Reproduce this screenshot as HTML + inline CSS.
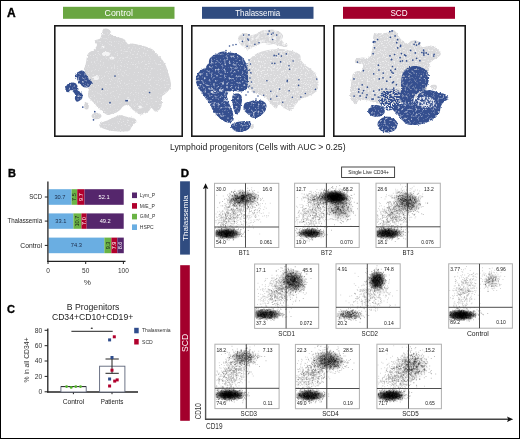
<!DOCTYPE html>
<html><head><meta charset="utf-8"><style>
html,body{margin:0;padding:0;background:#fff;}
svg{display:block;will-change:transform;}
text{font-family:"Liberation Sans", sans-serif;}
</style></head><body>
<svg width="520" height="439" viewBox="0 0 520 439">
<defs>
<filter id="rough" x="-5%" y="-5%" width="110%" height="110%"><feTurbulence type="fractalNoise" baseFrequency="0.6" numOctaves="2" seed="3" result="n"/><feDisplacementMap in="SourceGraphic" in2="n" scale="2.5" xChannelSelector="R" yChannelSelector="G"/></filter>
<filter id="texb" x="-5%" y="-5%" width="110%" height="110%"><feTurbulence type="fractalNoise" baseFrequency="0.6" numOctaves="2" seed="3" result="n"/><feDisplacementMap in="SourceGraphic" in2="n" scale="2.6" xChannelSelector="R" yChannelSelector="G" result="d"/><feTurbulence type="fractalNoise" baseFrequency="0.45" numOctaves="2" seed="11" result="n2"/><feComponentTransfer in="n2" result="m"><feFuncA type="discrete" tableValues="1 1 1 1 1 1 1 1 1 .85 .7 .55 .4 .35 .35 .35"/></feComponentTransfer><feComposite in="d" in2="m" operator="in"/></filter>
<filter id="texb2" x="-5%" y="-5%" width="110%" height="110%"><feTurbulence type="fractalNoise" baseFrequency="0.6" numOctaves="2" seed="3" result="n"/><feDisplacementMap in="SourceGraphic" in2="n" scale="2.6" xChannelSelector="R" yChannelSelector="G" result="d"/><feTurbulence type="fractalNoise" baseFrequency="0.6" numOctaves="2" seed="11" result="n2"/><feComponentTransfer in="n2" result="m"><feFuncA type="discrete" tableValues="1 1 1 1 1 1 1 1 .5 .2 0 0 0 0 0 0"/></feComponentTransfer><feComposite in="d" in2="m" operator="in"/></filter>
<filter id="texg" x="-5%" y="-5%" width="110%" height="110%"><feTurbulence type="fractalNoise" baseFrequency="0.6" numOctaves="2" seed="3" result="n"/><feDisplacementMap in="SourceGraphic" in2="n" scale="2.6" xChannelSelector="R" yChannelSelector="G" result="d"/><feTurbulence type="fractalNoise" baseFrequency="0.7" numOctaves="2" seed="11" result="n2"/><feComponentTransfer in="n2" result="m"><feFuncA type="discrete" tableValues="1 1 1 1 1 1 1 1 1 1 .85 .7 .6 .6 .6 .6"/></feComponentTransfer><feComposite in="d" in2="m" operator="in"/></filter>
<filter id="texg2" x="-5%" y="-5%" width="110%" height="110%"><feTurbulence type="fractalNoise" baseFrequency="0.6" numOctaves="2" seed="3" result="n"/><feDisplacementMap in="SourceGraphic" in2="n" scale="2.6" xChannelSelector="R" yChannelSelector="G" result="d"/><feTurbulence type="fractalNoise" baseFrequency="0.7" numOctaves="2" seed="11" result="n2"/><feComponentTransfer in="n2" result="m"><feFuncA type="discrete" tableValues="1 1 1 1 1 1 1 1 1 .85 .6 .5 .4 .4 .4 .4"/></feComponentTransfer><feComposite in="d" in2="m" operator="in"/></filter>
<filter id="texg3" x="-5%" y="-5%" width="110%" height="110%"><feTurbulence type="fractalNoise" baseFrequency="0.6" numOctaves="2" seed="3" result="n"/><feDisplacementMap in="SourceGraphic" in2="n" scale="2.6" xChannelSelector="R" yChannelSelector="G" result="d"/><feTurbulence type="fractalNoise" baseFrequency="0.35" numOctaves="2" seed="5" result="n2"/><feComponentTransfer in="n2" result="m"><feFuncA type="discrete" tableValues="1 1 1 1 1 1 1 1 .8 .6 .45 .35 .3 .3 .3 .3"/></feComponentTransfer><feComposite in="d" in2="m" operator="in"/></filter>
</defs>
<rect width="520" height="439" fill="#fff"/>
<text x="7" y="16.9" font-size="12" fill="#000" text-anchor="start" font-weight="bold" stroke="#000" stroke-width=".35">A</text>
<rect x="63" y="6.8" width="111.5" height="12" fill="#6aa642"/>
<text x="118.75" y="15.7" font-size="8.7" fill="#fff" text-anchor="middle" textLength="28.4" lengthAdjust="spacingAndGlyphs">Control</text>
<rect x="202" y="6.8" width="111.5" height="12" fill="#304c80"/>
<text x="257.75" y="15.7" font-size="8.7" fill="#fff" text-anchor="middle" textLength="45" lengthAdjust="spacingAndGlyphs">Thalassemia</text>
<rect x="343" y="6.8" width="112" height="12" fill="#a3002c"/>
<text x="399.0" y="15.7" font-size="8.7" fill="#fff" text-anchor="middle" textLength="17.2" lengthAdjust="spacingAndGlyphs">SCD</text>
<path d="M102.0 33.0C102.5 31.5 102.3 30.2 103.0 29.5C103.7 28.8 105.0 28.5 106.0 28.5C107.0 28.5 108.2 28.9 109.0 29.5C109.8 30.1 110.6 31.1 111.0 32.0C111.4 32.9 110.6 34.2 111.5 35.0C112.4 35.8 115.0 36.5 116.6 37.0C118.2 37.5 119.7 37.6 121.0 38.0C122.3 38.4 123.3 38.5 124.5 39.5C125.7 40.5 126.9 43.4 128.0 44.0C129.1 44.6 129.8 43.4 131.2 43.4C132.6 43.4 134.6 43.8 136.7 44.3C138.8 44.8 141.9 45.5 144.0 46.1C146.1 46.7 148.0 47.3 149.5 47.9C151.0 48.5 151.9 48.9 153.1 49.8C154.3 50.7 155.6 52.2 156.8 53.4C158.0 54.6 159.2 55.6 160.4 57.1C161.6 58.6 163.0 60.8 164.1 62.6C165.2 64.4 165.9 65.6 166.8 68.0C167.7 70.4 168.9 74.4 169.6 77.2C170.3 80.0 171.1 82.9 171.0 85.0C170.9 87.1 170.0 88.5 169.0 90.0C168.0 91.5 166.2 92.9 165.0 94.0C163.8 95.1 162.5 95.3 162.0 96.5C161.5 97.7 162.1 99.4 162.0 101.0C161.9 102.6 162.0 104.5 161.5 106.0C161.0 107.5 160.1 109.1 159.0 110.0C157.9 110.9 156.2 111.8 155.0 111.5C153.8 111.2 152.5 108.1 151.5 108.0C150.5 107.9 150.2 110.0 149.0 111.0C147.8 112.0 145.5 113.4 144.0 114.0C142.5 114.6 141.3 114.8 140.0 114.5C138.7 114.2 137.2 112.8 136.0 112.0C134.8 111.2 134.0 110.9 133.0 110.0C132.0 109.1 131.0 107.3 130.0 106.5C129.0 105.7 128.2 105.0 127.0 105.0C125.8 105.0 124.2 105.7 123.0 106.5C121.8 107.3 121.1 109.0 120.0 110.0C118.9 111.0 117.8 111.8 116.5 112.5C115.2 113.2 113.5 113.6 112.0 114.0C110.5 114.4 109.0 115.3 107.5 115.0C106.0 114.7 104.5 113.1 103.0 112.0C101.5 110.9 99.8 109.8 98.5 108.5C97.2 107.2 96.2 105.4 95.0 104.0C93.8 102.6 92.2 101.3 91.0 100.0C89.8 98.7 88.3 97.8 88.0 96.0C87.7 94.2 88.6 91.3 89.0 89.0C89.4 86.7 90.8 84.2 90.5 82.0C90.2 79.8 88.1 78.0 87.0 76.0C85.9 74.0 84.2 71.8 84.0 70.0C83.8 68.2 85.1 66.7 85.5 65.0C85.9 63.3 86.1 61.6 86.4 60.0C86.7 58.4 86.8 56.5 87.3 55.2C87.8 54.0 88.0 53.4 89.1 52.5C90.2 51.6 92.4 51.0 93.7 49.8C95.0 48.5 96.8 46.5 97.0 45.0C97.2 43.5 94.7 41.9 94.6 41.0C94.5 40.1 95.6 40.1 96.5 39.7C97.4 39.3 99.1 39.6 100.0 38.5C100.9 37.4 101.5 34.5 102.0 33.0Z" fill="#d6d6d8" filter="url(#texg)"/>
<path d="M100.0 123.4C100.8 122.7 102.8 122.0 104.0 121.5C105.2 121.0 106.2 121.1 107.4 120.6C108.6 120.1 109.8 119.1 111.0 118.5C112.2 117.9 113.2 117.6 114.7 117.0C116.2 116.4 118.7 115.3 120.2 115.1C121.8 114.9 122.8 115.7 124.0 116.0C125.2 116.3 126.3 116.8 127.5 117.0C128.7 117.2 129.8 117.2 131.0 117.5C132.2 117.8 133.9 118.1 134.8 118.8C135.7 119.5 136.6 120.7 136.6 121.5C136.6 122.3 135.6 122.9 135.0 123.5C134.4 124.1 133.7 124.5 133.0 125.2C132.3 126.0 131.6 127.1 131.0 128.0C130.4 128.9 130.5 130.1 129.3 130.7C128.1 131.3 125.5 131.7 124.0 131.8C122.5 132.0 121.7 131.7 120.2 131.6C118.7 131.5 116.5 131.3 115.0 131.2C113.5 131.0 112.5 131.0 111.0 130.7C109.5 130.4 107.5 129.9 106.0 129.5C104.5 129.1 103.1 128.6 102.0 128.0C100.9 127.4 99.8 126.8 99.5 126.0C99.2 125.2 99.2 124.2 100.0 123.4Z" fill="#d6d6d8" filter="url(#texg)"/>
<ellipse cx="96.5" cy="116" rx="5" ry="3.3" fill="#d6d6d8" filter="url(#texg)"/>
<ellipse cx="86.5" cy="106" rx="2.3" ry="3.5" fill="#d6d6d8" filter="url(#texg)"/>
<ellipse cx="106" cy="54" rx="4" ry="2.2" fill="#f4f4f5" filter="url(#rough)"/>
<ellipse cx="112" cy="58" rx="2.5" ry="1.5" fill="#f4f4f5" filter="url(#rough)"/>
<ellipse cx="96" cy="78" rx="3" ry="2" fill="#f4f4f5" filter="url(#rough)"/>
<ellipse cx="128" cy="100" rx="2" ry="1.5" fill="#f4f4f5" filter="url(#rough)"/>
<ellipse cx="140" cy="107" rx="2" ry="1.5" fill="#f4f4f5" filter="url(#rough)"/>
<ellipse cx="103" cy="47" rx="1.5" ry="1.2" fill="#f4f4f5" filter="url(#rough)"/>
<path d="M76.4 73.2C77.0 72.5 78.1 71.9 79.1 71.5C80.1 71.1 81.4 70.5 82.3 70.6C83.2 70.7 83.9 71.3 84.6 72.0C85.3 72.7 85.8 73.9 86.4 74.8C87.0 75.7 87.6 76.7 88.2 77.6C88.8 78.5 89.4 79.5 90.1 80.3C90.8 81.1 92.1 81.6 92.3 82.3C92.5 83.0 91.5 83.5 91.0 84.3C90.5 85.1 90.0 86.4 89.2 86.9C88.4 87.4 87.4 87.5 86.4 87.5C85.4 87.5 84.2 87.5 83.2 87.0C82.2 86.5 81.3 85.5 80.5 84.6C79.7 83.7 78.9 82.4 78.2 81.4C77.5 80.4 77.1 79.6 76.6 78.7C76.1 77.8 75.4 76.8 75.4 75.9C75.4 75.0 75.8 73.9 76.4 73.2Z" fill="#34508f" filter="url(#texb)"/>
<path d="M65.9 86.7C66.4 85.8 67.2 84.3 68.2 83.6C69.2 82.9 70.5 82.6 71.8 82.6C73.1 82.6 74.9 82.9 75.9 83.6C76.9 84.2 77.4 85.7 77.6 86.5C77.8 87.3 77.1 87.8 77.2 88.5C77.3 89.2 77.7 90.1 78.4 90.8C79.1 91.5 80.7 91.9 81.4 92.6C82.1 93.3 82.4 94.1 82.5 95.1C82.6 96.1 82.6 97.7 82.0 98.7C81.4 99.7 80.0 100.5 79.1 101.0C78.2 101.5 77.1 101.9 76.4 101.5C75.7 101.1 75.1 99.8 74.9 98.7C74.7 97.6 75.5 96.1 75.3 95.1C75.1 94.1 74.4 93.3 73.7 92.5C73.0 91.7 71.9 90.0 71.0 90.0C70.1 90.0 69.2 92.0 68.4 92.2C67.6 92.4 66.8 91.9 66.3 91.4C65.8 90.9 65.4 89.9 65.3 89.1C65.2 88.3 65.4 87.6 65.9 86.7Z" fill="#34508f" filter="url(#texb)"/>
<path d="M102.4 89.2h0M110.0 102.7h0M126.0 100.7h0M127.3 100.7h0M149.6 92.5h0M94.8 111.7h0M93.5 119.8h0M82.8 107.1h0M115.0 76.0h0" stroke="#34508f" stroke-width="1.7" stroke-linecap="round" fill="none"/>
<path d="M238.0 38.0C238.2 36.3 239.7 34.8 241.0 34.0C242.3 33.2 244.5 32.8 246.0 33.0C247.5 33.2 248.3 34.8 250.0 35.0C251.7 35.2 254.2 34.7 256.0 34.0C257.8 33.3 259.3 31.7 261.0 31.0C262.7 30.3 264.2 30.2 266.0 30.0C267.8 29.8 270.2 29.4 272.0 29.5C273.8 29.6 275.5 29.9 277.0 30.5C278.5 31.1 280.0 32.1 281.0 33.0C282.0 33.9 282.8 34.8 283.0 36.0C283.2 37.2 281.8 38.8 282.0 40.0C282.2 41.2 283.1 42.2 284.0 43.0C284.9 43.8 287.2 43.8 287.5 44.5C287.8 45.2 287.2 46.8 286.0 47.0C284.8 47.2 281.7 46.3 280.0 46.0C278.3 45.7 277.2 45.3 276.0 45.0C274.8 44.7 274.3 44.0 273.0 44.0C271.7 44.0 269.8 45.2 268.0 45.0C266.2 44.8 263.8 42.8 262.0 43.0C260.2 43.2 258.7 45.2 257.0 46.0C255.3 46.8 253.5 46.9 252.0 47.5C250.5 48.1 249.3 49.4 248.0 49.5C246.7 49.6 245.3 48.9 244.0 48.0C242.7 47.1 241.0 45.7 240.0 44.0C239.0 42.3 237.8 39.7 238.0 38.0Z" fill="#d9d9db" filter="url(#texg3)"/>
<path d="M264.0 51.0C266.7 50.2 269.3 49.8 272.0 49.5C274.7 49.2 277.3 48.9 280.0 49.0C282.7 49.1 285.5 49.5 288.0 50.0C290.5 50.5 293.0 51.2 295.0 52.0C297.0 52.8 299.0 53.7 300.0 55.0C301.0 56.3 300.2 58.3 301.0 60.0C301.8 61.7 303.5 63.6 305.0 65.0C306.5 66.4 308.3 67.2 310.0 68.5C311.7 69.8 313.8 71.4 315.0 73.0C316.2 74.6 316.9 76.2 317.5 78.0C318.1 79.8 318.6 82.0 318.5 84.0C318.4 86.0 317.9 88.3 317.0 90.0C316.1 91.7 314.7 92.8 313.0 94.0C311.3 95.2 308.8 96.2 307.0 97.0C305.2 97.8 303.7 97.5 302.0 98.5C300.3 99.5 298.3 101.6 297.0 103.0C295.7 104.4 295.2 105.8 294.0 107.0C292.8 108.2 291.7 110.3 290.0 110.5C288.3 110.7 285.7 109.0 284.0 108.0C282.3 107.0 281.3 104.4 280.0 104.5C278.7 104.6 277.3 108.4 276.0 108.5C274.7 108.6 273.7 106.8 272.0 105.0C270.3 103.2 268.0 99.7 266.0 98.0C264.0 96.3 262.3 96.0 260.0 95.0C257.7 94.0 254.3 93.7 252.0 92.0C249.7 90.3 247.2 87.8 246.0 85.0C244.8 82.2 244.8 78.2 245.0 75.0C245.2 71.8 246.2 68.7 247.0 66.0C247.8 63.3 248.5 61.0 250.0 59.0C251.5 57.0 253.7 55.3 256.0 54.0C258.3 52.7 261.3 51.8 264.0 51.0Z" fill="#d9d9db" filter="url(#texg2)"/>
<ellipse cx="252" cy="126.5" rx="1.8" ry="2.5" fill="#d9d9db" filter="url(#texg2)"/>
<path d="M223.0 51.5C225.0 51.4 227.7 52.1 230.0 52.5C232.3 52.9 235.0 53.2 237.0 54.0C239.0 54.8 240.6 55.7 242.0 57.0C243.4 58.3 244.6 60.2 245.5 62.0C246.4 63.8 247.1 65.8 247.5 68.0C247.9 70.2 247.9 72.8 248.0 75.0C248.1 77.2 248.1 79.0 248.0 81.0C247.9 83.0 248.0 85.4 247.5 87.0C247.0 88.6 246.2 89.8 245.0 90.5C243.8 91.2 241.7 91.4 240.0 91.5C238.3 91.6 236.7 91.0 235.0 91.0C233.3 91.0 231.3 90.7 230.0 91.5C228.7 92.3 227.2 94.1 227.0 96.0C226.8 97.9 228.2 100.7 229.0 103.0C229.8 105.3 231.2 107.8 232.0 110.0C232.8 112.2 233.3 114.2 233.5 116.0C233.7 117.8 233.9 119.9 233.0 121.0C232.1 122.1 229.8 122.9 228.0 122.7C226.2 122.5 223.7 121.0 222.0 120.0C220.3 119.0 219.5 118.0 218.0 116.5C216.5 115.0 214.3 113.1 213.0 111.0C211.7 108.9 211.2 106.0 210.0 104.0C208.8 102.0 207.3 100.8 206.0 99.0C204.7 97.2 203.3 95.0 202.0 93.0C200.7 91.0 199.0 88.8 198.0 87.0C197.0 85.2 196.2 83.8 196.0 82.0C195.8 80.2 195.8 77.8 196.5 76.0C197.2 74.2 198.6 72.4 200.0 71.0C201.4 69.6 203.6 68.8 205.0 67.5C206.4 66.2 207.8 64.4 208.5 63.0C209.2 61.6 208.8 60.2 209.5 59.0C210.2 57.8 211.6 56.5 213.0 55.5C214.4 54.5 216.3 53.7 218.0 53.0C219.7 52.3 221.0 51.6 223.0 51.5Z" fill="#34508f" filter="url(#texb)"/>
<ellipse cx="214" cy="92" rx="3.5" ry="1.6" fill="#fff" opacity="0.75" filter="url(#texb2)"/>
<ellipse cx="221" cy="90.5" rx="3" ry="1.4" fill="#fff" opacity="0.7" filter="url(#texb2)"/>
<ellipse cx="228" cy="93" rx="2.5" ry="2" fill="#fff" opacity="0.8" filter="url(#texb2)"/>
<ellipse cx="210" cy="88" rx="2" ry="1.2" fill="#fff" opacity="0.6" filter="url(#texb2)"/>
<ellipse cx="225" cy="100" rx="1.5" ry="1.2" fill="#fff" opacity="0.6" filter="url(#texb2)"/>
<ellipse cx="218" cy="104" rx="1.8" ry="1.2" fill="#fff" opacity="0.5" filter="url(#texb2)"/>
<ellipse cx="236" cy="68" rx="2" ry="1.2" fill="#fff" opacity="0.4" filter="url(#texb2)"/>
<ellipse cx="226" cy="60" rx="1.6" ry="1" fill="#fff" opacity="0.4" filter="url(#texb2)"/>
<path d="M233.0 95.0C233.8 93.9 235.7 93.5 237.0 93.5C238.3 93.5 240.2 93.9 241.0 95.0C241.8 96.1 242.0 98.2 242.0 100.0C242.0 101.8 241.3 104.2 241.0 106.0C240.7 107.8 240.6 109.6 240.0 111.0C239.4 112.4 238.4 114.3 237.5 114.5C236.6 114.7 235.2 113.4 234.5 112.0C233.8 110.6 233.4 108.0 233.0 106.0C232.6 104.0 232.0 101.8 232.0 100.0C232.0 98.2 232.2 96.1 233.0 95.0Z" fill="#34508f" filter="url(#texb)"/>
<path d="M245.0 103.0C246.2 102.0 248.6 101.7 250.4 101.2C252.2 100.7 254.2 100.1 256.0 100.0C257.8 99.9 259.7 100.0 261.2 100.4C262.7 100.8 264.1 101.6 265.0 102.5C265.9 103.4 266.4 104.7 266.5 106.0C266.6 107.3 266.2 109.1 265.5 110.5C264.8 111.9 263.5 113.2 262.0 114.5C260.5 115.8 258.3 117.6 256.5 118.0C254.7 118.4 252.5 117.8 251.0 117.0C249.5 116.2 248.5 114.6 247.3 113.5C246.1 112.4 244.6 111.6 244.0 110.5C243.4 109.4 243.3 108.2 243.5 107.0C243.7 105.8 243.8 104.0 245.0 103.0Z" fill="#34508f" filter="url(#texb)"/>
<path d="M232.0 124.0C233.0 123.2 235.2 122.5 237.0 122.0C238.8 121.5 241.0 121.3 243.0 121.2C245.0 121.1 247.7 121.0 249.0 121.5C250.3 122.0 251.0 122.8 251.0 124.0C251.0 125.2 250.2 127.2 249.0 128.5C247.8 129.8 245.8 130.9 244.0 131.5C242.2 132.1 239.8 132.2 238.0 132.0C236.2 131.8 234.7 130.8 233.5 130.0C232.3 129.2 231.2 128.0 231.0 127.0C230.8 126.0 231.0 124.8 232.0 124.0Z" fill="#34508f" filter="url(#texb)"/>
<path d="M276.7 35.1h0M268.0 34.1h0M273.1 33.1h0M242.4 41.4h0M269.2 31.1h0M259.0 42.8h0M243.6 35.1h0M271.5 34.2h0M247.8 39.0h0M248.4 40.1h0M272.6 39.5h0M249.0 34.9h0M247.1 46.3h0M254.9 44.4h0M287.2 81.6h0M292.3 97.2h0M274.8 63.4h0M274.2 55.4h0M289.0 65.7h0M272.1 63.3h0M270.8 99.1h0M276.2 55.8h0M315.4 89.4h0M280.6 61.9h0M298.6 85.4h0M270.8 91.2h0M286.3 53.9h0M305.3 93.5h0M287.3 80.4h0M289.1 90.7h0M274.1 55.8h0M293.1 61.0h0M300.9 97.1h0M250.8 72.7h0M316.8 79.1h0M276.8 96.3h0M278.7 54.1h0M281.4 56.1h0M298.9 79.8h0M279.6 89.1h0M289.6 69.3h0M266.9 80.7h0M263.7 95.3h0M282.7 102.2h0M229.5 46.0h0M233.0 45.0h0M236.0 44.5h0M254.0 92.0h0M258.0 96.0h0M256.0 99.0h0M249.0 60.0h0M250.5 64.0h0M249.5 70.0h0M251.0 73.0h0M250.0 78.0h0M251.5 82.0h0M249.5 86.0h0M252.0 88.0h0M248.0 92.0h0M246.0 95.0h0M226.0 50.5h0" stroke="#34508f" stroke-width="1.6" stroke-linecap="round" fill="none"/>
<path d="M373.5 35.0C374.2 33.2 375.6 33.8 377.0 33.5C378.4 33.2 380.2 33.5 382.0 33.3C383.8 33.1 386.3 33.0 388.0 32.5C389.7 32.0 390.8 30.4 392.0 30.2C393.2 29.9 394.0 30.2 395.0 31.0C396.0 31.8 397.2 33.8 398.0 35.0C398.8 36.2 399.0 36.8 400.0 38.0C401.0 39.2 402.8 41.0 404.0 42.0C405.2 43.0 405.8 44.2 407.0 44.0C408.2 43.8 409.7 41.6 411.0 41.0C412.3 40.4 413.6 40.4 415.0 40.5C416.4 40.6 418.6 40.9 419.6 41.8C420.6 42.7 420.3 45.1 421.0 46.0C421.7 46.9 422.5 47.1 424.0 47.0C425.5 46.9 428.0 45.4 430.0 45.6C432.0 45.8 434.3 46.9 436.0 48.0C437.7 49.1 439.2 50.8 440.0 52.0C440.8 53.2 441.1 53.9 440.5 55.0C439.9 56.1 437.8 57.5 436.4 58.5C435.0 59.5 433.1 60.1 432.0 61.0C430.9 61.9 430.5 62.5 430.0 64.0C429.5 65.5 429.3 67.3 429.0 70.0C428.7 72.7 428.7 76.3 428.0 80.0C427.3 83.7 428.0 88.7 425.0 92.0C422.0 95.3 415.0 98.0 410.0 100.0C405.0 102.0 400.0 103.3 395.0 104.0C390.0 104.7 384.2 104.5 380.0 104.0C375.8 103.5 373.0 101.7 370.0 101.0C367.0 100.3 363.9 100.1 362.0 100.0C360.1 99.9 359.9 99.8 358.8 100.5C357.7 101.2 356.6 104.1 355.5 104.2C354.4 104.3 352.9 102.2 352.0 101.0C351.1 99.8 350.2 98.8 350.0 97.0C349.8 95.2 350.3 92.2 350.5 90.0C350.7 87.8 350.8 86.0 351.0 84.0C351.2 82.0 351.7 79.7 352.0 78.0C352.3 76.3 352.3 75.1 353.0 74.0C353.7 72.9 354.5 72.1 356.0 71.4C357.5 70.7 360.9 71.2 362.0 70.0C363.1 68.8 363.3 65.1 362.6 64.0C361.9 62.9 359.3 63.8 358.0 63.5C356.7 63.2 355.3 62.8 355.0 62.0C354.7 61.2 354.8 59.8 356.0 59.0C357.2 58.2 360.2 57.7 362.0 57.5C363.8 57.3 365.6 58.2 367.0 58.0C368.4 57.8 369.6 57.3 370.4 56.0C371.2 54.7 371.6 52.0 372.0 50.0C372.4 48.0 372.8 46.5 373.0 44.0C373.2 41.5 372.8 36.8 373.5 35.0Z" fill="#d9d9db" filter="url(#texg2)"/>
<ellipse cx="434" cy="87" rx="3" ry="2.5" fill="#d9d9db" filter="url(#texg2)"/>
<path d="M382.0 92.0C383.8 90.2 387.3 89.8 390.0 89.5C392.7 89.2 396.2 88.9 398.0 90.0C399.8 91.1 400.7 93.8 401.0 96.0C401.3 98.2 400.8 101.2 400.0 103.0C399.2 104.8 397.3 105.8 396.0 107.0C394.7 108.2 393.7 109.5 392.0 110.0C390.3 110.5 387.7 110.7 386.0 110.0C384.3 109.3 383.2 107.7 382.0 106.0C380.8 104.3 379.0 102.3 379.0 100.0C379.0 97.7 380.2 93.8 382.0 92.0Z" fill="#34508f" filter="url(#texb2)"/>
<path d="M405.0 70.0C406.2 68.9 408.2 67.2 410.0 66.5C411.8 65.8 414.0 65.8 416.0 66.0C418.0 66.2 420.2 66.7 422.0 67.5C423.8 68.3 425.8 69.6 427.0 71.0C428.2 72.4 428.7 74.3 429.0 76.0C429.3 77.7 428.9 79.3 428.6 81.0C428.3 82.7 427.8 84.5 427.0 86.0C426.2 87.5 425.5 88.8 424.0 90.0C422.5 91.2 419.7 91.8 418.0 93.0C416.3 94.2 414.8 95.3 414.0 97.0C413.2 98.7 414.0 101.7 413.0 103.0C412.0 104.3 409.8 105.0 408.0 105.0C406.2 105.0 403.3 104.3 402.0 103.0C400.7 101.7 400.2 99.2 400.0 97.0C399.8 94.8 400.8 92.2 401.0 90.0C401.2 87.8 400.9 86.0 401.0 84.0C401.1 82.0 401.2 79.8 401.5 78.0C401.8 76.2 402.4 74.3 403.0 73.0C403.6 71.7 403.8 71.1 405.0 70.0Z" fill="#34508f" filter="url(#texb)"/>
<path d="M421.0 92.5C422.3 91.8 424.5 90.9 426.0 90.5C427.5 90.1 428.7 89.8 430.0 89.9C431.3 90.0 432.6 90.6 434.0 91.0C435.4 91.4 437.1 92.1 438.4 92.5C439.7 92.9 440.9 93.2 442.0 93.5C443.1 93.8 444.2 93.6 445.2 94.2C446.2 94.8 447.6 96.2 448.0 97.0C448.4 97.8 448.5 98.5 447.8 99.3C447.1 100.1 445.0 101.2 444.0 102.0C443.0 102.8 442.4 103.4 441.8 104.4C441.2 105.4 440.8 106.8 440.5 108.0C440.2 109.2 440.4 110.1 440.0 111.3C439.6 112.5 438.8 113.9 438.0 115.0C437.2 116.1 436.3 117.1 435.0 118.1C433.7 119.1 431.7 120.2 430.0 121.0C428.3 121.8 426.5 122.6 424.7 123.2C422.9 123.8 420.7 124.2 419.0 124.5C417.3 124.8 416.2 125.0 414.4 125.0C412.6 125.0 409.7 125.0 408.0 124.5C406.3 124.0 405.2 122.9 404.0 122.0C402.8 121.1 402.0 120.2 401.0 119.0C400.0 117.8 399.2 116.3 398.0 115.0C396.8 113.7 395.0 112.2 394.0 111.0C393.0 109.8 391.7 109.0 392.0 108.0C392.3 107.0 394.3 105.7 396.0 105.0C397.7 104.3 400.0 104.0 402.0 104.0C404.0 104.0 406.2 105.2 408.0 105.0C409.8 104.8 411.7 104.0 413.0 103.0C414.3 102.0 415.2 100.3 416.0 99.0C416.8 97.7 417.2 96.1 418.0 95.0C418.8 93.9 419.7 93.2 421.0 92.5Z" fill="#34508f" filter="url(#texb)"/>
<path d="M418 99 C421 96 428 95.5 432 98 C436 100 436 104 433 106 C429 108.5 424 108 420 106 C417 104 416 101 418 99 Z" fill="#fff" opacity=".8" filter="url(#texb2)"/>
<path d="M422.0 101.0h0M424.0 103.0h0M428.0 100.5h0M429.0 102.5h0M420.0 104.0h0M431.0 104.0h0M426.0 98.5h0" stroke="#34508f" stroke-width="1.8" stroke-linecap="round" fill="none"/>
<ellipse cx="376.5" cy="111" rx="8.5" ry="6" fill="#34508f" filter="url(#texb)"/>
<ellipse cx="387.5" cy="124.6" rx="10" ry="8" fill="#34508f" filter="url(#texb)"/>
<path d="M354.1 96.1h0M391.8 72.0h0M421.9 52.5h0M392.5 82.7h0M393.6 81.8h0M428.2 54.3h0M391.7 59.4h0M373.7 73.8h0M378.9 70.0h0M400.5 46.4h0M396.7 42.7h0M422.9 90.9h0M433.7 56.0h0M423.9 55.1h0M390.0 55.8h0M416.6 58.3h0M419.9 60.7h0M415.5 42.0h0M358.9 89.2h0M397.7 47.9h0M379.3 89.9h0M386.8 81.2h0M362.2 84.8h0M400.6 45.3h0M395.3 69.2h0M374.9 94.9h0M386.1 88.9h0M362.4 93.0h0M354.0 78.9h0M390.4 77.2h0M379.3 78.9h0M405.8 55.7h0M373.1 53.7h0M393.1 73.2h0M367.4 87.2h0M391.4 59.7h0M423.8 53.6h0M423.6 50.2h0M434.1 54.3h0M410.6 50.4h0M397.6 39.7h0M367.0 94.8h0M383.2 73.1h0M404.6 54.9h0M394.6 54.5h0M406.6 60.9h0M402.4 60.8h0M366.2 97.4h0M389.8 31.6h0M419.5 43.0h0M363.4 70.7h0M378.2 97.1h0M378.4 65.2h0M373.7 91.1h0M412.8 60.1h0M375.0 41.8h0M414.1 44.3h0M390.8 70.3h0M392.1 30.9h0M392.5 66.5h0M418.8 44.0h0M374.5 47.8h0M400.1 57.7h0M426.2 52.9h0M357.5 62.1h0M395.1 35.9h0M401.4 53.6h0M372.0 99.1h0M373.5 41.6h0M416.5 45.1h0M373.3 42.2h0M360.1 95.9h0M358.7 91.9h0M400.4 61.3h0M390.4 37.3h0M423.9 52.1h0M363.6 90.6h0M373.3 99.0h0M415.3 52.9h0M377.6 39.6h0M383.0 77.8h0M393.8 88.1h0M396.4 84.7h0M424.9 90.4h0M381.9 89.1h0" stroke="#34508f" stroke-width="1.7" stroke-linecap="round" fill="none"/>
<rect x="54.8" y="25.8" width="127.4" height="110.4" fill="none" stroke="#1a1a1a" stroke-width="1.6"/>
<rect x="191.8" y="25.8" width="132.4" height="110.4" fill="none" stroke="#1a1a1a" stroke-width="1.6"/>
<rect x="333.8" y="25.8" width="131.4" height="110.4" fill="none" stroke="#1a1a1a" stroke-width="1.6"/>
<text x="170" y="149.9" font-size="8.6" fill="#222" text-anchor="start" textLength="175.6" lengthAdjust="spacingAndGlyphs">Lymphoid progenitors (Cells with AUC &gt; 0.25)</text>
<text x="8" y="176.5" font-size="11" fill="#000" text-anchor="start" font-weight="bold" stroke="#000" stroke-width=".35">B</text>
<rect x="48.50" y="189.2" width="23.09" height="15.6" fill="#6aaee2"/>
<text x="60.0" y="199.0" font-size="5.7" fill="#1c2b48" text-anchor="middle">30.7</text>
<rect x="71.59" y="189.2" width="5.64" height="15.6" fill="#6ab345"/>
<text x="76.4" y="197.0" font-size="5.6" fill="#1a1a1a" text-anchor="middle" transform="rotate(-90 76.4 197.0)">7.5</text>
<rect x="77.23" y="189.2" width="7.29" height="15.6" fill="#b1002d"/>
<text x="82.9" y="197.0" font-size="5.6" fill="#fff" text-anchor="middle" transform="rotate(-90 82.9 197.0)">9.7</text>
<rect x="84.52" y="189.2" width="39.18" height="15.6" fill="#55266c"/>
<text x="104.1" y="199.0" font-size="5.7" fill="#fff" text-anchor="middle">52.1</text>
<line x1="44.8" y1="197.0" x2="48" y2="197.0" stroke="#222" stroke-width="1"/>
<text x="42.1" y="199.3" font-size="6.5" fill="#222" text-anchor="end" textLength="12.8" lengthAdjust="spacingAndGlyphs">SCD</text>
<rect x="48.50" y="213.4" width="24.89" height="15.4" fill="#6aaee2"/>
<text x="60.9" y="223.1" font-size="5.7" fill="#1c2b48" text-anchor="middle">33.1</text>
<rect x="73.39" y="213.4" width="8.05" height="15.4" fill="#6ab345"/>
<text x="79.4" y="221.1" font-size="5.6" fill="#1a1a1a" text-anchor="middle" transform="rotate(-90 79.4 221.1)">10.7</text>
<rect x="81.44" y="213.4" width="5.26" height="15.4" fill="#b1002d"/>
<text x="86.1" y="221.1" font-size="5.6" fill="#fff" text-anchor="middle" transform="rotate(-90 86.1 221.1)">7.0</text>
<rect x="86.70" y="213.4" width="37.00" height="15.4" fill="#55266c"/>
<text x="105.2" y="223.1" font-size="5.7" fill="#fff" text-anchor="middle">49.2</text>
<line x1="44.8" y1="221.10000000000002" x2="48" y2="221.10000000000002" stroke="#222" stroke-width="1"/>
<text x="42.1" y="223.4" font-size="6.5" fill="#222" text-anchor="end" textLength="34.6" lengthAdjust="spacingAndGlyphs">Thalassemia</text>
<rect x="48.50" y="237.6" width="55.87" height="15.6" fill="#6aaee2"/>
<text x="76.4" y="247.4" font-size="5.7" fill="#1c2b48" text-anchor="middle">74.3</text>
<rect x="104.37" y="237.6" width="6.99" height="15.6" fill="#6ab345"/>
<text x="109.9" y="245.4" font-size="5.6" fill="#1a1a1a" text-anchor="middle" transform="rotate(-90 109.9 245.4)">9.3</text>
<rect x="111.37" y="237.6" width="5.94" height="15.6" fill="#b1002d"/>
<text x="116.3" y="245.4" font-size="5.6" fill="#fff" text-anchor="middle" transform="rotate(-90 116.3 245.4)">7.9</text>
<rect x="117.31" y="237.6" width="6.47" height="15.6" fill="#55266c"/>
<text x="122.5" y="245.4" font-size="5.6" fill="#fff" text-anchor="middle" transform="rotate(-90 122.5 245.4)">8.6</text>
<line x1="44.8" y1="245.39999999999998" x2="48" y2="245.39999999999998" stroke="#222" stroke-width="1"/>
<text x="42.1" y="247.7" font-size="6.5" fill="#222" text-anchor="end" textLength="21.8" lengthAdjust="spacingAndGlyphs">Control</text>
<line x1="47.9" y1="181.6" x2="47.9" y2="262" stroke="#222" stroke-width="1.3"/>
<line x1="47.3" y1="261.4" x2="125.5" y2="261.4" stroke="#222" stroke-width="1.3"/>
<line x1="48" y1="261" x2="48" y2="264" stroke="#222" stroke-width="1"/>
<text x="48" y="272.7" font-size="6.5" fill="#333" text-anchor="middle">0</text>
<line x1="85.7" y1="261" x2="85.7" y2="264" stroke="#222" stroke-width="1"/>
<text x="85.7" y="272.7" font-size="6.5" fill="#333" text-anchor="middle">50</text>
<line x1="123.4" y1="261" x2="123.4" y2="264" stroke="#222" stroke-width="1"/>
<text x="123.4" y="272.7" font-size="6.5" fill="#333" text-anchor="middle">100</text>
<text x="87.3" y="285.4" font-size="8" fill="#333" text-anchor="middle">%</text>
<rect x="132" y="192.5" width="5" height="5.6" fill="#55266c"/>
<text x="139.8" y="196.9" font-size="5" fill="#333" text-anchor="start">Lym_P</text>
<rect x="132" y="203.1" width="5" height="5.6" fill="#b1002d"/>
<text x="139.8" y="207.5" font-size="5" fill="#333" text-anchor="start">M/E_P</text>
<rect x="132" y="213.8" width="5" height="5.6" fill="#6ab345"/>
<text x="139.8" y="218.20000000000002" font-size="5" fill="#333" text-anchor="start">G/M_P</text>
<rect x="132" y="224.4" width="5" height="5.6" fill="#6aaee2"/>
<text x="139.8" y="228.8" font-size="5" fill="#333" text-anchor="start">HSPC</text>
<text x="7" y="312.5" font-size="11" fill="#000" text-anchor="start" font-weight="bold" stroke="#000" stroke-width=".35">C</text>
<text x="93.1" y="309.7" font-size="8.6" fill="#222" text-anchor="middle" textLength="52.6" lengthAdjust="spacingAndGlyphs">B Progenitors</text>
<text x="92.6" y="319.7" font-size="8.6" fill="#222" text-anchor="middle" textLength="81.4" lengthAdjust="spacingAndGlyphs">CD34+CD10+CD19+</text>
<line x1="47.8" y1="328.4" x2="47.8" y2="392.6" stroke="#222" stroke-width="1.3"/>
<line x1="47.2" y1="392" x2="138" y2="392" stroke="#222" stroke-width="1.3"/>
<line x1="44.6" y1="391.8" x2="47.8" y2="391.8" stroke="#222" stroke-width="1"/>
<text x="42.4" y="394.1" font-size="6.8" fill="#333" text-anchor="end">0</text>
<line x1="44.6" y1="376.4" x2="47.8" y2="376.4" stroke="#222" stroke-width="1"/>
<text x="42.4" y="378.7" font-size="6.8" fill="#333" text-anchor="end">20</text>
<line x1="44.6" y1="361.0" x2="47.8" y2="361.0" stroke="#222" stroke-width="1"/>
<text x="42.4" y="363.3" font-size="6.8" fill="#333" text-anchor="end">40</text>
<line x1="44.6" y1="345.7" x2="47.8" y2="345.7" stroke="#222" stroke-width="1"/>
<text x="42.4" y="348.0" font-size="6.8" fill="#333" text-anchor="end">60</text>
<line x1="44.6" y1="330.3" x2="47.8" y2="330.3" stroke="#222" stroke-width="1"/>
<text x="42.4" y="332.6" font-size="6.8" fill="#333" text-anchor="end">80</text>
<line x1="73.4" y1="392" x2="73.4" y2="394.2" stroke="#222" stroke-width="1"/>
<line x1="112" y1="392" x2="112" y2="394.2" stroke="#222" stroke-width="1"/>
<text x="28.9" y="360" font-size="6.8" fill="#333" text-anchor="middle" textLength="45" lengthAdjust="spacingAndGlyphs" transform="rotate(-90 28.9 360)">% in all CD34+</text>
<rect x="60.9" y="386.6" width="25.3" height="5.4" fill="#fff" stroke="#5d6479" stroke-width="0.9"/>
<line x1="61" y1="386.6" x2="86" y2="386.6" stroke="#222" stroke-width="0.9"/>
<rect x="99.6" y="366.2" width="25.3" height="25.8" fill="#fff" stroke="#5d6479" stroke-width="0.9"/>
<circle cx="66.6" cy="386.6" r="1.45" fill="#52b22b"/>
<circle cx="71.2" cy="387.4" r="1.45" fill="#52b22b"/>
<circle cx="75.8" cy="386.6" r="1.45" fill="#52b22b"/>
<circle cx="80.5" cy="386.6" r="1.45" fill="#52b22b"/>
<line x1="112" y1="359" x2="112" y2="373.3" stroke="#222" stroke-width="1"/>
<line x1="105.5" y1="359" x2="118.8" y2="359" stroke="#222" stroke-width="1"/>
<line x1="105.5" y1="373.3" x2="118.8" y2="373.3" stroke="#222" stroke-width="1"/>
<line x1="71.4" y1="331.3" x2="112.7" y2="331.3" stroke="#222" stroke-width="1"/>
<ellipse cx="91.8" cy="328.3" rx="1.1" ry="0.8" fill="#333"/>
<rect x="108.1" y="338.4" width="3" height="3" fill="#2f4c8c"/>
<rect x="112.8" y="335.3" width="3" height="3" fill="#b1002d"/>
<rect x="110.5" y="356.0" width="3" height="3" fill="#2f4c8c"/>
<rect x="110.5" y="368.7" width="3" height="3" fill="#b1002d"/>
<rect x="108.1" y="377.5" width="3" height="3" fill="#2f4c8c"/>
<rect x="113.2" y="379.6" width="3" height="3" fill="#b1002d"/>
<rect x="115.7" y="378.4" width="3" height="3" fill="#b1002d"/>
<rect x="108.1" y="384.5" width="3" height="3" fill="#b1002d"/>
<rect x="134.2" y="327.8" width="4.5" height="5.5" fill="#2f4c8c"/>
<rect x="134.2" y="339" width="4.5" height="5.5" fill="#b1002d"/>
<text x="142" y="332.3" font-size="5.1" fill="#333" text-anchor="start" textLength="28.7" lengthAdjust="spacingAndGlyphs">Thalassemia</text>
<text x="142" y="343.6" font-size="5.1" fill="#333" text-anchor="start">SCD</text>
<text x="73.4" y="404" font-size="6.7" fill="#222" text-anchor="middle" textLength="21.5" lengthAdjust="spacingAndGlyphs">Control</text>
<text x="112" y="404" font-size="6.7" fill="#222" text-anchor="middle" textLength="22.5" lengthAdjust="spacingAndGlyphs">Patients</text>
<text x="180.7" y="176.5" font-size="11.5" fill="#000" text-anchor="start" font-weight="bold" stroke="#000" stroke-width=".35">D</text>
<rect x="180.1" y="181.3" width="9.8" height="73.3" fill="#304c80"/>
<text x="188.3" y="218.1" font-size="8" fill="#fff" text-anchor="middle" textLength="45.6" lengthAdjust="spacingAndGlyphs" transform="rotate(-90 188.3 218.1)">Thalassemia</text>
<rect x="180.2" y="265.2" width="9.6" height="155.6" fill="#a3002c"/>
<text x="188.4" y="342.8" font-size="8.6" fill="#fff" text-anchor="middle" textLength="18.2" lengthAdjust="spacingAndGlyphs" transform="rotate(-90 188.4 342.8)">SCD</text>
<rect x="341.6" y="167" width="53" height="10.5" fill="#fff" stroke="#333" stroke-width="0.9"/>
<text x="368.5" y="174.1" font-size="4.9" fill="#222" text-anchor="middle" textLength="40.6" lengthAdjust="spacingAndGlyphs">Single Live CD34+</text>
<line x1="205.6" y1="187" x2="205.6" y2="419.9" stroke="#555" stroke-width="1.4"/>
<path d="M205.6 183.2 L202.9 189 L205.6 188 L208.3 189 Z" fill="#111"/>
<line x1="205" y1="419.3" x2="509" y2="419.3" stroke="#444" stroke-width="1.4"/>
<path d="M513.2 419.3 L507 416.6 L508.2 419.3 L507 422 Z" fill="#111"/>
<text x="201.2" y="411.2" font-size="8.2" fill="#333" text-anchor="middle" textLength="16.2" lengthAdjust="spacingAndGlyphs" transform="rotate(-90 201.2 411.2)">CD10</text>
<text x="206" y="429.3" font-size="8.2" fill="#333" text-anchor="start" textLength="16.5" lengthAdjust="spacingAndGlyphs">CD19</text>
<defs><radialGradient id="g0_0"><stop offset="0" stop-color="#000" stop-opacity="0.35"/><stop offset=".5" stop-color="#000" stop-opacity="0.28"/><stop offset="1" stop-color="#000" stop-opacity="0"/></radialGradient><radialGradient id="g0_1"><stop offset="0" stop-color="#000" stop-opacity="0.85"/><stop offset=".5" stop-color="#000" stop-opacity="0.68"/><stop offset="1" stop-color="#000" stop-opacity="0"/></radialGradient><radialGradient id="g1_2"><stop offset="0" stop-color="#000" stop-opacity="1.0"/><stop offset=".5" stop-color="#000" stop-opacity="0.80"/><stop offset="1" stop-color="#000" stop-opacity="0"/></radialGradient><radialGradient id="g1_3"><stop offset="0" stop-color="#000" stop-opacity="0.25"/><stop offset=".5" stop-color="#000" stop-opacity="0.20"/><stop offset="1" stop-color="#000" stop-opacity="0"/></radialGradient><radialGradient id="g1_4"><stop offset="0" stop-color="#000" stop-opacity="0.75"/><stop offset=".5" stop-color="#000" stop-opacity="0.60"/><stop offset="1" stop-color="#000" stop-opacity="0"/></radialGradient><radialGradient id="g2_5"><stop offset="0" stop-color="#000" stop-opacity="0.3"/><stop offset=".5" stop-color="#000" stop-opacity="0.24"/><stop offset="1" stop-color="#000" stop-opacity="0"/></radialGradient><radialGradient id="g2_6"><stop offset="0" stop-color="#000" stop-opacity="0.85"/><stop offset=".5" stop-color="#000" stop-opacity="0.68"/><stop offset="1" stop-color="#000" stop-opacity="0"/></radialGradient><radialGradient id="g3_7"><stop offset="0" stop-color="#000" stop-opacity="0.45"/><stop offset=".5" stop-color="#000" stop-opacity="0.36"/><stop offset="1" stop-color="#000" stop-opacity="0"/></radialGradient><radialGradient id="g3_8"><stop offset="0" stop-color="#000" stop-opacity="0.7"/><stop offset=".5" stop-color="#000" stop-opacity="0.56"/><stop offset="1" stop-color="#000" stop-opacity="0"/></radialGradient><radialGradient id="g4_9"><stop offset="0" stop-color="#000" stop-opacity="0.75"/><stop offset=".5" stop-color="#000" stop-opacity="0.60"/><stop offset="1" stop-color="#000" stop-opacity="0"/></radialGradient><radialGradient id="g4_10"><stop offset="0" stop-color="#000" stop-opacity="0.2"/><stop offset=".5" stop-color="#000" stop-opacity="0.16"/><stop offset="1" stop-color="#000" stop-opacity="0"/></radialGradient><radialGradient id="g5_11"><stop offset="0" stop-color="#000" stop-opacity="0.95"/><stop offset=".5" stop-color="#000" stop-opacity="0.76"/><stop offset="1" stop-color="#000" stop-opacity="0"/></radialGradient><radialGradient id="g6_12"><stop offset="0" stop-color="#000" stop-opacity="0.15"/><stop offset=".5" stop-color="#000" stop-opacity="0.12"/><stop offset="1" stop-color="#000" stop-opacity="0"/></radialGradient><radialGradient id="g6_13"><stop offset="0" stop-color="#000" stop-opacity="0.95"/><stop offset=".5" stop-color="#000" stop-opacity="0.76"/><stop offset="1" stop-color="#000" stop-opacity="0"/></radialGradient><radialGradient id="g7_14"><stop offset="0" stop-color="#000" stop-opacity="0.45"/><stop offset=".5" stop-color="#000" stop-opacity="0.36"/><stop offset="1" stop-color="#000" stop-opacity="0"/></radialGradient><radialGradient id="g7_15"><stop offset="0" stop-color="#000" stop-opacity="0.8"/><stop offset=".5" stop-color="#000" stop-opacity="0.64"/><stop offset="1" stop-color="#000" stop-opacity="0"/></radialGradient><radialGradient id="g8_16"><stop offset="0" stop-color="#000" stop-opacity="0.1"/><stop offset=".5" stop-color="#000" stop-opacity="0.08"/><stop offset="1" stop-color="#000" stop-opacity="0"/></radialGradient><radialGradient id="g8_17"><stop offset="0" stop-color="#000" stop-opacity="0.9"/><stop offset=".5" stop-color="#000" stop-opacity="0.72"/><stop offset="1" stop-color="#000" stop-opacity="0"/></radialGradient></defs>
<rect x="214.5" y="183.3" width="64.3" height="64.2" fill="#fff" stroke="#b0b0b0" stroke-width="1"/>
<clipPath id="c0"><rect x="215.0" y="183.8" width="63.3" height="63.2"/></clipPath>
<g clip-path="url(#c0)">
<ellipse cx="243.5" cy="198.5" rx="16.50" ry="7.92" transform="rotate(-5 243.5 198.5)" fill="url(#g0_0)"/>
<ellipse cx="226.5" cy="233.6" rx="14.96" ry="5.72" transform="rotate(0 226.5 233.6)" fill="url(#g0_1)"/>
<path transform="scale(.25)" d="M991 753h0m26 9h0m-7 5h0m-12-6h0m-6 2h0m-3 1h0m-6 3h0m-10-2h0m-1-1h0m-1-3h0m-3 0h0m-1 5h0m-6-6h0m-1 3h0m-4 0h0m0 4h0m-4-3h0m-11 2h0m-3-1h0m-4 3h0m-6 0h0m-2-2h0m-9 10h0m3-3h0m6-4h0m8 3h0m0-2h0m4 5h0m2 1h0m6-4h0m12-1h0m0 3h0m1 2h0m1-7h0m0 1h0m2 2h0m0 4h0m1-7h0m5 3h0m1 1h0m1-1h0m0-2h0m1 2h0m1 1h0m0-3h0m2 2h0m4-2h0m2-1h0m0 5h0m10-1h0m2-2h0m1 1h0m4 2h0m15 0h0m3-5h0m4 5h0m13-5h0m2 13h0m-2-2h0m-7-2h0m-4 2h0m-2 4h0m-6-6h0m-5 2h0m-2 1h0m0 2h0m-1-6h0m-1 0h0m0-1h0m-1 1h0m-1 4h0m0-5h0m0 6h0m-3-4h0m0 0h0m-2 4h0m-1-3h0m0-3h0m-1 3h0m0 3h0m-2-3h0m0-1h0m-1 0h0m0 5h0m0-5h0m-3 4h0m0 1h0m-1 0h0m-2-1h0m0-1h0m0 0h0m-1 2h0m0 1h0m-2-7h0m-2 6h0m-1-2h0m0 1h0m0-5h0m-3 1h0m-1 3h0m0 2h0m-1-1h0m-1-2h0m0 2h0m0-3h0m0-2h0m-1 7h0m-1-2h0m-1-1h0m0 0h0m-1 0h0m0 1h0m0 0h0m0-5h0m-1 5h0m-1-1h0m0 0h0m-1 1h0m-1 1h0m-1-4h0m0 2h0m-5 1h0m-9-3h0m-1 4h0m0 1h0m-3-5h0m-1 3h0m-2 1h0m-3-1h0m0-1h0m0 0h0m-1 0h0m-1 1h0m0-4h0m-8 4h0m-2 0h0m-1-1h0m-6-3h0m-3 5h0m-9-3h0m4 6h0m3 5h0m11-6h0m3 0h0m1 2h0m1 3h0m4-2h0m0 2h0m0-6h0m3 3h0m1 4h0m1 1h0m2-1h0m0-5h0m1 2h0m1-3h0m1 6h0m1-2h0m0 1h0m1 1h0m1-7h0m1 3h0m0-1h0m0 6h0m2-1h0m2-3h0m0 3h0m1 0h0m1 0h0m0-4h0m0 4h0m0-4h0m1 4h0m0 0h0m1-5h0m1 0h0m1 1h0m1-3h0m0 5h0m0 0h0m1-3h0m0 4h0m2 0h0m0 1h0m0 1h0m1-8h0m0 1h0m1 0h0m0-1h0m1 8h0m0-3h0m0-5h0m0 3h0m1 3h0m0-4h0m1 4h0m1-2h0m0 2h0m1-4h0m0 1h0m0-3h0m0 8h0m1-4h0m0 4h0m0-2h0m0 1h0m0-4h0m0 4h0m0-3h0m0 1h0m1 1h0m1-3h0m0 5h0m0-7h0m0 3h0m0-4h0m1 1h0m0 6h0m0-6h0m1 2h0m0 3h0m0-3h0m1-1h0m0 1h0m0 3h0m1-3h0m0 0h0m0 2h0m1-3h0m0 4h0m0-5h0m1 3h0m1 0h0m0 4h0m2-1h0m1 0h0m0-3h0m0-3h0m0 6h0m2-6h0m0 2h0m2 4h0m1 1h0m2-7h0m1 2h0m3-1h0m1-1h0m1 4h0m1 0h0m1 1h0m3-1h0m0 3h0m0-1h0m0-5h0m3 3h0m0-5h0m2 0h0m1 2h0m0 6h0m3-6h0m0 0h0m2 0h0m0 5h0m3 0h0m1 0h0m0-5h0m0 5h0m4-2h0m0 3h0m11-7h0m17 8h0m-8 2h0m-11-2h0m0 5h0m-1-4h0m-10 0h0m0-1h0m0-1h0m-2 3h0m-2-1h0m-4 2h0m-2 1h0m-1-3h0m-6 5h0m-1-1h0m-1-5h0m-1 6h0m0-6h0m0 5h0m-1-6h0m0 5h0m0-3h0m-1-1h0m-2 1h0m-4-1h0m-1 2h0m-1 2h0m-1-3h0m0 4h0m-3 1h0m-1 0h0m-2-3h0m-1 3h0m-1 0h0m-1 0h0m-1-2h0m-1-2h0m0 2h0m-1-4h0m0 0h0m0 6h0m0-3h0m-1 3h0m0-3h0m-2-1h0m0-1h0m-1 4h0m0-2h0m-1 2h0m0 0h0m0 0h0m0-3h0m0-2h0m0 3h0m-1-1h0m0-1h0m-1 1h0m0 4h0m0-3h0m-1-3h0m0 0h0m0 7h0m0-7h0m-1 1h0m0 3h0m0 2h0m-1 0h0m0-3h0m0-3h0m-1 0h0m0 6h0m0-5h0m0-1h0m-1 1h0m0 2h0m0-3h0m-1 1h0m-1 4h0m0-1h0m0 1h0m-2-3h0m0 0h0m-1 0h0m-2 2h0m-2-5h0m0 3h0m0-1h0m-2-1h0m0 2h0m-1 0h0m0 0h0m0-1h0m-1 3h0m-1-5h0m-1 4h0m0-2h0m0-1h0m-1 2h0m-1-2h0m-2 3h0m0 4h0m0-1h0m0 1h0m-1-4h0m0 0h0m0 0h0m-1 0h0m0-2h0m-1 0h0m0 2h0m0-2h0m-1-1h0m-2 3h0m-2 0h0m-1 0h0m-2-2h0m0 5h0m-1-2h0m0 0h0m0-1h0m-2 1h0m0 0h0m-1-2h0m-3-1h0m-1 5h0m-1 0h0m-1 1h0m0-5h0m-1 5h0m-4-3h0m-22 0h0m-8 9h0m19 2h0m2-6h0m4-1h0m3 4h0m4-3h0m1 3h0m1 0h0m0 3h0m4-3h0m1-4h0m0 5h0m4-4h0m3-2h0m1 2h0m1 5h0m1-1h0m0-4h0m1 2h0m1-3h0m0 3h0m1 4h0m2-5h0m2 5h0m2-7h0m1 1h0m1 4h0m2-5h0m3 4h0m0-3h0m1 6h0m0-2h0m2-5h0m2 3h0m0 1h0m1-3h0m0 1h0m0 4h0m1-1h0m0-2h0m1 2h0m2-2h0m1-1h0m0 0h0m0 1h0m2-2h0m1 2h0m0 3h0m0-4h0m1 2h0m1-3h0m0 1h0m1-3h0m1 2h0m0 3h0m1 0h0m0 1h0m2-2h0m1 3h0m1-3h0m3 1h0m0 2h0m0-4h0m1 1h0m1 1h0m1-3h0m0 0h0m1-1h0m0 3h0m0-4h0m1 4h0m0 1h0m1-1h0m3 2h0m0-4h0m1-2h0m0 3h0m0 1h0m1-1h0m1 2h0m2 0h0m0-3h0m0 0h0m1 0h0m1 3h0m1 3h0m3-5h0m2 1h0m1 2h0m1-5h0m2 7h0m1-2h0m1 0h0m0 2h0m5-2h0m1-6h0m1 5h0m1-3h0m0-2h0m4 6h0m22-4h0m-11 12h0m-1-4h0m-4-2h0m-14 2h0m-5-2h0m-4 6h0m-2-2h0m-8 0h0m-1-3h0m-4 1h0m-1 3h0m-2-4h0m0 7h0m-1-5h0m-1 2h0m-2-2h0m0-3h0m-2 3h0m-4 4h0m-1-5h0m-1 1h0m-6 1h0m0 1h0m0-3h0m-4 0h0m0 0h0m-3 5h0m-1-4h0m-1 1h0m-1-1h0m-1-1h0m0 1h0m-1-2h0m0 1h0m0 0h0m-1 3h0m-2 0h0m-1-4h0m0 0h0m0 0h0m-1 4h0m-3-3h0m-1 0h0m-2-2h0m-3 4h0m-1 3h0m-1-1h0m-3-3h0m-8 3h0m-5-5h0m0 4h0m0-2h0m-4 4h0m-2-6h0m-1 1h0m-17 4h0m-22-2h0m38 5h0m20 2h0m1 2h0m1 1h0m2 1h0m1-5h0m3 4h0m2 0h0m6-5h0m6 5h0m2-5h0m0 6h0m11 0h0m4 0h0m0-7h0m2 1h0m1-1h0m3 3h0m2 2h0m5-1h0m3-3h0m0 2h0m11-2h0m5 3h0m19 2h0m-18 2h0m-7 4h0m-6-1h0m0 2h0m-1-3h0m-3 0h0m-23 1h0m-9 1h0m-11 4h0m-4-6h0m-6 0h0m-22 3h0m-3-1h0m-14 3h0m33 3h0m15 0h0m4 72h0m-18 5h0m-15-5h0m-8 6h0m-8-6h0m0 4h0m-8 0h0m-5 1h0m-9-3h0m-7 1h0m-10-1h0m-1 5h0m6 4h0m6 1h0m5 1h0m6 0h0m1-6h0m0 1h0m1 2h0m1 3h0m0-3h0m6 1h0m4 1h0m0-6h0m3 8h0m3 0h0m2-4h0m0 4h0m1-7h0m5 4h0m0 0h0m1 1h0m2 0h0m1-3h0m1 5h0m3-5h0m1-1h0m1 6h0m3-1h0m1 1h0m1-8h0m4 4h0m2 1h0m4-3h0m0 2h0m1 2h0m11 0h0m5-3h0m0 4h0m9 0h0m1-1h0m10-5h0m19 9h0m-14 3h0m-18 0h0m-1-2h0m-12 1h0m-2 1h0m-2 1h0m-1 0h0m-2-2h0m-2-4h0m0 7h0m-3-5h0m-2 2h0m0-1h0m-1 3h0m0 1h0m0-7h0m0 0h0m-1 2h0m-1 1h0m0 4h0m-1-2h0m0 3h0m0-4h0m-3-1h0m-1 2h0m0 2h0m0 1h0m-1 0h0m0-5h0m-1 4h0m-1-1h0m0 2h0m-5-3h0m0 2h0m-1-1h0m-1 0h0m-1 0h0m0-2h0m0 3h0m-1-4h0m0-2h0m0 2h0m-1 3h0m-1-2h0m-1 1h0m-1 3h0m0-7h0m-1 0h0m0 5h0m-1 2h0m0-3h0m0 0h0m-1 3h0m0-7h0m-1 3h0m0 2h0m-1-3h0m0-1h0m0 2h0m-1 0h0m0-1h0m-1 4h0m-1-5h0m-1-1h0m-1 3h0m0-3h0m0 5h0m-1-1h0m-2-4h0m0 5h0m-2-2h0m0-2h0m0 3h0m0 1h0m0 1h0m-1 0h0m-1 1h0m-1-4h0m-1 3h0m-2 0h0m0-1h0m0-2h0m0-1h0m-1 4h0m-1-3h0m0 2h0m-1-3h0m-1-2h0m-2 7h0m-2-2h0m-1-5h0m0 6h0m-1-5h0m-1 0h0m0 4h0m-1-5h0m0 5h0m-1-2h0m-1 1h0m-4-2h0m-1 2h0m-1 0h0m0 0h0m-1 2h0m0-4h0m-1-2h0m-1 3h0m-1 0h0m0 7h0m1-2h0m1 5h0m1-3h0m0 4h0m1-4h0m2-1h0m1 6h0m0-1h0m1-5h0m1 4h0m0-2h0m1-4h0m1 3h0m0 0h0m0 2h0m0-3h0m0 0h0m1 5h0m1-6h0m0 1h0m1 2h0m0-1h0m0-1h0m2 3h0m1 2h0m1-1h0m0 1h0m0-5h0m0 0h0m0 4h0m1-5h0m1 0h0m0 0h0m1 2h0m0 4h0m0-4h0m1-2h0m0 6h0m0-2h0m0 0h0m0 2h0m1-4h0m1-2h0m0 1h0m1 5h0m1-4h0m1-3h0m1 1h0m0 1h0m0 2h0m1 4h0m1-2h0m0-1h0m1-1h0m0-2h0m0 2h0m1 1h0m1-3h0m0 3h0m1-2h0m0 4h0m0-7h0m0 3h0m1 2h0m0-1h0m0 3h0m1-5h0m0-1h0m1 4h0m1 1h0m0 1h0m0 0h0m0-6h0m0 5h0m1-2h0m0 4h0m0 0h0m1-6h0m0 6h0m1-7h0m0 2h0m0 0h0m2-1h0m0 1h0m0 0h0m0 1h0m1 0h0m0 1h0m0 2h0m1-4h0m0 4h0m1-1h0m1-5h0m0 6h0m1-6h0m0 3h0m0 2h0m0-2h0m0 4h0m1 0h0m1-5h0m0 0h0m0 0h0m0 3h0m0-5h0m1 2h0m0 0h0m1 0h0m0 4h0m1-1h0m0-5h0m1 3h0m0-2h0m1 1h0m0-2h0m1 2h0m0 2h0m0 1h0m0-5h0m1 4h0m0 1h0m1-1h0m0-3h0m0 5h0m0 1h0m0-6h0m1-2h0m0 1h0m2 5h0m0-4h0m1 1h0m1 2h0m1 1h0m1-2h0m1 2h0m1 0h0m0 1h0m0-7h0m1 5h0m0-3h0m0 1h0m0 1h0m0-4h0m1 1h0m0 0h0m1 6h0m1-3h0m1-1h0m1 4h0m2-2h0m0-3h0m1-1h0m1 3h0m0 1h0m3 0h0m1-1h0m0 1h0m1-1h0m1 3h0m0-3h0m1-3h0m2-1h0m5 4h0m0-1h0m6-2h0m3 5h0m8 1h0m4-5h0m-6 8h0m-5 3h0m-4-5h0m-1 2h0m-3 0h0m-2 1h0m-3-1h0m-4-1h0m0 4h0m-1-3h0m-3 0h0m-2 3h0m-1-4h0m-2 3h0m-1 0h0m0-4h0m-1 1h0m0 4h0m-2 1h0m-1 0h0m-1-3h0m-2 2h0m-2 3h0m0-6h0m0 0h0m0 0h0m-1 2h0m0 1h0m-1 1h0m-3 1h0m0-6h0m-1 3h0m0-1h0m0 3h0m0-1h0m-2 3h0m-1-2h0m-1-5h0m0 5h0m0-6h0m-1 2h0m0 3h0m0-4h0m0 4h0m0-1h0m0 4h0m0-3h0m-1-1h0m-1 2h0m0-1h0m-2 2h0m-2-3h0m0-3h0m0 3h0m-2 0h0m0-1h0m0-3h0m0 5h0m0-4h0m-1 7h0m0-1h0m-1-6h0m0 5h0m-1-4h0m0 6h0m0-5h0m0 1h0m-1 3h0m0-3h0m0-1h0m0-1h0m0 4h0m0-5h0m0-1h0m-1 6h0m0 2h0m-1-4h0m0 2h0m0 0h0m0-3h0m-1-1h0m0 2h0m0 0h0m0-4h0m0 2h0m-1 5h0m0-5h0m-1-1h0m0 1h0m0 6h0m0-6h0m-1 6h0m-1-7h0m0 1h0m0 3h0m0-3h0m-1 1h0m0-3h0m-1 3h0m-1-1h0m0 6h0m-2-7h0m-1 4h0m0-2h0m-1 5h0m-2-5h0m-1 3h0m-1-3h0m0 0h0m-2-1h0m0 2h0m0-4h0m0 3h0m0-1h0m-1 2h0m0 2h0m0 0h0m-1-4h0m0 4h0m-1-6h0m-1 5h0m0 3h0m-1 0h0m-2-4h0m0 0h0m-1 1h0m-2-2h0m0-3h0m0 4h0m0-3h0m-2 1h0m-1 2h0m0 1h0m-3-3h0m-1-1h0m-2 3h0m0 3h0m0 1h0m-1-8h0m0 2h0m-1 6h0m2 2h0m7-2h0m1 3h0m5 1h0m0-3h0m1 5h0m2 1h0m4-7h0m0 3h0m1 5h0m1-7h0m0 3h0m0 1h0m2 0h0m1-4h0m1 1h0m3-1h0m0 1h0m2-1h0m1-1h0m0 6h0m0-4h0m1 0h0m0 1h0m1-1h0m1 5h0m1-6h0m0 0h0m1 1h0m0 4h0m0 0h0m1-3h0m0-1h0m0 4h0m1-5h0m1 0h0m0 1h0m1 3h0m0-1h0m1-4h0m2 5h0m0-2h0m2 2h0m1-4h0m0 4h0m2-5h0m0 4h0m2 2h0m1 0h0m1 1h0m1-4h0m1-1h0m2 2h0m0 2h0m1-4h0m1 0h0m1 1h0m1-3h0m2 5h0m1-3h0m0 0h0m1 5h0m1-6h0m0 3h0m1 1h0m1 0h0m2 3h0m3-5h0m3 3h0m1-6h0m3 7h0m4-6h0m1 3h0m5-4h0m7 1h0m0 0h0m3 1h0m9 1h0m-34 5h0m-8 5h0m-2-4h0m0 5h0m-3-6h0m-2 0h0m-5 2h0m-5 2h0m-5-3h0m-2 3h0m-1 3h0m-5 0h0m-9-6h0m0-1h0m-2 6h0m-5-6h0m-1 1h0m-1 2h0m-5 1h0m-3-1h0m-2 1h0m-4 0h0m30 11h0m13-6h0m17 0h0" stroke="#000" stroke-opacity=".45" stroke-width="2.8" stroke-linecap="round" fill="none"/>
<path transform="scale(.25)" d="M1007 751h0m-107-1h0m40 10h0m66-1h0m5 4h0m-13-1h0m-16 3h0m-19 2h0m-25-1h0m9 7h0m6 1h0m2 1h0m22-7h0m7 4h0m6 1h0m20 2h0m11 4h0m-32 0h0m-2 1h0m-5-4h0m-2 7h0m-3-1h0m-34 0h0m-6-5h0m-44 7h0m-26-3h0m50 11h0m25-7h0m1 1h0m8-2h0m0 2h0m2 3h0m13 1h0m1-2h0m57-4h0m2 4h0m9 2h0m10 8h0m-54-6h0m-1 7h0m-16-3h0m-1 4h0m-3-4h0m-1-2h0m0 6h0m-2-5h0m-2 1h0m-6-3h0m-5 1h0m-11 5h0m-2-1h0m-10-4h0m-3 3h0m-16 1h0m-3-1h0m-4-3h0m13 7h0m3 6h0m6-5h0m6 2h0m6-1h0m3-2h0m5 6h0m0-7h0m1 4h0m2 3h0m1-3h0m3-2h0m8 1h0m1-2h0m7 6h0m5-3h0m0 0h0m0-1h0m3 5h0m7-3h0m6 0h0m11-1h0m22-1h0m7-2h0m24 2h0m26 10h0m-19 2h0m-12-1h0m-9 1h0m-11-5h0m-9 5h0m-1 0h0m-1-3h0m-7 3h0m-1-6h0m-10 1h0m-7 0h0m-4 3h0m-3-5h0m-4 3h0m-1 5h0m0-1h0m0-4h0m-9 3h0m-3-2h0m0-4h0m-5 6h0m-1-2h0m-4 2h0m-2-4h0m-1-2h0m0 4h0m-3-3h0m-2 4h0m-1 1h0m-10-5h0m-1 5h0m-2-1h0m0 1h0m-2-4h0m0 1h0m-1 4h0m-23 1h0m0-4h0m-32-3h0m4 14h0m7 0h0m0 1h0m9-3h0m2 3h0m2-3h0m1-3h0m13 5h0m4 0h0m0-5h0m0-2h0m5 8h0m3-2h0m1-3h0m1 1h0m0 2h0m1 2h0m1-5h0m0 1h0m1-1h0m0 0h0m2 1h0m10 0h0m0 1h0m4-2h0m3 1h0m4-2h0m0 6h0m1-1h0m4-4h0m1 1h0m9 3h0m2-6h0m4 3h0m0 2h0m3-2h0m2-2h0m5 6h0m0-2h0m9-5h0m1 4h0m0-1h0m5-3h0m3-1h0m4 3h0m4 0h0m10 1h0m3 3h0m5-4h0m1 0h0m2 0h0m23 9h0m-18-4h0m-3 8h0m-16-2h0m-4 0h0m-2-4h0m-4 4h0m-1-1h0m0-3h0m-2-1h0m-6 6h0m-9-1h0m-1 0h0m-1-5h0m-1 5h0m-4 2h0m-7-3h0m-2 2h0m0-6h0m-3 4h0m0-2h0m0 1h0m-7-2h0m-2 2h0m-1-1h0m-5-3h0m0 0h0m-6 4h0m-4 1h0m-1-4h0m-1 2h0m-1 0h0m-3 4h0m-2-5h0m-3-2h0m-6 4h0m0 0h0m-11 0h0m-4-4h0m-1 4h0m0-3h0m-1 2h0m0 3h0m-1-1h0m-4 0h0m0 0h0m-3 0h0m-3-1h0m0-1h0m-34 3h0m26 6h0m7-3h0m1 4h0m4-1h0m2 1h0m2 0h0m11-1h0m0 1h0m1 3h0m1-2h0m0-4h0m0 3h0m1-1h0m4 3h0m3-2h0m0 1h0m3-1h0m4 1h0m6-3h0m1 0h0m1-1h0m1 2h0m3 3h0m0-5h0m5 6h0m1-2h0m0-5h0m1 4h0m2 3h0m1-6h0m1 4h0m2-1h0m0-2h0m7 2h0m1-4h0m0 6h0m3-3h0m4 4h0m3-1h0m0-5h0m5 3h0m1-3h0m1 0h0m6 1h0m0 2h0m1 2h0m7-5h0m5-1h0m10 7h0m2-2h0m12-5h0m8 2h0m13 3h0m10-5h0m-27 10h0m0-1h0m-2 3h0m-6-5h0m-2 0h0m-9 2h0m-2 0h0m-11 0h0m-1 4h0m-3 0h0m-4-2h0m0 1h0m-12-1h0m-9 2h0m-1 1h0m-2-5h0m-5 4h0m-1-5h0m0 2h0m-4-1h0m-1 1h0m-1 4h0m-2-2h0m-1 3h0m-1-7h0m-3 5h0m-2-6h0m0 3h0m-4-2h0m0 7h0m-1-6h0m-4 4h0m-1-6h0m-3 2h0m-1 3h0m0-4h0m-2 5h0m-1-4h0m0 5h0m-1-2h0m0 3h0m-3-8h0m0 1h0m-2 4h0m0 3h0m-1-8h0m-1 3h0m0 1h0m-7-3h0m-1 2h0m-3-2h0m-2 0h0m-3 6h0m0-3h0m-3-2h0m-1 3h0m-1 3h0m-4-8h0m-11 5h0m-1-1h0m0 0h0m-4 4h0m-8-3h0m-15 11h0m7-8h0m10 8h0m2-5h0m8 2h0m0 3h0m7-2h0m0-5h0m4 6h0m3-4h0m2-3h0m1 4h0m0-1h0m2-2h0m0 5h0m2-1h0m1 0h0m0-3h0m1 4h0m1-3h0m2 1h0m4 2h0m1 1h0m2 1h0m3-6h0m4 2h0m2 1h0m1-4h0m0 4h0m0-1h0m1 1h0m2 0h0m2 0h0m2-3h0m2 3h0m1-1h0m1 0h0m7-2h0m10-1h0m1 3h0m2 0h0m1 2h0m2-1h0m14 2h0m14-1h0m1-5h0m13 1h0m1 3h0m3 1h0m2-5h0m1 5h0m1-5h0m1 2h0m9-1h0m0 6h0m3-7h0m8 2h0m6 3h0m8-2h0m23 0h0m-2 11h0m-7-1h0m-9 1h0m-23 0h0m-12-1h0m-1-3h0m-7 0h0m-7 0h0m-8 2h0m-1 3h0m-6-3h0m-2 1h0m-6 2h0m-1-3h0m-5 0h0m0 1h0m-2-4h0m-1 0h0m0 0h0m-1 4h0m-4-1h0m-6-3h0m0 2h0m-6-2h0m-1 1h0m-2 0h0m-1 3h0m-5-2h0m0-1h0m0 3h0m-2 0h0m0-6h0m-5 4h0m-1-1h0m-1-3h0m-4 0h0m-1 0h0m0 3h0m0 1h0m0 2h0m-4 1h0m-1-5h0m-3-1h0m-4 3h0m0 0h0m-1 4h0m-1-1h0m-3-3h0m-4 1h0m-2-4h0m-2 7h0m-1-3h0m-2 2h0m0-5h0m-4 3h0m0-4h0m-1 4h0m-1 2h0m0-1h0m0-6h0m-1 3h0m0-1h0m-9-1h0m-3 1h0m-2 4h0m-5 0h0m-2-5h0m-3 2h0m0-1h0m-11 10h0m3 2h0m6-5h0m4 0h0m5 5h0m0-2h0m1 1h0m2-4h0m1 5h0m4-1h0m0 0h0m3-4h0m2 5h0m4-5h0m2 6h0m0-4h0m1 2h0m1 3h0m1-6h0m0 3h0m4-3h0m4 4h0m1 1h0m4-7h0m2 4h0m0-3h0m4 6h0m0-3h0m1 3h0m5-5h0m1-1h0m0 6h0m1 0h0m1-1h0m1-2h0m2 2h0m3-2h0m0 3h0m1-2h0m0 2h0m5-5h0m1 4h0m1-3h0m2 1h0m0 3h0m3-7h0m2 6h0m6 1h0m5-5h0m1 2h0m7-3h0m1 2h0m1 5h0m7-6h0m4 3h0m3-2h0m1 1h0m6 1h0m6 2h0m4-4h0m13-2h0m0 0h0m1 5h0m2 0h0m2-3h0m26-2h0m16 3h0m-28 9h0m-8 1h0m-6 1h0m-9 1h0m-20-7h0m-1 4h0m-10-2h0m-8-2h0m-1 0h0m0 1h0m-12 3h0m0-1h0m-4 1h0m0-5h0m-11 0h0m-1 3h0m-1 4h0m-5-5h0m-4 2h0m-1-1h0m-1 1h0m-4-2h0m0 2h0m-3 1h0m-3 1h0m-3-5h0m-1 1h0m0 3h0m-1 1h0m0-6h0m-2 2h0m-1 3h0m-1-3h0m-1 3h0m0-3h0m-2 5h0m-5-3h0m0 0h0m-4 0h0m0-2h0m-1 1h0m0-1h0m0-1h0m-3 5h0m0 0h0m-5-1h0m0-4h0m-3 4h0m0 3h0m-4-8h0m-2 4h0m-2 0h0m-4-2h0m-4 2h0m-6 3h0m-8 4h0m2 0h0m10 0h0m5-1h0m6 0h0m6 1h0m1 0h0m0 3h0m3 1h0m1-5h0m1 1h0m0 5h0m2-1h0m1-2h0m0-4h0m3 6h0m1-1h0m2 0h0m6-2h0m0-2h0m0 5h0m1-2h0m3 0h0m0-1h0m6 1h0m5-1h0m0 0h0m4 2h0m3-1h0m0-4h0m2 2h0m1 2h0m0 1h0m1 0h0m0 0h0m6 0h0m4-3h0m6-2h0m7 5h0m12-2h0m3 3h0m4-6h0m1 0h0m22 0h0m15 5h0m14-5h0m10 7h0m-29 2h0m-7-1h0m-5 2h0m-6 2h0m-9-1h0m-1-4h0m-11 8h0m-11-7h0m-15 1h0m-3 4h0m-7-4h0m-2 3h0m0 0h0m-5 0h0m-4 3h0m-2-1h0m-2-2h0m-2-1h0m-5-4h0m-5 3h0m-5 0h0m-1 1h0m-1-3h0m0 6h0m-3 0h0m0-1h0m-9-6h0m0 4h0m0 2h0m-4-2h0m-1-2h0m-3 4h0m-1-5h0m0 0h0m-7 0h0m0 1h0m-3 3h0m-1-1h0m-9-1h0m7 6h0m11 4h0m0-2h0m3 5h0m3-5h0m0-2h0m2 1h0m4 0h0m0 2h0m0 3h0m1 1h0m0-4h0m3-2h0m3 3h0m1 2h0m0-2h0m1 1h0m8-5h0m0 5h0m5 1h0m0-7h0m5 7h0m2-2h0m9-4h0m0 6h0m4-3h0m10 4h0m5-5h0m5 1h0m9-3h0m1 0h0m3 2h0m4 2h0m15-2h0m8 5h0m15-3h0m3 11h0m-17-8h0m-36 0h0m-14 3h0m-2 2h0m-4-4h0m-1 4h0m-10-3h0m0 5h0m-3-6h0m-2 0h0m-1-1h0m-2 1h0m-16 4h0m-2 2h0m-1-4h0m0-2h0m-3 6h0m-1-1h0m-10-6h0m-4 3h0m-1-3h0m0 1h0m-3 4h0m-4 2h0m-1 0h0m-4-5h0m0 9h0m8 1h0m4-3h0m1 7h0m7-8h0m11 4h0m0-2h0m8 4h0m1-3h0m5-2h0m6 6h0m5-4h0m6-2h0m1 5h0m12 0h0m-5 3h0m-1 1h0m-5 4h0m-8-3h0m-16 0h0m-2 3h0m-1-4h0m-6 4h0m-23-1h0m-9 0h0m-5 5h0m7 3h0m5-2h0m33 1h0m4-3h0m5-1h0m26 7h0m93 1h0m-92 2h0m-1 6h0m-33-3h0m-31 1h0m-14-4h0m27 6h0m-20 8h0m-2 3h0m10 12h0" stroke="#000" stroke-opacity=".3" stroke-width="2.8" stroke-linecap="round" fill="none"/>
</g>
<line x1="245.5" y1="183.3" x2="245.5" y2="247.5" stroke="#3a3a3a" stroke-width=".9"/>
<line x1="214.5" y1="227.0" x2="278.8" y2="227.0" stroke="#3a3a3a" stroke-width=".9"/>
<text x="216.0" y="190.9" font-size="5" fill="#222">30.0</text>
<text x="272.3" y="190.9" font-size="5" fill="#222" text-anchor="end">16.0</text>
<text x="216.0" y="243.7" font-size="5" fill="#222">54.0</text>
<text x="272.3" y="243.7" font-size="5" fill="#222" text-anchor="end">0.061</text>
<text x="244.2" y="255.2" font-size="6.6" fill="#222" text-anchor="middle" textLength="10.8" lengthAdjust="spacingAndGlyphs">BT1</text>
<rect x="294.6" y="183.2" width="64.6" height="64.3" fill="#fff" stroke="#b0b0b0" stroke-width="1"/>
<clipPath id="c1"><rect x="295.1" y="183.7" width="63.6" height="63.3"/></clipPath>
<g clip-path="url(#c1)">
<ellipse cx="335" cy="197" rx="14.96" ry="7.26" transform="rotate(3 335 197)" fill="url(#g1_2)"/>
<ellipse cx="339" cy="207" rx="15.40" ry="13.20" transform="rotate(40 339 207)" fill="url(#g1_3)"/>
<ellipse cx="310.5" cy="233.3" rx="14.30" ry="5.28" transform="rotate(0 310.5 233.3)" fill="url(#g1_4)"/>
<path transform="scale(.25)" d="M1359 742h0m-13 5h0m-15 0h0m-1 1h0m-4 2h0m-38 7h0m10 0h0m15 3h0m1-2h0m6-2h0m12-2h0m12 2h0m12 1h0m5-1h0m6 3h0m3 0h0m23 4h0m-1-1h0m-3 4h0m-9-6h0m-10 5h0m-2-2h0m-5 2h0m-2 1h0m-3-4h0m-1 2h0m-2 4h0m-1-1h0m-4-2h0m-5 0h0m-1 2h0m-2-6h0m0 6h0m-1 0h0m-1-2h0m-1-2h0m0 1h0m-1-2h0m-10 2h0m-2 3h0m-1-1h0m-11-1h0m-1-4h0m-3 3h0m-1 0h0m-1 3h0m-4-6h0m-2 4h0m-1 0h0m0-3h0m-3 0h0m-1-1h0m-2 6h0m-1-4h0m-13 12h0m3-5h0m2 1h0m1 2h0m7 0h0m0-3h0m4 1h0m1 5h0m2-2h0m0 1h0m1-2h0m0-2h0m6 3h0m1 0h0m2-5h0m0 6h0m2-6h0m2 4h0m1 2h0m0-6h0m0 1h0m3 1h0m0 3h0m0 1h0m2-4h0m0 4h0m1-3h0m1 2h0m0 2h0m0-7h0m2 3h0m1 0h0m0 4h0m1-6h0m1 4h0m2-5h0m0 1h0m1-2h0m0 8h0m1-2h0m0-2h0m1 0h0m1 2h0m0 1h0m0-2h0m1 3h0m0-5h0m1 4h0m1-2h0m1 3h0m1-5h0m2 3h0m1-2h0m0-2h0m0 3h0m2 3h0m0-3h0m1-1h0m0 1h0m1-3h0m0 3h0m2-1h0m0 0h0m1 1h0m0-3h0m1 4h0m3 2h0m0-2h0m1 2h0m2 0h0m1-6h0m1 3h0m2-4h0m1 7h0m0-5h0m2 0h0m0-3h0m1 7h0m1 0h0m2 0h0m2 0h0m4-1h0m3-3h0m1-2h0m10 0h0m0 6h0m4-4h0m26 6h0m-10 5h0m-3-1h0m-12 3h0m-3-4h0m-6-1h0m-5-2h0m-1 5h0m0-2h0m0 1h0m-3 2h0m-1-6h0m0 1h0m0 1h0m-4 3h0m-1-3h0m-1 2h0m0 1h0m-2 0h0m-1 1h0m0-1h0m0-5h0m0 6h0m-1-1h0m-1-2h0m0 2h0m-1-5h0m0 6h0m0-6h0m-1 1h0m0-1h0m0 3h0m0-1h0m0 2h0m-1-2h0m0 0h0m0 4h0m0-6h0m0 1h0m0 4h0m-1-5h0m-2 5h0m-1-3h0m0-3h0m0 8h0m-1-1h0m0-3h0m0 2h0m0 1h0m0 0h0m-1-4h0m0 5h0m-1-6h0m0 0h0m0-1h0m-1 5h0m0-3h0m0-2h0m0-1h0m0 8h0m0 0h0m-1-2h0m0-4h0m0 5h0m0 0h0m-1-6h0m0 0h0m0 5h0m-1 1h0m0-5h0m-1-1h0m0 2h0m0-2h0m-1 0h0m0 2h0m-1-1h0m-1 1h0m-1 0h0m0 4h0m-1-4h0m0-1h0m-1 5h0m0 0h0m-1-1h0m0-3h0m0 3h0m0-4h0m-1 5h0m0-1h0m0-2h0m-1 3h0m-1-1h0m-1-1h0m0-1h0m-1-3h0m-1 4h0m0-1h0m-1 4h0m-2-1h0m0-2h0m0-5h0m-1 3h0m-1 3h0m0 2h0m0-3h0m0-3h0m0 5h0m0-4h0m-1 0h0m0 4h0m-1-5h0m-1 2h0m0-4h0m-1 6h0m-1-2h0m0 3h0m0-6h0m0 5h0m-1 2h0m-2-3h0m0 3h0m0-1h0m-2-6h0m0 2h0m-1 3h0m-1-1h0m0-4h0m0 0h0m0 6h0m0 0h0m0 1h0m0-3h0m-2 2h0m0 0h0m0-2h0m-2-4h0m0 5h0m-1-4h0m-2 5h0m0-2h0m-1-2h0m-2 2h0m0-1h0m0 3h0m0-4h0m0 4h0m-1 0h0m0-4h0m-1 4h0m-1-1h0m-1-1h0m0 0h0m-2-3h0m-1 5h0m-7 0h0m-2-4h0m-2-1h0m-1 2h0m-4-3h0m0 7h0m-3-2h0m-25-1h0m17 9h0m3 0h0m1-2h0m8-2h0m3 1h0m1 0h0m0 1h0m1 1h0m0-2h0m1 2h0m4-4h0m2 5h0m1-5h0m0 5h0m2 2h0m1-6h0m1 4h0m1 0h0m1 0h0m1-3h0m1 1h0m1 3h0m0 0h0m1-5h0m1 1h0m1 1h0m0-3h0m1 5h0m0-3h0m0 4h0m1-7h0m0 7h0m0-7h0m1 1h0m0 1h0m0 2h0m3 1h0m0-5h0m0 3h0m2 0h0m1-1h0m1 2h0m1-2h0m1 0h0m0 4h0m0-4h0m0 3h0m0-1h0m0-3h0m1 3h0m0 0h0m0 2h0m0-4h0m0 1h0m0 1h0m1-1h0m1 1h0m0 0h0m1 2h0m0-6h0m1 8h0m0-1h0m0-2h0m1 1h0m0-6h0m0 3h0m0-1h0m1-2h0m1 3h0m0 1h0m1-1h0m0 5h0m0-4h0m0-4h0m1 0h0m0 4h0m0-3h0m1-1h0m0 1h0m1 0h0m0 6h0m0-1h0m1-6h0m0 0h0m0 5h0m0 3h0m1-4h0m1 1h0m0 1h0m1-3h0m0 4h0m2 1h0m0-4h0m0-3h0m0 3h0m1-3h0m0 5h0m0-4h0m1 3h0m0 2h0m2-6h0m0 3h0m0-2h0m1-1h0m0-1h0m0 6h0m0 1h0m0-3h0m1 0h0m0 4h0m0-2h0m1-3h0m0-1h0m0-1h0m0 4h0m0-4h0m1 5h0m0-2h0m0-1h0m1 0h0m0 5h0m1-7h0m0 5h0m0-5h0m0 1h0m1-1h0m0 4h0m0-2h0m1 3h0m1-4h0m0 0h0m1 0h0m0-2h0m0 2h0m0 1h0m0 1h0m0 3h0m1-6h0m0 0h0m1 4h0m1 0h0m1-5h0m0 5h0m0-2h0m0 3h0m1-2h0m0 2h0m1-5h0m0 3h0m2 3h0m0-5h0m1 2h0m0 2h0m2-6h0m0 0h0m0 3h0m0 0h0m1 5h0m0-1h0m0 0h0m2-3h0m2 1h0m1 1h0m0-5h0m2 6h0m0-7h0m1 6h0m1 0h0m2-5h0m0 6h0m1-3h0m1 4h0m2-3h0m0-2h0m4 5h0m0-1h0m3-4h0m3-2h0m7 1h0m6 5h0m6 2h0m-8-1h0m0 5h0m-5-5h0m-3 6h0m-5-2h0m0-1h0m-1 2h0m-1-3h0m-1 2h0m0 1h0m-1-5h0m0 4h0m0 3h0m-4-4h0m0-2h0m-1 1h0m0 5h0m-1-5h0m0-2h0m-1 4h0m-1 2h0m0 0h0m-1 0h0m0-3h0m-1 2h0m0-4h0m-1 4h0m-1 1h0m0-5h0m0 7h0m-1-8h0m0 5h0m-1-2h0m0 1h0m0 3h0m-1-5h0m0 4h0m0-1h0m0-1h0m-1-2h0m0 0h0m-1 3h0m0-1h0m0 0h0m0 2h0m0-1h0m-1 0h0m-1-2h0m-1 2h0m0-5h0m-1 0h0m-1 7h0m0-6h0m-2 2h0m0-3h0m-1 0h0m0 5h0m0-4h0m0 2h0m-1 1h0m-1 2h0m0 1h0m0-5h0m0 6h0m-1-6h0m0 4h0m-2-2h0m0 4h0m0 0h0m-1-2h0m0-6h0m-1 6h0m0-6h0m-1 6h0m0 1h0m0-1h0m-1-2h0m-1 2h0m-1-1h0m0-3h0m0 0h0m0 6h0m-1-3h0m0 0h0m0 0h0m-1-5h0m0 5h0m0-4h0m0 5h0m0-5h0m-2 2h0m0-1h0m0 5h0m-1-3h0m0-3h0m-1 3h0m0 2h0m0-1h0m0-4h0m-2 3h0m0 4h0m0-2h0m0-4h0m-1 1h0m0 2h0m-1 3h0m0-3h0m0-5h0m0 2h0m-1 5h0m0-6h0m-1 2h0m0 0h0m-1 3h0m-1 2h0m0-6h0m0 4h0m0 1h0m0-1h0m0-4h0m0 5h0m-1-4h0m0 4h0m-2-6h0m-1 3h0m0 2h0m0-1h0m0 0h0m-1 1h0m0-5h0m0 4h0m-1-2h0m0 2h0m0-3h0m0 5h0m-1-4h0m0-1h0m0 1h0m0 4h0m0-3h0m-1 1h0m0-4h0m-1 2h0m0-2h0m0-1h0m0 2h0m-1 3h0m0 2h0m-1-4h0m0-2h0m-1 2h0m0-1h0m-1 6h0m-1-6h0m-1 2h0m-1-2h0m-2-1h0m0-1h0m-1 6h0m0-4h0m-1 4h0m0 0h0m-1-3h0m-1-2h0m-1 6h0m0-1h0m0-2h0m-2 2h0m-4 0h0m-1-6h0m-1 1h0m-1 3h0m-1 2h0m0-1h0m-1 1h0m-1-4h0m0 0h0m-2-1h0m-1 6h0m-1-2h0m-1 0h0m0-1h0m-6 3h0m0-3h0m-3-1h0m0 1h0m-2-1h0m-1 2h0m-5 1h0m-3-5h0m-6 8h0m10 0h0m1 1h0m4 1h0m11 3h0m3-6h0m2 0h0m1 7h0m0-4h0m3-3h0m0 4h0m1 4h0m1-1h0m0-6h0m1 1h0m0 2h0m1-2h0m0-1h0m0 1h0m0 3h0m1 2h0m2-4h0m1 2h0m2 2h0m1-1h0m1-1h0m1-1h0m0 2h0m0-2h0m1 1h0m4-3h0m0 5h0m1-3h0m0 0h0m1 2h0m0-6h0m1 3h0m0 4h0m1 1h0m0-1h0m0-6h0m0 1h0m1 4h0m1 1h0m0-3h0m1-2h0m0 6h0m1-1h0m1-4h0m1 1h0m0 0h0m1-1h0m0 1h0m1 0h0m1-2h0m0 2h0m0-2h0m0-2h0m1 1h0m0 2h0m1 0h0m1 1h0m1-1h0m2 0h0m1-1h0m1 2h0m2 2h0m0-3h0m0 1h0m1-2h0m0-1h0m0 6h0m0 0h0m3-2h0m1-1h0m0 4h0m1-6h0m0 1h0m2-1h0m0 1h0m1 1h0m1 1h0m1 2h0m0 1h0m0-4h0m0 4h0m1-6h0m1-1h0m0 0h0m1 5h0m1 0h0m1-6h0m0 6h0m2-3h0m0 1h0m0-1h0m1-1h0m0 1h0m1 4h0m1-4h0m0 0h0m1-2h0m1 2h0m0-1h0m5 0h0m1 0h0m5 4h0m1-2h0m2 3h0m3-3h0m2-3h0m2 1h0m5 1h0m3 0h0m2-2h0m6 4h0m25 8h0m-2 0h0m-11-4h0m-14 2h0m-3-2h0m-2 6h0m-2-7h0m-3 6h0m-5-3h0m0 0h0m-1 4h0m-1-3h0m-1 2h0m-1-5h0m-1 3h0m-2 2h0m-1-1h0m-2-1h0m-2-1h0m-1 1h0m-1 1h0m-1-2h0m-1-2h0m-1 4h0m0 1h0m0 2h0m-1-6h0m-1 3h0m0 3h0m-1-7h0m-1 4h0m0-2h0m0 2h0m-1-2h0m-3 3h0m0 1h0m-1-6h0m0 0h0m-1 0h0m-1 1h0m-2 1h0m-1 2h0m-1-2h0m-1 2h0m0 2h0m-1-2h0m-2-1h0m0 2h0m0-3h0m-1-3h0m-1 7h0m-1-1h0m-2-5h0m-1 7h0m-1-8h0m0 2h0m-1 1h0m-1 3h0m0-4h0m-1 1h0m0 2h0m0-3h0m-1 2h0m-2-1h0m-1-1h0m0 0h0m-1-1h0m-2 0h0m0 3h0m-1-3h0m0 2h0m-2 3h0m-1-1h0m0 1h0m0-1h0m-1-1h0m-3-4h0m-1 4h0m-2 1h0m0 1h0m0 1h0m-1-5h0m-5 1h0m-8-2h0m-2 6h0m-1-6h0m-2 2h0m-2-1h0m-1-1h0m-2 0h0m0 5h0m-5-4h0m-2 3h0m0 3h0m-12-7h0m23 8h0m1 1h0m2-1h0m2 2h0m9 1h0m6-3h0m5 4h0m3 2h0m5-5h0m2 1h0m0 0h0m1-3h0m0 7h0m2 1h0m1-6h0m1 4h0m0-4h0m1 5h0m0-2h0m0-2h0m4 1h0m0-2h0m3-2h0m0 2h0m2 3h0m1-4h0m1 1h0m0 0h0m6-2h0m0 5h0m1-5h0m1 3h0m1 1h0m6 3h0m1 0h0m2-6h0m1 4h0m0-4h0m2 1h0m0 6h0m3-5h0m4-2h0m1 6h0m1-1h0m0-1h0m12-3h0m2 1h0m6 0h0m5 7h0m-16 2h0m-1 2h0m-1-3h0m-1 0h0m-1 4h0m-3 0h0m-11-5h0m-1 0h0m0 2h0m-4 2h0m-1 0h0m-1-6h0m0 3h0m0 0h0m-1 1h0m-1 4h0m-1-2h0m0-4h0m-3 3h0m-4-2h0m-3-2h0m-2 1h0m0 3h0m-1-1h0m-1 4h0m0-5h0m-1 2h0m0 2h0m-2-6h0m0 1h0m-1 5h0m-2-4h0m0-1h0m-1 1h0m-1 2h0m0 3h0m-3-1h0m-1 1h0m0-3h0m-1 1h0m-1-1h0m-19 0h0m-12 6h0m5 0h0m7 0h0m6 0h0m0-1h0m1 2h0m0 3h0m6-5h0m3 5h0m3-6h0m3 6h0m2 0h0m3 0h0m1-4h0m1 1h0m0 0h0m1-3h0m0 6h0m0-4h0m1 1h0m0-1h0m2-2h0m0 5h0m0-1h0m1-3h0m0 6h0m1-5h0m1 0h0m3 2h0m1-1h0m1 1h0m0 1h0m1 0h0m0 0h0m3 2h0m6-6h0m1 5h0m2-6h0m1-1h0m1 6h0m3-2h0m11 3h0m1-3h0m1-1h0m0 2h0m10-2h0m5 1h0m23-1h0m-17 12h0m-1 1h0m-7-2h0m0-4h0m-1-1h0m-6 6h0m-3-2h0m-2-2h0m-8 0h0m-2-2h0m-5 5h0m-2-5h0m0 6h0m-2-5h0m-2 2h0m0-3h0m-5 5h0m-2-2h0m0 1h0m-1-2h0m-1-1h0m-1 0h0m-1 1h0m-1 4h0m-1-2h0m-2-3h0m-3 1h0m-1 4h0m-1 1h0m-1-8h0m-5 1h0m0 5h0m-1-3h0m-1-3h0m-3 7h0m-2-6h0m-4 3h0m-2-3h0m-1 0h0m0 2h0m-2 3h0m-1-4h0m0 2h0m-2-1h0m-1 2h0m-7 3h0m-6-4h0m-6-3h0m-1 2h0m-1-1h0m-7 0h0m10 10h0m12-3h0m2 1h0m11 4h0m0-4h0m1 1h0m1 1h0m5-1h0m0-2h0m0 1h0m0 2h0m3-3h0m0 1h0m1 3h0m4-5h0m0 1h0m0 3h0m7 1h0m1-1h0m1 3h0m3-7h0m1 7h0m1-7h0m1 7h0m2-4h0m1-1h0m1 2h0m1 2h0m1-4h0m1 2h0m3-2h0m0 5h0m1-4h0m2 4h0m1 0h0m2-2h0m1 0h0m2-4h0m1 6h0m1-3h0m0 1h0m30 0h0m7 8h0m-22 2h0m-4 1h0m-6-7h0m0 4h0m-5 0h0m-3-5h0m-12 6h0m-5 2h0m-5-6h0m-2 3h0m-1 0h0m-1-4h0m-4 5h0m-2-4h0m-5-1h0m-2-1h0m0 7h0m-25-5h0m-9 0h0m41 13h0m4-3h0m1 1h0m20 0h0m11-4h0m0 1h0m3 1h0m1 2h0m4-3h0m9 10h0m-7 2h0m-5 0h0m-7-2h0m-21-1h0m-10-1h0m-4 5h0m-7 0h0m-6-1h0m-6-1h0m-6-2h0m29 8h0m13-1h0m6 4h0m3 1h0m13-3h0m4-4h0m-26 13h0m-4-3h0m-115 10h0m12 1h0m80-2h0m66 6h0m-95 5h0m-42-1h0m-3-3h0m-4-1h0m-3 1h0m-18 4h0m-52 5h0m10 2h0m6-2h0m7 1h0m2 4h0m2 0h0m4-4h0m3 4h0m2-1h0m2-3h0m1 3h0m1 1h0m1-3h0m2-3h0m0 2h0m2-3h0m0 4h0m4 2h0m2-4h0m0 4h0m2 0h0m6 0h0m0-2h0m1 0h0m0 3h0m0-7h0m2 0h0m1 2h0m0 3h0m2-1h0m2-4h0m1 4h0m0 3h0m1-2h0m3-3h0m5 2h0m0 2h0m6-6h0m1 0h0m10 5h0m2 0h0m43 3h0m-30 4h0m-2-4h0m-2 5h0m-5 0h0m-7-1h0m-1-3h0m-1 3h0m-1-2h0m-2-1h0m-6-1h0m-3 6h0m-1-5h0m-2 2h0m-2-3h0m0 7h0m0-5h0m-1-2h0m0 6h0m0 1h0m0-5h0m-1 3h0m-1 1h0m-2-3h0m-1 3h0m-1-6h0m0 4h0m-1-3h0m-1 5h0m0 0h0m-2 0h0m-2-3h0m-1-1h0m0-2h0m0 7h0m-1-2h0m0 0h0m0-5h0m0 7h0m0-4h0m-1 1h0m-1 0h0m0 0h0m0-3h0m-1 4h0m-1-5h0m-2 6h0m0 0h0m0-6h0m-2 5h0m-1-1h0m0 2h0m-1-6h0m-1 0h0m-1 3h0m0-1h0m-1 3h0m-1-4h0m-2-2h0m-3 7h0m0 0h0m0-5h0m-3 3h0m-1 1h0m-1 1h0m0-6h0m-1-1h0m0 6h0m-1-1h0m-1-4h0m-4 1h0m0 4h0m-2-6h0m-4 5h0m-2 1h0m-1-3h0m-8-3h0m-15 2h0m3 7h0m3 4h0m4-2h0m4-2h0m2 1h0m0 1h0m2 0h0m0 3h0m1 2h0m1-3h0m2 0h0m1 0h0m2 0h0m0-4h0m0 4h0m1-2h0m0-2h0m4 0h0m0 5h0m0-4h0m1 5h0m0-5h0m1 0h0m1-1h0m0 6h0m0 0h0m3-5h0m0 1h0m1 1h0m0 0h0m0 0h0m1 0h0m0 1h0m1-2h0m0 1h0m2 1h0m1-1h0m0 0h0m1 3h0m0-3h0m0-1h0m1-1h0m0 4h0m0-2h0m0 3h0m1-3h0m0-3h0m0-1h0m1 3h0m0-2h0m1 5h0m1-6h0m0 6h0m0-2h0m0-4h0m0 2h0m1 6h0m1-7h0m0 7h0m1-8h0m0 1h0m1 6h0m0-6h0m1 3h0m0 0h0m0 3h0m0-1h0m0-1h0m1 1h0m1 1h0m0 0h0m1-3h0m0 2h0m0-1h0m0-2h0m1 0h0m0-1h0m0 2h0m1-4h0m0 3h0m1 3h0m0-1h0m0 3h0m1-6h0m0 2h0m2-3h0m0-1h0m0 4h0m1 3h0m0-5h0m0 2h0m0 3h0m1-4h0m0-1h0m0 0h0m0 2h0m0 0h0m0 3h0m1-1h0m1-3h0m2 4h0m1-5h0m0 4h0m1-5h0m0 0h0m0 2h0m1 4h0m0-4h0m0 0h0m1 3h0m0-3h0m0-3h0m1 1h0m0 3h0m0 1h0m0-5h0m0 3h0m1 1h0m0-2h0m1 1h0m1 3h0m0 0h0m0-4h0m0 0h0m1-1h0m1 0h0m0 4h0m0-2h0m2 5h0m1-6h0m1 6h0m0-8h0m1 4h0m0-3h0m1 3h0m0 1h0m0-3h0m1 1h0m0-3h0m1 1h0m0 7h0m0-7h0m1 0h0m0 3h0m1 3h0m0-3h0m1 4h0m0-2h0m1-4h0m0 0h0m1-1h0m0 1h0m1 2h0m2-2h0m1 4h0m2 1h0m5-1h0m1 1h0m4 0h0m4-5h0m2 2h0m1 4h0m12 3h0m-9 0h0m-3 3h0m-9-3h0m-1 4h0m-9 1h0m0-5h0m-6-1h0m-1 1h0m0-3h0m-1 2h0m-2 0h0m0 0h0m-1 2h0m-1 2h0m0-5h0m0 4h0m-1 3h0m-3-1h0m0-2h0m-1-5h0m0 0h0m-1 6h0m0-5h0m-1 1h0m-1-1h0m-1 6h0m-3-7h0m-1 0h0m0 3h0m-1 0h0m-1 3h0m0-4h0m-1 3h0m0-3h0m0 1h0m-1-1h0m0 3h0m0-3h0m-1 1h0m-1 4h0m0-3h0m0-3h0m-2 1h0m-1-2h0m0 3h0m-1 0h0m0 4h0m0-6h0m-1 1h0m0 6h0m0-5h0m-1 5h0m-1-3h0m0 0h0m-1-1h0m-1 2h0m0-3h0m-1 4h0m-1-2h0m-1 0h0m0-4h0m0 2h0m0-3h0m-1 8h0m0-4h0m0 0h0m-1-3h0m0 3h0m-1 0h0m0 3h0m-2-7h0m0 4h0m0 0h0m-1-1h0m-3 4h0m-1-7h0m-1 7h0m-1 1h0m-1-7h0m0 3h0m-3-1h0m0 2h0m-1-3h0m-3 1h0m0-3h0m-2 0h0m-3 2h0m-2-1h0m-1 7h0m-1-4h0m-1-1h0m-2-2h0m-3 1h0m-2 2h0m-1 2h0m0-1h0m-6 2h0m10 3h0m1-1h0m4 7h0m16-8h0m2 3h0m1-2h0m0 3h0m1 2h0m3 0h0m3-4h0m1-2h0m5 1h0m1 1h0m3 1h0m2 0h0m2 4h0m1-5h0m1 2h0m1-1h0m1 2h0m1-2h0m1 5h0m2-7h0m0 2h0m0-1h0m1-2h0m3 2h0m1 2h0m1-3h0m2 3h0m0 2h0m1-5h0m2 1h0m3-1h0m0-1h0m0 0h0m7 3h0m0-1h0m5-1h0m4 6h0m4-4h0m5-1h0m1 1h0m-45 10h0m-1 2h0m-2-6h0m-6 5h0m-5-4h0m-3 1h0m-18 2h0m-3-4h0m-10 2h0m22 12h0m5-4h0m9 1h0m14-4h0" stroke="#000" stroke-opacity=".45" stroke-width="2.8" stroke-linecap="round" fill="none"/>
<path transform="scale(.25)" d="M1268 758h0m31-1h0m42-1h0m-57 11h0m-4-6h0m-18 5h0m-18-1h0m-4 1h0m-32 9h0m28 1h0m1-1h0m0-1h0m5 0h0m4-5h0m1 7h0m7-5h0m7 4h0m6-5h0m6 3h0m2-3h0m8 4h0m4 0h0m3-2h0m8 1h0m6 1h0m16 1h0m1 2h0m-5 4h0m-4-3h0m-3-1h0m-6 6h0m-1-5h0m-1 3h0m0-4h0m0 7h0m-2-7h0m-1 1h0m-1 3h0m-3 0h0m0 1h0m-1-6h0m0 5h0m-2 0h0m-6 0h0m-3-2h0m0-2h0m-1 6h0m-1-6h0m-2 4h0m-1 3h0m0-3h0m0 0h0m-2-3h0m-7 0h0m-1-2h0m0 4h0m-1 4h0m0-5h0m0 3h0m-1-1h0m-3 0h0m0-1h0m-10 1h0m-2 1h0m-1-4h0m-4 2h0m0 1h0m-2 3h0m-10-5h0m-1 4h0m0 0h0m-1 0h0m-1-3h0m-4-3h0m-1 5h0m-8-3h0m0-3h0m-28 14h0m23-3h0m1 3h0m3 0h0m3-1h0m3-1h0m2 3h0m3 1h0m2-7h0m2 7h0m4 0h0m0-4h0m2-1h0m4 1h0m1 3h0m2 0h0m0 0h0m4-1h0m0-5h0m0 1h0m2 6h0m1-7h0m1 5h0m1 0h0m2-2h0m0 2h0m0 1h0m1-3h0m0-3h0m1 6h0m0-6h0m0 1h0m0 5h0m1-7h0m2 2h0m3 0h0m0 0h0m0 1h0m2 3h0m1 2h0m1-6h0m1 4h0m1-1h0m0 2h0m1-6h0m0 2h0m2 4h0m1-2h0m2-1h0m0 4h0m2-6h0m0-2h0m0 3h0m1-1h0m0 3h0m1 2h0m0-7h0m0 1h0m0 6h0m2-6h0m2 6h0m0 1h0m0-7h0m2 5h0m0 1h0m1-6h0m2 4h0m0-4h0m1 3h0m1 1h0m0 0h0m0 3h0m1-1h0m1-7h0m2 5h0m1 1h0m1-1h0m1 0h0m0-2h0m1 0h0m3 4h0m1-1h0m1-4h0m2 5h0m1-3h0m0 1h0m1-2h0m2 3h0m0-2h0m3 1h0m1-2h0m5-1h0m3 4h0m13-3h0m22 5h0m-8 7h0m-11-6h0m-3 1h0m-4 6h0m-9-2h0m0-1h0m-6 0h0m-4-1h0m-5-1h0m-1-2h0m-1 1h0m-6 3h0m-3-2h0m-1-1h0m0-1h0m-3 2h0m-1 1h0m-1-3h0m0 6h0m0-4h0m-4-2h0m0 4h0m0-2h0m-1 2h0m0-3h0m-1 1h0m0-1h0m-1 3h0m-1 1h0m0-1h0m-2-4h0m0 3h0m-3-3h0m-1 3h0m-2-1h0m-1-2h0m0 2h0m0 3h0m0 1h0m-1-2h0m0-3h0m-1 6h0m-1-1h0m0-5h0m-2-1h0m-2 3h0m0-2h0m-1 0h0m0 4h0m-1 1h0m-2-2h0m0 2h0m-1-4h0m0 1h0m-1 3h0m-1-1h0m0 0h0m-1 1h0m0-3h0m0 3h0m0-6h0m0 6h0m-1-6h0m-1 7h0m-1-2h0m0 0h0m-2-1h0m0 2h0m0 0h0m-1-5h0m-1 4h0m-1 0h0m-1-3h0m-3 0h0m-2 4h0m-2 0h0m-1-1h0m0-1h0m-4 0h0m-1-2h0m-2 5h0m0-1h0m-1-5h0m0 2h0m-12-4h0m-7 2h0m-5 6h0m-2-5h0m12 10h0m13 1h0m1-5h0m3-1h0m1 8h0m3-3h0m1-1h0m2-2h0m1 5h0m3-5h0m0 1h0m3 0h0m0-2h0m1 0h0m2-1h0m1 6h0m1-1h0m0-2h0m1-2h0m2-1h0m1 5h0m0-1h0m0 3h0m3 0h0m1-5h0m1 3h0m1-1h0m1-3h0m1 6h0m1-6h0m2 6h0m0-4h0m0 1h0m2 3h0m2-3h0m1-3h0m2 4h0m3-3h0m1 1h0m0 1h0m3-1h0m1 3h0m1-3h0m0-2h0m3 4h0m0-3h0m0 6h0m1-5h0m1 2h0m1-2h0m1 0h0m1 1h0m1-3h0m3 6h0m2-4h0m1 2h0m2-4h0m3 1h0m4 1h0m0 4h0m1-4h0m3-2h0m1 4h0m2 3h0m3-7h0m7 6h0m15-6h0m15 2h0m-12 10h0m-11 3h0m-14-2h0m-8-3h0m-3 0h0m0 2h0m-2-1h0m-3-4h0m0 8h0m0-6h0m-2 1h0m-2 0h0m-2-1h0m-1 3h0m0-3h0m-1 6h0m0-5h0m-1-1h0m-1 3h0m-1-1h0m-3-1h0m0 2h0m-1 1h0m0 1h0m-4-1h0m-1-5h0m0 6h0m-1-6h0m0 0h0m-1-1h0m-1 3h0m0-1h0m-1 2h0m-1 4h0m-2-1h0m0-1h0m-2-4h0m0-2h0m-1 7h0m-1-5h0m-1-1h0m0 4h0m0-3h0m-3 5h0m0-4h0m-2 3h0m-1 2h0m-2-3h0m-3 1h0m-2 2h0m-2-6h0m-1-2h0m-2 6h0m0-3h0m-2 4h0m-5-7h0m-1 4h0m-2-1h0m0-1h0m-1 3h0m-3-2h0m-3-2h0m0 0h0m-2 3h0m-1-2h0m-4 4h0m-29 5h0m8-1h0m4 5h0m1 1h0m12-2h0m7 2h0m2-3h0m0-3h0m9 2h0m4-3h0m2 4h0m2 0h0m2-1h0m3-3h0m1 0h0m0 0h0m1 2h0m0 2h0m5-1h0m1 3h0m0-6h0m2 4h0m3-5h0m1 1h0m1 6h0m1-2h0m0 1h0m1-5h0m1 3h0m0-1h0m1-1h0m0 0h0m1 0h0m1 3h0m0 0h0m6-4h0m0-1h0m3 3h0m2 4h0m4-6h0m2-1h0m2 6h0m1-2h0m3-3h0m9-1h0m21 3h0m5 0h0m-12 7h0m-1-1h0m-9 1h0m-9 5h0m-6-1h0m0-1h0m-4-3h0m-1 2h0m0-2h0m-2 1h0m0 1h0m-9 1h0m0 2h0m-1 0h0m-3-7h0m0 3h0m-2 4h0m-1-1h0m-1 1h0m-3-4h0m0-2h0m-1 1h0m0 2h0m-1-1h0m0 0h0m0 3h0m-4 0h0m-3 0h0m-2-5h0m0 2h0m-1 4h0m-3 1h0m-1-8h0m-1 4h0m-3 3h0m-2-4h0m-5 0h0m-4 0h0m0 4h0m-1-2h0m-4-4h0m-24 4h0m-1 0h0m-6 1h0m-14-1h0m-4-4h0m26 11h0m2 3h0m2-5h0m1 3h0m1 0h0m4-2h0m1-1h0m1 1h0m1-2h0m10 3h0m1 0h0m1 4h0m4-1h0m0 1h0m0 0h0m7-2h0m1-1h0m0-2h0m1 3h0m1 1h0m1-4h0m1-3h0m4 6h0m3 0h0m2-4h0m0 2h0m2-2h0m0 3h0m5-1h0m3-2h0m3-1h0m1 4h0m0-3h0m3 0h0m2 6h0m1-2h0m1-5h0m1 2h0m2 2h0m6-5h0m2 8h0m3-4h0m2 3h0m7-5h0m0-1h0m8 3h0m3-3h0m24 13h0m-9-5h0m-7-1h0m-8 3h0m-23 2h0m-5 1h0m-6-2h0m-2 3h0m0-1h0m-3-3h0m-2 0h0m-2-3h0m-5 4h0m-2-3h0m-1 5h0m-1-1h0m-2-4h0m0 1h0m0 1h0m-5-3h0m-2 4h0m-2 1h0m-2 2h0m-2-7h0m0 3h0m-2 4h0m-1-3h0m-2-3h0m-1 4h0m0 2h0m-9-1h0m0-1h0m-3-1h0m0 0h0m-2 2h0m-1-5h0m-4 5h0m0-1h0m-5-3h0m-1 4h0m-1 2h0m-5-1h0m-1-2h0m-1-3h0m-1-2h0m-13 4h0m0-1h0m-5 10h0m2-5h0m1 2h0m6 4h0m3-3h0m5 5h0m5-4h0m4 1h0m1 0h0m1 2h0m2-3h0m0 1h0m2-3h0m2 4h0m0 1h0m2 1h0m2-5h0m2 5h0m3-7h0m0 1h0m3 3h0m5-1h0m1-1h0m4 2h0m1-3h0m5 1h0m0 1h0m1-2h0m1 4h0m1-3h0m2-2h0m1 0h0m1 4h0m2 0h0m0-1h0m2 3h0m0-1h0m2-3h0m0 4h0m5-4h0m3-1h0m5 4h0m4-1h0m3-3h0m1 2h0m0 0h0m0 2h0m4-1h0m1 0h0m1 1h0m0 1h0m2-1h0m13-1h0m1-1h0m2 3h0m7 0h0m15-3h0m-9 5h0m-7 3h0m-2-2h0m-9 2h0m-2-2h0m-7 2h0m-2-1h0m-1 1h0m-1 3h0m-9-2h0m-1-1h0m-4 0h0m-1-1h0m-2 2h0m-3-4h0m-8 5h0m0-4h0m0 1h0m-3 0h0m-2 2h0m0 1h0m0-2h0m-2 3h0m-1 1h0m-3-2h0m-4-5h0m0 5h0m-1 0h0m-1-2h0m-6 0h0m-1 3h0m0 0h0m-1-1h0m-2-4h0m-3-2h0m-2 7h0m-2 1h0m-10-4h0m-5 2h0m-2-2h0m0-3h0m-2 3h0m-1 0h0m-6-4h0m-8 4h0m-4 3h0m-9 8h0m2 0h0m5-1h0m6-3h0m13-3h0m1 5h0m1-2h0m2-1h0m1 5h0m9-7h0m5 5h0m0-1h0m6-2h0m4 1h0m8 4h0m4 0h0m1-1h0m1 2h0m1-7h0m2 5h0m0-5h0m4 4h0m1 0h0m1-4h0m1 4h0m4-4h0m1 1h0m0 3h0m2-4h0m1 1h0m3 2h0m1 2h0m2 0h0m0-6h0m5 5h0m2-2h0m0 4h0m1-3h0m2-1h0m2 1h0m2 2h0m3-1h0m3-4h0m6 5h0m3-5h0m34 4h0m-13 5h0m-9 3h0m-7 2h0m-8-3h0m-1 2h0m-10 1h0m-2-5h0m-10 1h0m-1-2h0m-2 4h0m0-1h0m0 0h0m-2 2h0m-2 0h0m-2 0h0m-9 1h0m0 0h0m-1-6h0m-7 1h0m0 2h0m-3 0h0m-2-1h0m0-2h0m-4 3h0m-3 4h0m-10-2h0m-1-4h0m-3 0h0m0 4h0m-1 2h0m-2-7h0m0 5h0m-5-4h0m-1 1h0m-5 4h0m0-2h0m0 2h0m-4-7h0m0 4h0m-19 2h0m-4 1h0m-5 8h0m4-6h0m4 7h0m9-2h0m6-6h0m1 0h0m6 6h0m1-1h0m0 0h0m0 2h0m1-1h0m1 1h0m3 1h0m2-4h0m5-2h0m7 0h0m6-2h0m3 2h0m0 5h0m2-3h0m2 1h0m1-2h0m3 0h0m2 5h0m3-3h0m1 1h0m3-4h0m4 4h0m11-5h0m1 7h0m2-1h0m3-7h0m3 6h0m15-2h0m-12 9h0m0 2h0m-8-2h0m-3 0h0m-8 1h0m-2-5h0m-1 3h0m-3 1h0m-8-2h0m0 4h0m-6-1h0m-2-4h0m0 2h0m-4 3h0m-1-2h0m-1 0h0m-4-2h0m-2-1h0m-6 6h0m-2-6h0m0 5h0m-14-6h0m-2-1h0m-2 1h0m-3-1h0m-4 3h0m-2-2h0m-9 7h0m30 2h0m1 3h0m12-2h0m1 2h0m5-2h0m2-1h0m12-2h0m1 4h0m6-3h0m12 6h0m12-1h0m17 8h0m-1-2h0m-36-3h0m-20 1h0m-9 5h0m-3-5h0m-2 5h0m-9-1h0m-6-1h0m-2 0h0m-20-1h0m-6 5h0m4 4h0m60-4h0m10 0h0m0 4h0m-35 6h0m0 3h0m-6 2h0m-8-7h0m-13 6h0m-9 8h0m38-5h0m28 2h0m-15 11h0m-55 2h0" stroke="#000" stroke-opacity=".3" stroke-width="2.8" stroke-linecap="round" fill="none"/>
</g>
<line x1="326.4" y1="183.2" x2="326.4" y2="247.5" stroke="#3a3a3a" stroke-width=".9"/>
<line x1="294.6" y1="226.5" x2="359.2" y2="226.5" stroke="#3a3a3a" stroke-width=".9"/>
<text x="296.1" y="190.79999999999998" font-size="5" fill="#222">12.7</text>
<text x="352.7" y="190.79999999999998" font-size="5" fill="#222" text-anchor="end">68.2</text>
<text x="296.1" y="243.7" font-size="5" fill="#222">19.0</text>
<text x="352.7" y="243.7" font-size="5" fill="#222" text-anchor="end">0.070</text>
<text x="326.5" y="255.2" font-size="6.6" fill="#222" text-anchor="middle" textLength="10.9" lengthAdjust="spacingAndGlyphs">BT2</text>
<rect x="376.0" y="183.2" width="64.3" height="64.3" fill="#fff" stroke="#b0b0b0" stroke-width="1"/>
<clipPath id="c2"><rect x="376.5" y="183.7" width="63.3" height="63.3"/></clipPath>
<g clip-path="url(#c2)">
<ellipse cx="408" cy="201.5" rx="14.30" ry="9.90" transform="rotate(20 408 201.5)" fill="url(#g2_5)"/>
<ellipse cx="387.5" cy="233.3" rx="15.40" ry="5.94" transform="rotate(0 387.5 233.3)" fill="url(#g2_6)"/>
<path transform="scale(.25)" d="M1623 746h0m-18 10h0m21 4h0m30 5h0m-47-2h0m-25 1h0m0 8h0m4 1h0m1-1h0m4-3h0m0 0h0m6-1h0m3 5h0m5-3h0m12 4h0m4-2h0m1-1h0m0 3h0m16-2h0m2 0h0m12 2h0m18 1h0m3-2h0m5 10h0m-11-5h0m-17 4h0m-4-5h0m-1 1h0m-3 4h0m-1 0h0m0-5h0m-11 5h0m0-5h0m-1 7h0m0-1h0m-6-4h0m0-2h0m-2 2h0m-4 0h0m-4 4h0m-5 0h0m0 0h0m0 0h0m-1-7h0m-8 7h0m-1 1h0m-2-2h0m-1 1h0m-9-1h0m-3-1h0m-17 0h0m-24 6h0m26 4h0m14 0h0m3-4h0m5 0h0m1-1h0m1-1h0m2 2h0m8 2h0m6 0h0m3-3h0m0 2h0m3 4h0m2-7h0m2 2h0m0 2h0m2 2h0m0-2h0m3-4h0m2 3h0m2-1h0m1 1h0m0 1h0m1-3h0m1 6h0m3-4h0m2-3h0m0 5h0m1-4h0m1 3h0m3-2h0m0 2h0m0 3h0m4-4h0m4-2h0m1 4h0m0 1h0m1-1h0m5-1h0m1-4h0m3 7h0m1-1h0m1-5h0m0 4h0m13-2h0m8 1h0m4-4h0m3 2h0m-9 8h0m-7-3h0m-2 4h0m-8 0h0m-1 2h0m-3-3h0m-1 3h0m-1-1h0m-1 1h0m-1-6h0m0 8h0m-1-7h0m-3 0h0m-2 2h0m-1 2h0m-2-2h0m-6-2h0m0 5h0m0 0h0m0 1h0m0-1h0m-1-2h0m-1 1h0m-1-1h0m0 0h0m-1 2h0m-4-1h0m0-5h0m-1 8h0m-6-4h0m0 3h0m-2-3h0m-1 3h0m0-1h0m-1 1h0m-1-1h0m0 0h0m-1 0h0m-2 0h0m-1-5h0m-1 6h0m0-5h0m-2 0h0m0 4h0m-1-5h0m-4 3h0m0-2h0m0 1h0m-1-2h0m-1 6h0m-2-7h0m-3 4h0m0 2h0m-1-1h0m0-4h0m0 5h0m-6-4h0m0 1h0m-2-3h0m-1 2h0m-1 6h0m0-1h0m-3-4h0m-11-3h0m-5 15h0m10-2h0m13 1h0m3-3h0m2 3h0m0 2h0m2-7h0m1-1h0m1 4h0m1 3h0m0-6h0m5 7h0m1-1h0m1-4h0m1 0h0m0 0h0m0 5h0m0-3h0m1 1h0m2 0h0m1-5h0m0 2h0m0 1h0m1 0h0m1 2h0m3-3h0m0 2h0m0-2h0m1-3h0m2 2h0m2-1h0m0 3h0m0-1h0m2-1h0m0 5h0m0 0h0m3-6h0m2 0h0m1 3h0m0 1h0m0-2h0m1-1h0m4 3h0m1-4h0m0 0h0m2 2h0m2-2h0m0 4h0m1 1h0m1-2h0m1-1h0m3 3h0m5-5h0m0 1h0m3 0h0m1 4h0m1 1h0m0 0h0m2-7h0m1 8h0m2-3h0m1 0h0m1-2h0m3 2h0m2-5h0m37 12h0m-1 1h0m-29 2h0m-4-1h0m-12-2h0m-1 0h0m-1-2h0m-4 4h0m0-3h0m-2 4h0m0-4h0m-3-2h0m0 0h0m-1 2h0m-3 2h0m-2-2h0m0-1h0m0-2h0m-1 3h0m-1 2h0m-1 2h0m-2-5h0m-1 3h0m-1 2h0m-1 0h0m0 0h0m-1-2h0m0 2h0m-1-4h0m-2-2h0m0 2h0m0 4h0m0-6h0m-1 6h0m0-7h0m-2 4h0m0 2h0m0 0h0m-1-5h0m-1 3h0m0 4h0m-1-5h0m0 0h0m-2-2h0m-1 5h0m0 2h0m-1-6h0m0 1h0m0 3h0m-1-5h0m0 0h0m-1 0h0m-1 6h0m-2 0h0m-2-7h0m-1 5h0m-4 1h0m-3-2h0m-1 1h0m-1-4h0m-1 1h0m0 1h0m-1-1h0m-1 4h0m-12-5h0m-8 2h0m-7 2h0m-1 8h0m8 3h0m4-6h0m0 0h0m10 0h0m0-1h0m5 0h0m2 0h0m1-1h0m0 1h0m1 3h0m1-1h0m1 0h0m1 4h0m2-7h0m2 7h0m2 0h0m0-3h0m1-4h0m0 1h0m1 4h0m0 2h0m2 1h0m4-4h0m0 0h0m1-4h0m0 2h0m2 3h0m1 1h0m0-1h0m1-1h0m1-2h0m0 3h0m0 0h0m1 1h0m1 2h0m0 0h0m0-7h0m0 1h0m3 5h0m6-6h0m0 4h0m2-4h0m1 6h0m1-4h0m1 3h0m0-3h0m2 4h0m0 0h0m1-4h0m0 4h0m1-7h0m1 7h0m0-3h0m1-2h0m2 4h0m0 1h0m10 1h0m5 0h0m2-7h0m3 2h0m4 1h0m2-1h0m10 7h0m-7 2h0m-9 3h0m-8 1h0m-2-4h0m-2 3h0m-7-4h0m-2 0h0m0 1h0m-1-3h0m-3 2h0m0 3h0m-4-5h0m-2 4h0m-3-3h0m0 0h0m0 3h0m-3-3h0m0 6h0m-2-6h0m0 3h0m-2-5h0m-1 2h0m0 5h0m-1-6h0m-1 3h0m0 4h0m-1-2h0m-2-3h0m-1 1h0m-6-1h0m-2 4h0m-1-3h0m-2 1h0m-3-1h0m-5-2h0m-3 0h0m-2 6h0m-5-5h0m-3-2h0m0 3h0m-18 1h0m17 8h0m2 3h0m8-2h0m8-1h0m2 0h0m8 0h0m7 0h0m2-4h0m5 0h0m1 3h0m1 0h0m3 4h0m0-2h0m2-2h0m1-3h0m2 2h0m0 3h0m1-4h0m1 5h0m7-2h0m2-1h0m6-1h0m3 2h0m7-4h0m1 3h0m-5 9h0m-8-4h0m-2 1h0m-5 4h0m-2-1h0m-7 1h0m-5 1h0m-1 0h0m-7-4h0m0 0h0m-4-1h0m-1 0h0m-3-1h0m0 3h0m-15 4h0m-5-4h0m-4-2h0m-16-1h0m49 9h0m15 4h0m38 1h0m6 3h0m-35 0h0m-2 1h0m-31 14h0m-89 28h0m30 2h0m23-1h0m18 5h0m-1 3h0m-17 1h0m-9 0h0m-1-3h0m-13 2h0m-1-4h0m-26 5h0m-4-2h0m-2 2h0m-2-3h0m-7 2h0m-7 4h0m0 3h0m0-1h0m8 0h0m1 0h0m2-4h0m0 7h0m1 0h0m4-6h0m1 2h0m2 1h0m2 2h0m0-5h0m0 6h0m1 0h0m3 0h0m1 1h0m0-1h0m0-2h0m2-1h0m5-2h0m2-1h0m2 0h0m0 7h0m1-2h0m0 0h0m1-1h0m2-3h0m1 6h0m0-5h0m4 1h0m1-1h0m1 5h0m0-6h0m11 5h0m0-6h0m2 6h0m1 0h0m0-2h0m7 3h0m1-3h0m1 3h0m3-1h0m1-4h0m13 2h0m0 2h0m18 0h0m10 9h0m-19-8h0m-1 6h0m-1-1h0m-3 2h0m-3 0h0m-5-3h0m-2-3h0m-1 6h0m-2 0h0m0-3h0m0 1h0m-4 0h0m-5 3h0m-1-3h0m0 2h0m0-5h0m-1 2h0m-1 2h0m-1 0h0m0 2h0m-1-2h0m0 1h0m-2-4h0m-3 3h0m-2-2h0m-3 1h0m0 3h0m-2-5h0m-1 3h0m-1 1h0m-1-2h0m0 1h0m-1-2h0m-2-2h0m0 0h0m0 0h0m-4-2h0m0 7h0m-1 0h0m0-1h0m-1-2h0m0 1h0m-2-3h0m-1 1h0m-1-2h0m0-1h0m-1 2h0m0 5h0m0-7h0m0 7h0m-1-5h0m0-1h0m-1 1h0m0 3h0m-1 1h0m0-1h0m-1 0h0m-2 2h0m0-4h0m-1 3h0m0 2h0m-1-2h0m0 0h0m0-1h0m-1 2h0m0 0h0m-1-1h0m0-1h0m0-3h0m0 3h0m0-4h0m-1 7h0m0-3h0m-1-2h0m-1 4h0m0 1h0m-1-4h0m0-2h0m-2 5h0m-1-1h0m-2-1h0m-1 0h0m0-1h0m-1 0h0m0 0h0m0 0h0m-1 1h0m0-1h0m-1 0h0m-1 1h0m-2-4h0m0 3h0m-2-3h0m-1 7h0m-1-6h0m-2 4h0m-3-3h0m0-1h0m-1 3h0m-1 1h0m-1 0h0m-1-3h0m-4 1h0m-1 2h0m0 2h0m1 1h0m1 5h0m0-5h0m1 3h0m2-1h0m1 4h0m1-6h0m2 4h0m0 1h0m0-2h0m1 2h0m0-4h0m0 6h0m1-6h0m1 2h0m0-1h0m0 4h0m1-5h0m1 4h0m1-6h0m3 5h0m1 0h0m0 1h0m0 2h0m0-6h0m1 2h0m0 1h0m0-2h0m1-1h0m0 5h0m0-7h0m0 3h0m1 4h0m0-2h0m0-1h0m1 1h0m0-2h0m1-3h0m1 6h0m0-3h0m1 2h0m0 0h0m1 2h0m0-3h0m1 0h0m0-1h0m1-2h0m0 2h0m1 1h0m0-4h0m1 4h0m0-3h0m1 0h0m1-1h0m0 1h0m0 1h0m0 3h0m0 3h0m1-1h0m0 1h0m0-1h0m0 0h0m2-1h0m0-5h0m1 3h0m0 3h0m1 0h0m1-4h0m1 0h0m0 5h0m1-7h0m0 3h0m0-2h0m1 0h0m0 4h0m1-3h0m0 0h0m0 2h0m1 1h0m0-3h0m0-1h0m2 5h0m0 1h0m0-1h0m0-2h0m0 0h0m0-4h0m0 4h0m1-4h0m0 2h0m0 4h0m0 0h0m0-1h0m0-3h0m1 1h0m1-1h0m0 0h0m1-3h0m0 5h0m0 0h0m0-3h0m0 3h0m1 2h0m0-2h0m2 1h0m0-1h0m1 3h0m0-5h0m2 1h0m1-3h0m2 5h0m1-3h0m1-2h0m0 6h0m1 1h0m0-1h0m1-5h0m0 6h0m1-5h0m0 5h0m1-3h0m0 0h0m1 0h0m0-2h0m0-1h0m1 1h0m0-2h0m2 3h0m2-4h0m0 8h0m1-1h0m0-4h0m0 3h0m0-2h0m2-4h0m3 5h0m0 0h0m2 0h0m1-2h0m0-1h0m1 4h0m1-5h0m0 2h0m2-2h0m5 2h0m1 2h0m0 0h0m3-4h0m5 3h0m1 0h0m5-4h0m9 2h0m-1 11h0m-8-4h0m0 0h0m-1 6h0m-5-1h0m-4-3h0m-1-1h0m-1-1h0m-3 5h0m-5-3h0m-1 2h0m-1-2h0m-2 1h0m-1 0h0m0-1h0m-1 1h0m0-3h0m-1 3h0m-3-3h0m-1 4h0m0-4h0m0-1h0m-2 3h0m0-2h0m0 6h0m-2-3h0m0 0h0m0 3h0m0-7h0m-1 4h0m-2-2h0m-1-2h0m-1 6h0m0 0h0m-1-4h0m-1 1h0m0 4h0m0-6h0m-1 0h0m0 0h0m0 1h0m0-1h0m-1 1h0m0 2h0m0-2h0m-3 4h0m0 1h0m0-1h0m0 0h0m-1-3h0m0 3h0m0-1h0m-1 0h0m0-1h0m-1-2h0m-1 0h0m0 2h0m-1-2h0m0 4h0m-1-2h0m0 2h0m-1 1h0m0-5h0m0 6h0m-1-2h0m0-2h0m-1-3h0m-1 3h0m0 3h0m0-3h0m0 1h0m-1 0h0m-1-2h0m-1 4h0m0-5h0m-1 4h0m-1-4h0m0-1h0m0 2h0m0 3h0m0-2h0m-1 0h0m-1 1h0m-1-2h0m-1 4h0m0 1h0m0-6h0m0 3h0m-1 0h0m0 0h0m-1-5h0m0 2h0m0-2h0m-1 1h0m-2 0h0m-1 2h0m-1-3h0m-1 5h0m0-1h0m0 2h0m-1-4h0m0 6h0m0-6h0m-1 5h0m0-1h0m-1-3h0m0 4h0m0-1h0m-1-6h0m-1 4h0m0-2h0m-1 4h0m-2 0h0m0-1h0m0 2h0m-1-6h0m0-1h0m-1 5h0m0 0h0m-1 2h0m0-3h0m-1 1h0m0-5h0m0 6h0m-1-3h0m0 1h0m0-3h0m-1 2h0m-1 5h0m-1-8h0m-3 4h0m0 0h0m-4 0h0m-1-2h0m-1-1h0m-2 3h0m0-1h0m-1-1h0m0 2h0m-1 2h0m0 1h0m0 0h0m-1-4h0m-1 6h0m4 3h0m2 0h0m0-2h0m1-1h0m1 0h0m1 0h0m2 3h0m0-1h0m4 2h0m0-5h0m0 2h0m1 0h0m1 6h0m1-4h0m1 1h0m2-3h0m0 3h0m3-5h0m2 2h0m0-1h0m2 3h0m4-1h0m3 1h0m1 2h0m1-4h0m2 0h0m2 0h0m0-1h0m1 1h0m1 0h0m2 3h0m0-4h0m6-1h0m1 1h0m0 4h0m2-1h0m1-4h0m0 3h0m2 2h0m0-3h0m1 0h0m1 3h0m1 3h0m1-5h0m0 3h0m2-4h0m0-1h0m1 4h0m0-4h0m1 6h0m0-5h0m2 1h0m1 2h0m1 0h0m2-1h0m2-4h0m2 2h0m7 3h0m1-4h0m10 0h0m3 0h0m4 1h0m15 10h0m-8-3h0m-19 1h0m-2 1h0m-5 1h0m-18-4h0m-1 4h0m-2-1h0m-7-3h0m0 0h0m-3 5h0m-2-4h0m-7 2h0m-3 4h0m-12-5h0m0 1h0m-3 0h0m-6-3h0m-3 1h0m-2 6h0m7 2h0m24 2h0m16-3h0m14 6h0" stroke="#000" stroke-opacity=".45" stroke-width="2.8" stroke-linecap="round" fill="none"/>
<path transform="scale(.25)" d="M1602 739h0m54 6h0m-7 6h0m-40-3h0m-26 9h0m33 3h0m25-6h0m6 2h0m23 4h0m9 4h0m-18-4h0m-5 8h0m-16-7h0m-21 6h0m-8-3h0m-7 0h0m-13-4h0m-2 8h0m-16 5h0m23-5h0m0 0h0m1 0h0m8 2h0m8 1h0m3 3h0m5 1h0m3 1h0m2-2h0m3 1h0m16 1h0m2-7h0m44 7h0m-50 8h0m-4-6h0m-2-1h0m-2 4h0m-19-2h0m-1 2h0m-6 1h0m0-1h0m0 1h0m-4 0h0m-2 1h0m-3-6h0m-19 5h0m-19-1h0m-5 1h0m-9-3h0m-21 11h0m36-4h0m6-1h0m1 4h0m8 3h0m1-3h0m0-1h0m7 0h0m3 2h0m1-5h0m5 2h0m2-1h0m8 0h0m3 4h0m1 1h0m16-6h0m0 0h0m4 4h0m1 3h0m11-8h0m1 3h0m8 4h0m1-7h0m1 2h0m3 0h0m13 1h0m8 1h0m5 12h0m-11-6h0m-10 4h0m0-1h0m-3-4h0m-3 1h0m-7 5h0m-3-5h0m-2 4h0m-1-1h0m-5 3h0m-1-3h0m-6-2h0m-3-2h0m-1 6h0m-2-3h0m-2 3h0m-2-4h0m-1 4h0m-3-6h0m-2 5h0m-2-6h0m-1 7h0m-1-2h0m0 1h0m0 1h0m-4-1h0m-3-3h0m-4-2h0m-2 1h0m0 6h0m-2-2h0m-5 2h0m-4-3h0m-4-1h0m-7-3h0m-6-1h0m-26 4h0m16 12h0m2-1h0m3-1h0m16-3h0m5 4h0m1-1h0m4 1h0m1-3h0m3 1h0m1 1h0m4-3h0m2-2h0m0 3h0m1-3h0m4 5h0m4-4h0m1 0h0m1-1h0m1 1h0m0 3h0m1-4h0m2 1h0m1 4h0m1-5h0m1 2h0m6 2h0m0-1h0m2-1h0m2-2h0m1-1h0m0 3h0m1 4h0m0-1h0m1 2h0m3-1h0m1 1h0m0 0h0m1-5h0m3 1h0m2-1h0m1-2h0m5 1h0m0-1h0m15 0h0m0 7h0m4-6h0m13 1h0m2 3h0m24 6h0m-26 2h0m-18 1h0m-4-6h0m-1 2h0m-1 4h0m-14 0h0m-3-2h0m0-2h0m0 4h0m-7 0h0m-13-6h0m-4 6h0m-1-4h0m-1 0h0m-2 3h0m-4-3h0m-2-1h0m-2 4h0m0-2h0m0 3h0m0-6h0m-1 4h0m-7 0h0m-1 2h0m-3-1h0m0-4h0m0 2h0m0 2h0m-2 1h0m-7-4h0m-1-2h0m0 3h0m-3 2h0m0-4h0m-1 5h0m-9-2h0m-2-4h0m-2 0h0m-4 4h0m-2-1h0m0-3h0m-3 1h0m-1-1h0m-2 0h0m-3 5h0m-25 0h0m-4-3h0m8 12h0m29-7h0m1 3h0m1 4h0m8-6h0m1-1h0m0 5h0m3-2h0m2 3h0m6-4h0m6 1h0m1 1h0m0 4h0m1-5h0m1 2h0m1-2h0m1 4h0m1 0h0m2 0h0m0 1h0m2-6h0m0 5h0m1-1h0m1 2h0m1-2h0m2 2h0m2-2h0m1-2h0m1-1h0m3-1h0m0 3h0m2 2h0m4-7h0m1 4h0m2-4h0m3 6h0m2 0h0m3 1h0m1-6h0m1 4h0m1-1h0m1-1h0m3-1h0m1-1h0m1 5h0m4 0h0m0-4h0m6-1h0m0 2h0m8 1h0m3-3h0m30 2h0m-22 7h0m-3 2h0m-5 0h0m-1 2h0m-1 0h0m-3 0h0m-13-4h0m-3 3h0m-5-3h0m-1-2h0m-5 7h0m-1-4h0m-7-1h0m0 2h0m-1 2h0m-2-1h0m-2-3h0m-3 1h0m-1 1h0m-2-1h0m-1 0h0m-1 1h0m-2-4h0m0 3h0m-1 4h0m0-3h0m-1 0h0m-3-3h0m0 6h0m-1-7h0m-4 0h0m-1 6h0m-2-2h0m0 1h0m0-3h0m-1 0h0m-2 0h0m0 2h0m-1 2h0m-2-4h0m-1 0h0m-2 4h0m-1 0h0m0-5h0m0 6h0m-6 1h0m-1-7h0m-4 1h0m-3 4h0m0-4h0m-2 4h0m0-2h0m-2-3h0m-1 3h0m-2 2h0m-1 2h0m0-2h0m-1 2h0m-3-1h0m-10-4h0m-19-2h0m-3 9h0m15 1h0m2 3h0m5 2h0m2-4h0m14-4h0m1 7h0m1-5h0m2 1h0m0 0h0m1-3h0m1 4h0m2 2h0m1 1h0m0-4h0m5 4h0m0-3h0m4 1h0m1-3h0m0 4h0m0 1h0m2-5h0m1 1h0m1 1h0m0 1h0m1 0h0m1 3h0m0 0h0m0-6h0m4 4h0m1-4h0m0 2h0m3-2h0m0 1h0m3-3h0m3 3h0m3 1h0m2-3h0m1 6h0m0-1h0m1-2h0m0-3h0m1 5h0m2-3h0m1 1h0m2-2h0m2 1h0m0 0h0m1-1h0m2 4h0m0-6h0m1 7h0m0-5h0m1 3h0m3-4h0m0 0h0m1 6h0m0-6h0m2 1h0m0 4h0m3-4h0m1-1h0m1 3h0m0 3h0m0 0h0m1-5h0m6 2h0m1 0h0m0 1h0m4-3h0m1 5h0m2-7h0m3 5h0m5-5h0m1 1h0m1 7h0m17 7h0m-25-3h0m-1 4h0m-4-5h0m-11 1h0m-4-1h0m0 4h0m0-2h0m-2 2h0m-4-5h0m-1 0h0m-3 3h0m-2-1h0m-2 0h0m-2-1h0m0 0h0m0-2h0m-1 4h0m-1 3h0m-4-4h0m-1 0h0m0 2h0m-1-3h0m-2 1h0m-2-4h0m0 4h0m0-2h0m-2-1h0m0 7h0m-1-7h0m-1 6h0m0-2h0m-1-3h0m-1 1h0m-1 1h0m-1-4h0m0 0h0m-2 6h0m-1 2h0m-1-7h0m0 5h0m-2-1h0m-1 1h0m-1 0h0m-1-2h0m-5-4h0m-2 3h0m0 5h0m-1-1h0m-2-3h0m-2-4h0m-1 0h0m-1 4h0m-1 0h0m-1 2h0m-3-3h0m-2 1h0m0-4h0m-2 1h0m-5 0h0m-3 3h0m0-4h0m-2 6h0m-2 0h0m-1-2h0m-1-4h0m-5 5h0m-1 0h0m-4 0h0m-5 2h0m-4-7h0m-9 5h0m13 5h0m4 5h0m7-6h0m3 3h0m5 1h0m0-2h0m3-2h0m0 3h0m1-2h0m0-2h0m3 6h0m0 0h0m2-5h0m5 3h0m3 4h0m0-7h0m3 3h0m0-1h0m1 2h0m1 1h0m2-4h0m1 6h0m0-6h0m0-1h0m0 0h0m1 2h0m0 1h0m1-1h0m0 4h0m0-3h0m1 0h0m2 1h0m0-4h0m0-1h0m0 7h0m1-6h0m1 6h0m5-4h0m1 3h0m3 2h0m2-8h0m2 6h0m0 0h0m0-5h0m4 4h0m0 1h0m0-3h0m1-1h0m0 3h0m5 0h0m0 1h0m3-2h0m2-3h0m1 4h0m4-2h0m1 3h0m0 2h0m2-6h0m2 4h0m1-2h0m2-3h0m1 6h0m4-6h0m0 5h0m13 1h0m1-7h0m0 0h0m1 8h0m40-7h0m0-1h0m-15 8h0m-3 6h0m-5-5h0m-15 5h0m-6-2h0m0-4h0m-8 6h0m-4-1h0m-3-1h0m-2-3h0m0 3h0m0-1h0m0-1h0m-1 1h0m-4 1h0m-9-1h0m-2-2h0m0 6h0m-2-4h0m-3-2h0m-3 7h0m-3-3h0m-1 0h0m-2 3h0m0 0h0m-1-1h0m-3-5h0m-1 2h0m-1 0h0m-2-3h0m0 6h0m-3-4h0m-1 5h0m-2-4h0m0-4h0m-3 3h0m-2 0h0m0 1h0m-2-3h0m0 0h0m-1 4h0m-1 0h0m-1 0h0m0 1h0m0-4h0m-2 1h0m-1 2h0m0-4h0m-1 6h0m-1-6h0m-1 2h0m0-1h0m0 5h0m-3-6h0m0 6h0m-1 0h0m-1 0h0m-8-2h0m-3 3h0m-3-4h0m-3 3h0m-1 0h0m-1-1h0m-2-4h0m-6-2h0m-11 4h0m0 2h0m-3-3h0m2 10h0m2-4h0m17 0h0m0 7h0m2-3h0m2 1h0m4 0h0m6 0h0m2 1h0m1-4h0m1-1h0m3 5h0m4-3h0m3-3h0m1 0h0m3 5h0m0 2h0m0-7h0m2 3h0m1 0h0m5 2h0m0-6h0m0 4h0m1 0h0m2 1h0m1-1h0m1 0h0m1-2h0m2 4h0m0 2h0m2 0h0m0-2h0m0 2h0m2-6h0m1 0h0m0 4h0m0 1h0m3-1h0m0-3h0m0 4h0m1 1h0m0-1h0m4-3h0m1-3h0m0 6h0m4-6h0m1 2h0m0 2h0m2 0h0m1-2h0m1-2h0m3 2h0m1 0h0m10 3h0m2 0h0m0-3h0m0 3h0m1-6h0m0 7h0m2 0h0m3 0h0m15 0h0m4-2h0m6 0h0m16-2h0m-3 5h0m-36 7h0m-1-2h0m-1 1h0m-3-4h0m-1-1h0m-3 6h0m-2-1h0m-1-2h0m-7-3h0m0-1h0m0 3h0m-3 4h0m0 1h0m-2 0h0m0-2h0m-4-3h0m0 4h0m0-3h0m-3-4h0m-2 0h0m-2 7h0m-2-2h0m-1 3h0m-1-3h0m-1 0h0m-1 1h0m-1-1h0m0-1h0m-5 1h0m-4-3h0m0 4h0m0-1h0m-3-4h0m0-1h0m0 5h0m-2-4h0m-2 2h0m0 0h0m-1 2h0m-1-3h0m-1-1h0m-12 6h0m0-5h0m-1 0h0m-1 3h0m-2 2h0m-1 0h0m-1-2h0m-15-3h0m-7 0h0m0 3h0m-4 1h0m-6 1h0m0-5h0m-5 3h0m1 8h0m5 0h0m13-4h0m5 3h0m0-2h0m2 4h0m0-3h0m0 4h0m2 1h0m4-3h0m4 2h0m5-5h0m0 3h0m0-1h0m2 3h0m1-4h0m1 4h0m1 0h0m1 1h0m3-1h0m1-7h0m0 7h0m2-6h0m1 2h0m5-1h0m2 2h0m1 0h0m1-1h0m1 0h0m1-2h0m3 5h0m3 1h0m3-6h0m2 6h0m2-3h0m0 0h0m2 0h0m3-1h0m1 3h0m1-1h0m5-3h0m2 2h0m6-1h0m2-1h0m1 0h0m6 6h0m2-6h0m0 5h0m6 0h0m4-3h0m0 1h0m12-5h0m-8 9h0m-6 1h0m-12-1h0m-19 3h0m-11 0h0m-6-2h0m0 5h0m-1-5h0m-4-1h0m-2 0h0m-8 5h0m-6-3h0m0-3h0m-3 1h0m-4 0h0m0 3h0m-1-3h0m-3 3h0m0 0h0m-5-1h0m-5 0h0m-1 2h0m-1-2h0m-3 3h0m-5-3h0m-3 3h0m-2 1h0m-10-5h0m5 8h0m6-2h0m7 6h0m3 1h0m0-5h0m1 2h0m2-1h0m4-2h0m2 0h0m4 0h0m2 6h0m2-5h0m4 2h0m0 2h0m3-4h0m3 4h0m2-4h0m0 6h0m8-1h0m1-1h0m4 0h0m1 1h0m7-4h0m4-3h0m8 7h0m9-4h0m1-3h0m1 3h0m4-3h0m17 5h0m2-1h0m11 7h0m-6-2h0m0 0h0m-29 7h0m-13-2h0m-4-5h0m-4 3h0m-4 4h0m-8-5h0m-7 5h0m-9-4h0m-21 2h0m0 0h0m-4-3h0m-3 4h0m-2-2h0m-2-3h0m-2 5h0m-7-1h0m-1 2h0m-1-3h0m0 4h0m7 2h0m5 3h0m2-4h0m9 1h0m6 0h0m1 2h0m5 3h0m9-1h0m0-7h0m0 7h0m1 0h0m11-6h0m3 5h0m5-1h0m16-2h0m1 4h0m36-5h0m-43 12h0m-2-2h0m-18 2h0m-9-3h0m0-2h0m-18 6h0m-4-4h0m-14 1h0m4 4h0m12 3h0m19 2h0m10 0h0m2 1h0m50-5h0m-50 7h0m-27 0h0m-4 4h0m-27 8h0m16-3h0m6 2h0m21-2h0m-4 13h0m-5-2h0m-25 14h0" stroke="#000" stroke-opacity=".3" stroke-width="2.8" stroke-linecap="round" fill="none"/>
</g>
<line x1="407.3" y1="183.2" x2="407.3" y2="247.5" stroke="#3a3a3a" stroke-width=".9"/>
<line x1="376.0" y1="226.8" x2="440.3" y2="226.8" stroke="#3a3a3a" stroke-width=".9"/>
<text x="377.5" y="190.79999999999998" font-size="5" fill="#222">28.6</text>
<text x="433.8" y="190.79999999999998" font-size="5" fill="#222" text-anchor="end">13.2</text>
<text x="377.5" y="243.7" font-size="5" fill="#222">18.1</text>
<text x="433.8" y="243.7" font-size="5" fill="#222" text-anchor="end">0.076</text>
<text x="408.1" y="255.2" font-size="6.6" fill="#222" text-anchor="middle" textLength="11" lengthAdjust="spacingAndGlyphs">BT3</text>
<rect x="254.6" y="264.0" width="64.1" height="64.4" fill="#fff" stroke="#b0b0b0" stroke-width="1"/>
<clipPath id="c3"><rect x="255.1" y="264.5" width="63.1" height="63.4"/></clipPath>
<g clip-path="url(#c3)">
<ellipse cx="293.5" cy="281" rx="13.64" ry="11.00" transform="rotate(35 293.5 281)" fill="url(#g3_7)"/>
<ellipse cx="266" cy="314.2" rx="16.50" ry="5.72" transform="rotate(0 266 314.2)" fill="url(#g3_8)"/>
<path transform="scale(.25)" d="M1142 1065h0m-3 1h0m-15 5h0m5 2h0m12 6h0m6-1h0m5-4h0m2 5h0m1-1h0m9-3h0m8 3h0m3 2h0m14 5h0m0 0h0m-4-1h0m-11-3h0m0 7h0m-6-3h0m-1-5h0m-4 1h0m-5 4h0m-7 1h0m-7 1h0m-8 0h0m-4-5h0m-27 4h0m0-4h0m26 10h0m2 3h0m1 1h0m8-6h0m3 0h0m3-1h0m3 5h0m2 2h0m3-4h0m2 4h0m1-3h0m1 2h0m1-4h0m1 3h0m1 0h0m0-1h0m1 3h0m2-3h0m3 1h0m1-2h0m2 0h0m0-2h0m1 1h0m0 0h0m7 4h0m3-1h0m0-1h0m5-2h0m7 2h0m4 1h0m5 0h0m1-4h0m14-1h0m6 7h0m3 0h0m-25 6h0m0-5h0m-1 2h0m-3 2h0m-5 2h0m-3-2h0m0 1h0m-4-4h0m-3 3h0m0 2h0m0 1h0m-1-4h0m-1-1h0m0 4h0m-5-2h0m0 1h0m-6 1h0m-2 0h0m-1-3h0m-2 3h0m0-6h0m0 4h0m0 2h0m-1-5h0m-2-1h0m-1 0h0m-9 2h0m-1 4h0m-1-5h0m-1 4h0m0-2h0m-1 1h0m-2-1h0m-1 1h0m0 0h0m-19-1h0m-3 8h0m6 0h0m3 2h0m4 2h0m4-2h0m1-2h0m0 2h0m1-2h0m1-3h0m2 0h0m1 1h0m2-1h0m1 6h0m2-6h0m0 0h0m0 3h0m1-3h0m0 2h0m1 1h0m0-4h0m1 1h0m1 0h0m1 0h0m0 2h0m0 1h0m0-3h0m2-1h0m0 4h0m3 1h0m0-3h0m2 2h0m0-2h0m0 5h0m1-3h0m2 1h0m0-2h0m1-2h0m1 0h0m0 6h0m1-3h0m0 2h0m0-2h0m2 0h0m0 0h0m0 3h0m1-6h0m0 5h0m1-4h0m0 3h0m2-5h0m0 0h0m0 3h0m0-1h0m1-1h0m1 7h0m0-2h0m0 0h0m1 1h0m1-4h0m1 4h0m2 1h0m1-1h0m0-3h0m1 4h0m1-7h0m0 5h0m1-3h0m1-1h0m0 4h0m1-3h0m0 4h0m7-5h0m0 5h0m1-5h0m1 4h0m1-1h0m0 2h0m1 0h0m1-6h0m3 1h0m1 1h0m1 2h0m3-4h0m8 2h0m1-1h0m26 8h0m-19 3h0m-5 2h0m-11-4h0m-1 5h0m-2-2h0m-3-3h0m-3 3h0m-3 0h0m-1-4h0m-1 2h0m0-4h0m-2 4h0m-1-1h0m-1-3h0m0 0h0m-1 5h0m0-1h0m-1 2h0m-1-6h0m0 1h0m-3 5h0m-1 0h0m0-4h0m-1 0h0m0 3h0m0-4h0m-1 4h0m-1 3h0m0-7h0m0 1h0m-1 2h0m0 3h0m-1-5h0m0 4h0m0 0h0m-1 1h0m0-3h0m0 0h0m0 1h0m0-4h0m0 2h0m-1 5h0m0-4h0m-1 0h0m0-3h0m0 0h0m-1 4h0m0 2h0m0-3h0m-1 3h0m-1 0h0m0-2h0m-1-4h0m-1 2h0m0 4h0m-2-3h0m0-2h0m0 1h0m0 3h0m-2 2h0m0-7h0m0 7h0m0-4h0m-1 3h0m0-6h0m-2 3h0m0 4h0m-1 0h0m0-4h0m0-3h0m-1 6h0m0-3h0m0 3h0m0 0h0m0 0h0m-1-1h0m0-3h0m-1-1h0m-3 1h0m0 0h0m-3 1h0m-1-2h0m0 5h0m-1-5h0m0 3h0m-2 1h0m-1 0h0m0 0h0m-2-3h0m0 5h0m-1-4h0m-1-2h0m-2 1h0m0-1h0m-7 4h0m-1 1h0m-3-1h0m-7 1h0m-22-1h0m-7-6h0m11 15h0m12-3h0m7 2h0m7-2h0m6 1h0m0 1h0m0-1h0m1-1h0m5 1h0m1 2h0m0-6h0m4 7h0m0-6h0m2-1h0m0 0h0m1 5h0m1-3h0m2 2h0m0 1h0m1-2h0m1 3h0m2 1h0m0-4h0m1 0h0m0-1h0m0-2h0m1 6h0m3-7h0m1 5h0m1-1h0m0 1h0m0-3h0m1-1h0m0 3h0m0 1h0m1-2h0m1 5h0m0-2h0m1-3h0m0 3h0m0-5h0m1 0h0m0 4h0m1 0h0m0-1h0m1 2h0m0-4h0m0 3h0m1 0h0m0-2h0m1 0h0m0 1h0m0 3h0m0-1h0m0-1h0m1 1h0m0 1h0m0-5h0m1-1h0m0 4h0m0-2h0m0-2h0m1 3h0m1 2h0m1-4h0m0 1h0m0-1h0m1 4h0m1-3h0m1 3h0m0-5h0m0 5h0m1 2h0m0-1h0m2-1h0m0 0h0m1 0h0m2-4h0m1 3h0m1-2h0m0 2h0m1-3h0m0-2h0m1 7h0m2-7h0m1 8h0m1-4h0m1-1h0m1 4h0m3-1h0m0-6h0m2 3h0m2-1h0m2-1h0m1 5h0m9-2h0m4 3h0m5 3h0m-12 0h0m-6 5h0m-3-6h0m-1 1h0m-2 0h0m-5 3h0m-1 0h0m-1-4h0m-2 6h0m0-5h0m-1 3h0m-1-2h0m-1 0h0m-1 0h0m-1-1h0m0 2h0m-3 1h0m-1-1h0m-1-3h0m0 4h0m-1-2h0m0 0h0m-1 0h0m0-1h0m-2-1h0m-2-1h0m-1 7h0m0 0h0m-1-2h0m-1-2h0m0-3h0m-1 8h0m-1-5h0m0 1h0m-1 1h0m0-4h0m0 7h0m-1-7h0m0 4h0m0-4h0m-1 4h0m-1 1h0m0-5h0m-2-1h0m-1 5h0m0 3h0m-1-4h0m-1 3h0m-1-1h0m0-4h0m-1 6h0m-1-4h0m-1 1h0m-1-3h0m-1 2h0m-2-3h0m0 1h0m0-1h0m-3 4h0m-1-3h0m0 3h0m0-4h0m0 1h0m-1 3h0m0-4h0m-1 5h0m0-5h0m-1-1h0m0 1h0m-1 5h0m0-6h0m-5 3h0m-6-1h0m-1-2h0m-3 2h0m-2 0h0m-18 5h0m18 3h0m19 1h0m4-2h0m1-1h0m0 3h0m0 2h0m1-1h0m1-3h0m1 4h0m0 1h0m1-3h0m0 0h0m1-2h0m0 2h0m1-1h0m1 1h0m0-1h0m0 1h0m1-2h0m1 1h0m0 0h0m1 2h0m2 3h0m0-1h0m0-3h0m1-2h0m0 3h0m1-2h0m0 0h0m2-2h0m0 6h0m1-3h0m1 4h0m0-2h0m1-4h0m1 3h0m0 1h0m2-3h0m0-2h0m1 5h0m0-3h0m3 0h0m1 3h0m0 0h0m0 1h0m1-3h0m2 4h0m1-2h0m0-1h0m2 1h0m0 0h0m1-1h0m1 0h0m1-1h0m1 5h0m0-6h0m1 4h0m0 0h0m0-6h0m1 7h0m4-1h0m0-6h0m2 2h0m0-2h0m1 3h0m2 3h0m3-1h0m0-5h0m0 3h0m3-1h0m2 2h0m2 3h0m1 0h0m3-5h0m3 0h0m4-1h0m-5 12h0m-1-3h0m0 6h0m-4-7h0m-4-1h0m0 1h0m-2 6h0m-8-5h0m-2 3h0m0-2h0m-4-1h0m-1-1h0m-1 2h0m0 0h0m-1 1h0m-3 2h0m-2-6h0m0 0h0m0 4h0m-2-1h0m-2-2h0m0 4h0m-1 0h0m-1-3h0m0 5h0m0-5h0m-1 4h0m0-6h0m0 5h0m-3-4h0m-3 5h0m-1-3h0m-1 4h0m0 1h0m0-6h0m-2 3h0m-1-4h0m-2 0h0m-2 0h0m-2 1h0m-4 5h0m-1-1h0m-1-2h0m-1-1h0m-2-2h0m-2 7h0m-2 0h0m-2-6h0m-2 3h0m-1-3h0m-1-1h0m-2 5h0m-1-4h0m-11 7h0m3 3h0m6-1h0m11-2h0m3 0h0m0 5h0m7 1h0m1-6h0m1 5h0m3-3h0m0-3h0m1 4h0m2 4h0m0-6h0m1 5h0m4-5h0m2 5h0m2-5h0m1 0h0m2 3h0m0 0h0m0-2h0m0 2h0m6 2h0m0-1h0m1-5h0m0 2h0m2-2h0m3 0h0m1 3h0m1 2h0m0-1h0m13 2h0m2-1h0m6 2h0m0-6h0m2 5h0m-2 2h0m-11 2h0m-2 0h0m-4 2h0m-12-1h0m-2 0h0m-2 2h0m-10-4h0m-3 2h0m-2 0h0m-9-4h0m-4 3h0m-25-2h0m33 8h0m5 0h0m15 1h0m0-1h0m31 2h0m12 1h0m-40 7h0m-11 3h0m39 12h0m-15 9h0m-175 35h0m1-5h0m1 1h0m9 1h0m9 3h0m2 0h0m2 2h0m2-1h0m0-1h0m6-2h0m2 2h0m11 0h0m7 0h0m1-3h0m1 3h0m5 0h0m2-1h0m10-2h0m18 2h0m12 1h0m-6 5h0m-2 5h0m-5-4h0m-3-3h0m-6 5h0m-1-3h0m0 5h0m-1 0h0m-1-3h0m-4-3h0m-1 5h0m-2 0h0m-1-2h0m-1 2h0m-4-2h0m-1 3h0m-1 0h0m0-3h0m-2 2h0m0-4h0m-1 3h0m-1-2h0m0 3h0m0-1h0m-8-4h0m-1-1h0m0 1h0m-1 1h0m-2-3h0m0 0h0m-3 7h0m-1-3h0m-2-1h0m-2 0h0m-3 2h0m-6-2h0m-1-3h0m-2 7h0m0-1h0m0-4h0m-1 2h0m-2-2h0m0 5h0m-2 1h0m0-1h0m-1-5h0m-1 6h0m0-7h0m0 2h0m-3 1h0m-1 2h0m0-2h0m-1 3h0m0 0h0m-1-3h0m0 1h0m0-4h0m-6 4h0m-1-5h0m-2 6h0m-3-3h0m1 7h0m1 3h0m2-2h0m2 1h0m1 4h0m1-4h0m1 4h0m1-4h0m0 4h0m1 0h0m2-7h0m0 3h0m4-1h0m1 0h0m1 1h0m0-1h0m1 2h0m0 2h0m1 0h0m0-4h0m1 3h0m1-3h0m0 2h0m2 3h0m0-8h0m1 7h0m0-4h0m1 2h0m0-2h0m0 1h0m1 2h0m0 1h0m0-1h0m1-2h0m0-3h0m1 0h0m0 7h0m0-5h0m1 4h0m0-6h0m0-1h0m0 4h0m1 0h0m0 3h0m2-1h0m1-4h0m1 4h0m0-5h0m1 0h0m0 2h0m0 1h0m1 0h0m1-2h0m1-1h0m0 0h0m1 7h0m0-4h0m0 3h0m0-3h0m0-2h0m0-2h0m1 6h0m0-1h0m0-3h0m2 3h0m0 2h0m1-4h0m1-2h0m1 0h0m0 2h0m0 2h0m1 2h0m1-5h0m0 2h0m2 0h0m1-3h0m2 6h0m0-4h0m1-2h0m0 1h0m1 5h0m1-4h0m0-2h0m0 1h0m1 2h0m0 1h0m0-1h0m1-4h0m0 7h0m1-4h0m0 3h0m1 1h0m0-6h0m1 4h0m1-5h0m0 8h0m0-7h0m0-1h0m1 3h0m0-2h0m0 6h0m1 1h0m2-1h0m0-6h0m0 3h0m1 4h0m0-3h0m1-1h0m1 0h0m1-3h0m1 0h0m0 2h0m1-1h0m0 2h0m2 4h0m1-2h0m2 2h0m1-6h0m0 5h0m3-3h0m0-4h0m2 7h0m0 1h0m2-2h0m0 1h0m6-7h0m1 7h0m3 1h0m3-3h0m6 2h0m4-2h0m5 5h0m-2 2h0m-1 0h0m-5 1h0m0-5h0m-3 0h0m-3 6h0m-4 0h0m0-2h0m-6 0h0m0-3h0m-1 6h0m0-7h0m-5 8h0m-1-7h0m-1 3h0m-3 4h0m-2-6h0m-1 2h0m0 0h0m0-2h0m-1 0h0m0 6h0m-2-8h0m-3 6h0m-1-3h0m-2-1h0m0 4h0m-1 2h0m0-8h0m0 2h0m-2 1h0m0 1h0m0 0h0m-1-1h0m0 1h0m0 3h0m-1 1h0m0-1h0m0-5h0m-1 3h0m0 2h0m0-2h0m-1 2h0m-1-2h0m-1-1h0m0-1h0m0 2h0m-2-2h0m0-2h0m-1 2h0m0-1h0m-1-2h0m0 2h0m-1 5h0m-2 0h0m0-6h0m-1 2h0m-1 5h0m0-3h0m0 0h0m-1 0h0m-2-3h0m-1 5h0m-1-6h0m0 3h0m0-3h0m-1 1h0m0 2h0m-1-2h0m0 3h0m0 2h0m-1-6h0m-1 6h0m0-2h0m-1 3h0m0 0h0m-1-6h0m-1 4h0m0-3h0m0-1h0m-1 3h0m0-4h0m0 1h0m-1-1h0m-1 5h0m0-1h0m0-2h0m0 1h0m0-2h0m0 2h0m0 3h0m-1 0h0m-1-1h0m0-3h0m0 4h0m0-3h0m-1-2h0m0-1h0m0 2h0m-1-2h0m0 6h0m0-7h0m0 3h0m-2 0h0m-1 5h0m0 0h0m-1-5h0m0 5h0m-1-6h0m0-1h0m0 3h0m-1 0h0m-1 1h0m0 2h0m0-6h0m-1 1h0m0 0h0m0-1h0m-1 3h0m0 4h0m0-4h0m-1 4h0m0-4h0m0-1h0m0 4h0m0-4h0m-1-2h0m-1 5h0m0-2h0m0 0h0m0 0h0m0-2h0m-1 2h0m0 4h0m-3-4h0m0-4h0m0 5h0m-1 0h0m0-1h0m0-4h0m-2 5h0m0 0h0m0 2h0m-1 1h0m-1-6h0m0 2h0m0 3h0m-1-6h0m-1 4h0m0-1h0m0 2h0m-6-2h0m-1 7h0m4 1h0m2 0h0m2 1h0m1 0h0m0-2h0m1 0h0m0-2h0m0 0h0m3 2h0m2-2h0m0 0h0m3 6h0m2-5h0m1 1h0m1 0h0m2-1h0m0-2h0m0 1h0m1 7h0m1-7h0m0 1h0m2 1h0m0 4h0m1-1h0m0-1h0m2 0h0m0 1h0m1 1h0m1-4h0m0 1h0m0-1h0m1-2h0m0 6h0m0-4h0m1 1h0m0 0h0m1 2h0m0-4h0m0-2h0m1 1h0m0 5h0m1 1h0m0-5h0m1-1h0m0 5h0m1 0h0m0-2h0m1 0h0m2-3h0m3 3h0m0 2h0m2-4h0m1 3h0m0 1h0m1-5h0m1 0h0m1 7h0m3-2h0m0-1h0m0 1h0m0-3h0m1 4h0m0 1h0m2-6h0m0 5h0m1-3h0m0 2h0m0-1h0m3-4h0m1 5h0m0-5h0m0 4h0m1-4h0m0 4h0m1-5h0m1 4h0m2-1h0m0-1h0m1 4h0m3-3h0m3 3h0m0-5h0m2 1h0m1-2h0m2 0h0m1 5h0m0-1h0m1 1h0m5-1h0m0-1h0m19-3h0m2 4h0m10 1h0m6-2h0m17-1h0m-52 6h0m-4 1h0m-8 2h0m-1-2h0m-2-1h0m-5 5h0m-2 1h0m-3-4h0m-2-1h0m-1 1h0m-3-1h0m-1 2h0m-1-1h0m-6 0h0m-3 6h0m-1-7h0m-4 3h0m0 0h0m-1 1h0m-13-5h0m-2 1h0m-4 1h0m0 0h0m-3 4h0m0-4h0m-3 5h0m-1-5h0m-1 2h0m-3 1h0m-5-1h0m-2-3h0m0-1h0m30 9h0m27 0h0m11 0h0m-63 10h0" stroke="#000" stroke-opacity=".45" stroke-width="2.8" stroke-linecap="round" fill="none"/>
<path transform="scale(.25)" d="M1144 1060h0m38 7h0m-2 0h0m-27 5h0m-40 6h0m25 2h0m1-8h0m15 8h0m45 7h0m-5-2h0m-7 3h0m-5-4h0m-17 1h0m-9-1h0m-9-3h0m0 1h0m-24 4h0m14 5h0m1 1h0m2-1h0m0-1h0m7-2h0m7 6h0m13-4h0m7 4h0m0-4h0m10 3h0m4 2h0m-3 6h0m-8-2h0m0 1h0m-6 3h0m-7 1h0m-2-1h0m-2 0h0m-5-2h0m-1-4h0m-3 4h0m-18-2h0m-2 1h0m-7 2h0m-15-2h0m-3 3h0m-18-2h0m0 9h0m27-6h0m2 6h0m3 0h0m4-2h0m20-2h0m2 0h0m4 3h0m0-1h0m2 2h0m3-1h0m8-4h0m1 5h0m4 1h0m2-3h0m5-1h0m2 4h0m10-2h0m7 3h0m29 3h0m-22 4h0m-21-4h0m-8 1h0m0-1h0m-7-2h0m0 6h0m-2 1h0m-5 0h0m-1-3h0m-9 2h0m-5-5h0m-3 3h0m-3-1h0m-1 2h0m-4-4h0m0-1h0m-4 4h0m-6 2h0m-2-5h0m-3 2h0m-2 4h0m-7-7h0m-1 2h0m0-1h0m-3 5h0m-13-4h0m-4-1h0m-18 0h0m-6 1h0m-4 10h0m3-3h0m20 5h0m3-5h0m3 1h0m5 2h0m2-2h0m3-3h0m4 5h0m3 2h0m5-3h0m5-3h0m0-1h0m1 4h0m2 1h0m3 2h0m4-3h0m4-2h0m1 0h0m2 3h0m1 1h0m3-2h0m1 1h0m4 1h0m2-6h0m3 5h0m2 0h0m1-1h0m6-3h0m15-1h0m2 7h0m9-7h0m23 0h0m2 5h0m-6 8h0m-8 0h0m-5-3h0m-6 4h0m-4-3h0m-8-1h0m-5-2h0m-3 4h0m0 2h0m-2-2h0m-2-3h0m-1 5h0m0 2h0m-1-6h0m-1 3h0m-1-5h0m0 8h0m-1-7h0m0 3h0m-1 1h0m-1-5h0m-1 0h0m0 2h0m-2 5h0m-2-4h0m0 2h0m-1-1h0m-5 2h0m0-3h0m-2-1h0m0 4h0m-2 1h0m-1-6h0m0 1h0m-2 2h0m-3 1h0m-3-1h0m-2 0h0m0-3h0m-1 1h0m0 3h0m0-4h0m-3 4h0m-2-2h0m-1 5h0m-1-8h0m-3 2h0m-3 1h0m-2-3h0m-1 1h0m-1 4h0m-1 1h0m-5-2h0m-5-1h0m-4 4h0m-6-2h0m-2 2h0m-3-1h0m0-3h0m-48 2h0m17 6h0m13 0h0m15 1h0m8 3h0m2-7h0m1 7h0m3-6h0m7 3h0m1 1h0m1 3h0m1-3h0m1-4h0m2 7h0m1 0h0m0-3h0m2-3h0m5 4h0m7-1h0m1 0h0m1 1h0m0-1h0m2 2h0m2-1h0m1-4h0m0 3h0m1 2h0m0-6h0m3 4h0m4-3h0m2 1h0m1 0h0m0-1h0m1-2h0m10 8h0m2-6h0m4 4h0m2-4h0m1-1h0m0 4h0m0 2h0m1-5h0m4 1h0m3 1h0m2 2h0m2 0h0m0-4h0m2 4h0m2 0h0m4 2h0m4-8h0m1 6h0m14-3h0m0-2h0m5 0h0m6 2h0m9 10h0m-27 0h0m-4-3h0m-7 0h0m-3 4h0m-13-3h0m0 3h0m-1-4h0m-3-1h0m-1 3h0m-2-2h0m-1 4h0m-1 2h0m-1-3h0m-1 0h0m-1-1h0m-4 0h0m-2-3h0m-1 2h0m-2 3h0m0 1h0m-2-1h0m-2-2h0m-2 2h0m-1 2h0m-1-7h0m0 4h0m-2-5h0m-1 6h0m0-6h0m-1 2h0m0 5h0m-3-3h0m0-1h0m-2-1h0m-4 2h0m0-1h0m0 3h0m-2 0h0m-1 2h0m-3-8h0m0 7h0m-1-3h0m-2 1h0m-1-4h0m-1 0h0m-2 6h0m-2-6h0m-2 0h0m-1 2h0m-2-1h0m-1-1h0m-5 0h0m-3 2h0m-18-1h0m-12 0h0m-23 2h0m-7 9h0m11 2h0m7-2h0m3-3h0m4 5h0m6-4h0m10 1h0m3 1h0m1 2h0m3-1h0m4 1h0m8-5h0m2 4h0m6-5h0m2-1h0m1 0h0m4 2h0m1-1h0m1-1h0m1 5h0m0 2h0m1-4h0m3 0h0m2-3h0m0 5h0m0-2h0m1 0h0m1 5h0m0-2h0m1-2h0m2-1h0m0-3h0m0 7h0m2-3h0m1-3h0m0 3h0m1 0h0m0 3h0m1-5h0m0 2h0m1 0h0m0 1h0m1-3h0m2 1h0m0 1h0m2 2h0m1-1h0m1-4h0m0 1h0m3-1h0m1 5h0m1-1h0m3 1h0m2-6h0m1 6h0m0 0h0m2-2h0m0 2h0m0-4h0m3-1h0m7-1h0m6 7h0m0-7h0m17 6h0m1-4h0m1 2h0m5 0h0m3 4h0m15 8h0m-6-1h0m-23-7h0m-2 2h0m0 4h0m-11-1h0m-7-3h0m0 4h0m-4-1h0m-3 1h0m-3-4h0m0 6h0m-1-4h0m-1 2h0m0-1h0m-2 3h0m-3-7h0m0 3h0m-6 3h0m-1 0h0m0-6h0m-1 6h0m0-1h0m0 0h0m-3-1h0m-1-4h0m-1 6h0m-1-4h0m0 3h0m-1-5h0m-2 7h0m-4-6h0m-3 0h0m-1-2h0m-1 2h0m-1 4h0m-1 0h0m-3-3h0m-1 3h0m0-4h0m0 5h0m-1-2h0m0-4h0m-1 1h0m-1 2h0m0-3h0m-3 3h0m-2 2h0m0 0h0m-2-6h0m0 5h0m-1-1h0m-5 4h0m-2-4h0m0 3h0m-1-3h0m-1 0h0m0-2h0m0 0h0m-4 1h0m-5-1h0m0 6h0m-1-8h0m-1 8h0m-5-3h0m-5 0h0m-10 1h0m-5-5h0m-16 13h0m25 0h0m8-6h0m5 1h0m5 6h0m3-1h0m4-1h0m2 1h0m2-1h0m0-3h0m1-2h0m3 6h0m0-1h0m3-4h0m2 0h0m1 3h0m0 0h0m2-1h0m2 5h0m2-6h0m1 3h0m2 2h0m1-6h0m2 0h0m1 4h0m1-2h0m1 5h0m0-5h0m0 2h0m1 0h0m3 1h0m0-4h0m1 1h0m0 3h0m3 0h0m0 2h0m2-6h0m0 4h0m0 2h0m1 0h0m1 0h0m4-1h0m4-5h0m5 0h0m1 3h0m5-2h0m2-1h0m0-1h0m0 3h0m1-3h0m1 2h0m2-1h0m1 2h0m5 3h0m0-2h0m0-5h0m5 1h0m0 2h0m0 2h0m1-1h0m12-1h0m19 2h0m27 5h0m-44 3h0m-4-4h0m-1-1h0m-2 5h0m-2-4h0m-4 0h0m0 7h0m-2-7h0m-4 6h0m-1-5h0m0 5h0m-6 1h0m-5-3h0m-2 0h0m-1-4h0m-3 3h0m-3-4h0m-1 4h0m0 1h0m-5-3h0m-1 5h0m-3-3h0m-1-1h0m-7-1h0m-4 3h0m-4-2h0m0 1h0m-7 3h0m-1-1h0m-1-3h0m-2 1h0m-1-2h0m-1 3h0m-3-3h0m-4 3h0m-1 3h0m0-5h0m-3-1h0m-1 4h0m-1 0h0m-2-1h0m0 0h0m-1-1h0m-3-3h0m-3 3h0m-2-3h0m-2 4h0m-20-2h0m-8-2h0m-10 9h0m11 6h0m6-4h0m3-1h0m2-3h0m4 1h0m1 1h0m8 3h0m0-1h0m4 3h0m3-5h0m5-1h0m1 0h0m5 6h0m0-2h0m1-2h0m1 0h0m1-1h0m8-2h0m1 6h0m0-2h0m1-3h0m1 4h0m0 2h0m1-5h0m1 1h0m1 2h0m2-5h0m0 2h0m1 4h0m4-2h0m0 1h0m1-3h0m1 6h0m5-2h0m2-2h0m1 0h0m1-1h0m3-3h0m1 7h0m0-4h0m2 3h0m1-6h0m0 7h0m0-6h0m3 7h0m5-3h0m2-5h0m1 1h0m0 2h0m0 0h0m2-2h0m0 3h0m7 0h0m0 3h0m13-1h0m8 2h0m17-4h0m1 3h0m-25 6h0m0 1h0m-13 0h0m-2-2h0m-1 2h0m-2-6h0m-3 1h0m0 3h0m-3-2h0m-4 3h0m-3-5h0m-1 1h0m0 0h0m-4 4h0m-2 1h0m-2 1h0m-3 0h0m-1-3h0m-4-1h0m-2 1h0m-2-1h0m-2 0h0m-2-2h0m-6 7h0m-1-6h0m-8 3h0m0-1h0m-1-2h0m-1 5h0m0-3h0m-3 3h0m-1-4h0m-1 2h0m-1 0h0m-1-5h0m-1 5h0m-1-3h0m0 1h0m-2 5h0m-3-2h0m-12-6h0m-6 1h0m-3 5h0m-7-5h0m-6 5h0m-6 1h0m8 5h0m5-2h0m4 5h0m3-3h0m1-1h0m7-3h0m7 4h0m5 3h0m9-6h0m8 4h0m1 0h0m0-2h0m7 1h0m0 0h0m2 0h0m0-2h0m1-1h0m2 2h0m4-1h0m3 6h0m2-7h0m4 1h0m4 6h0m5-6h0m1 1h0m9 0h0m2 1h0m7 4h0m0-5h0m3-2h0m24 6h0m8-4h0m2 3h0m1-6h0m-49 13h0m-1-3h0m-11 4h0m-2-1h0m-10 1h0m-2-3h0m-4 3h0m-1 1h0m-5 0h0m-1-1h0m-9-5h0m0 1h0m-1 0h0m-13 1h0m-2 3h0m-4 0h0m-7-1h0m-3-1h0m-7 3h0m-11 1h0m-11 2h0m14-1h0m18 3h0m3 2h0m25-4h0m2 0h0m3 0h0m7 3h0m6-1h0m2-2h0m1 0h0m3 0h0m3 3h0m10 0h0m3 2h0m22-2h0m18-4h0m-34 8h0m-8 5h0m-14 0h0m0-1h0m-3-1h0m-1-4h0m-11 6h0m-13-1h0m-18-1h0m-3-1h0m-1 0h0m-17-1h0m-18 9h0m26 2h0m4-1h0m6 2h0m12 1h0m12-5h0m4 3h0m29-2h0m20 2h0m1 0h0m1 0h0m1 0h0m1-2h0m19-1h0m-7 14h0m-59-5h0m-7-2h0m-64 2h0m3 6h0m6 3h0m41 4h0m3-7h0m35-1h0m-77 15h0m59 17h0" stroke="#000" stroke-opacity=".3" stroke-width="2.8" stroke-linecap="round" fill="none"/>
</g>
<line x1="286.1" y1="264.0" x2="286.1" y2="328.4" stroke="#3a3a3a" stroke-width=".9"/>
<line x1="254.6" y1="307.3" x2="318.7" y2="307.3" stroke="#3a3a3a" stroke-width=".9"/>
<text x="256.1" y="271.6" font-size="5" fill="#222">17.1</text>
<text x="312.2" y="271.6" font-size="5" fill="#222" text-anchor="end">45.5</text>
<text x="256.1" y="324.59999999999997" font-size="5" fill="#222">37.3</text>
<text x="312.2" y="324.59999999999997" font-size="5" fill="#222" text-anchor="end">0.072</text>
<text x="286.6" y="336.1" font-size="6.6" fill="#222" text-anchor="middle" textLength="16.5" lengthAdjust="spacingAndGlyphs">SCD1</text>
<rect x="336.0" y="263.8" width="64.2" height="64.6" fill="#fff" stroke="#b0b0b0" stroke-width="1"/>
<clipPath id="c4"><rect x="336.5" y="264.3" width="63.2" height="63.6"/></clipPath>
<g clip-path="url(#c4)">
<ellipse cx="377" cy="280.5" rx="8.80" ry="9.90" transform="rotate(10 377 280.5)" fill="url(#g4_9)"/>
<ellipse cx="349.5" cy="314.8" rx="14.30" ry="5.28" transform="rotate(0 349.5 314.8)" fill="url(#g4_10)"/>
<path transform="scale(.25)" d="M1508 1063h0m-9 16h0m9 1h0m4-1h0m1-2h0m1 1h0m11-1h0m17 2h0m-9 9h0m-20-7h0m-2 1h0m-4 5h0m-8-1h0m0-1h0m-2-4h0m-1 1h0m-8 5h0m-18-1h0m-2 7h0m20 0h0m1 3h0m0 0h0m3-1h0m2-4h0m3 2h0m0 1h0m1-5h0m1 2h0m3 1h0m3 1h0m0 0h0m0-3h0m1 1h0m1 3h0m3-2h0m1 3h0m0-4h0m3-2h0m1-1h0m4 3h0m2 0h0m3-2h0m0 1h0m4 3h0m3 1h0m3-4h0m10 10h0m-5-1h0m-1 1h0m-5 4h0m-1-7h0m-1 6h0m-1-6h0m-1 0h0m-3-1h0m-1 2h0m-1 6h0m0-1h0m0-2h0m-1-1h0m-1 0h0m0 0h0m0 0h0m-2 0h0m0-1h0m-2-3h0m-1 5h0m-1-2h0m0-3h0m0 7h0m0 1h0m0-6h0m0 1h0m0 3h0m-2 1h0m-2 0h0m0-3h0m0-3h0m-2 4h0m0-1h0m-1-2h0m0 5h0m0-3h0m-1 0h0m-1 2h0m-1-3h0m0 0h0m-1 3h0m-1 0h0m-2-1h0m-2 1h0m0-2h0m-1 3h0m0-3h0m-1-3h0m-2 5h0m-1-4h0m-3-1h0m-2 4h0m-1-1h0m-1-3h0m-3 0h0m-1 5h0m-4-3h0m0-1h0m-5 9h0m1 4h0m5-2h0m3-1h0m1-4h0m3 7h0m1-6h0m2 4h0m0-5h0m2 5h0m1 1h0m0 1h0m0-7h0m0 2h0m1 1h0m0 1h0m0 0h0m1-3h0m1 6h0m0-2h0m0-1h0m1 1h0m0-1h0m0 4h0m3-3h0m0 2h0m0-2h0m1 0h0m0 1h0m0-1h0m1-1h0m1 1h0m0-3h0m1 5h0m0-5h0m0 4h0m0-4h0m0 5h0m1-5h0m0 3h0m1 2h0m0-3h0m0-1h0m1 0h0m2-3h0m0 2h0m0-1h0m1 5h0m2 1h0m0-3h0m1 0h0m1 2h0m1 1h0m0-2h0m0-2h0m0 3h0m1 0h0m0 1h0m0-5h0m1 3h0m0-2h0m0 1h0m0 3h0m1-7h0m1 1h0m0 3h0m1 3h0m0 0h0m0-3h0m1-3h0m1 5h0m1 2h0m0-2h0m1-5h0m3 5h0m3-4h0m4 6h0m4-4h0m5-3h0m14 14h0m-16-1h0m-1 2h0m-3-5h0m-4-1h0m0 2h0m-3 4h0m0-7h0m-1-1h0m-1 8h0m-1-5h0m-1 3h0m0 1h0m0-5h0m-3 4h0m0-6h0m0 5h0m0-5h0m0 1h0m-1 0h0m-1 3h0m0-3h0m-2 1h0m0 5h0m0-2h0m0-2h0m0 4h0m-1-2h0m0 0h0m0 2h0m-1-7h0m0 6h0m0-2h0m-1 2h0m-2 2h0m-2-7h0m0 2h0m0 5h0m-1-7h0m-1 4h0m0-1h0m-1-2h0m0-1h0m0 5h0m0-1h0m0-1h0m0-4h0m-1 1h0m-1 5h0m0-4h0m0 6h0m0-3h0m-1 1h0m-2 0h0m-1-2h0m0 0h0m0 4h0m-1-2h0m-1-4h0m0-1h0m0 4h0m0-2h0m-1-3h0m0 6h0m0-6h0m-1 3h0m0-2h0m0 1h0m0 4h0m-1-4h0m-1 1h0m0 2h0m-1-2h0m0 5h0m0-5h0m-2 0h0m0 0h0m0 2h0m0 2h0m-1 1h0m-1-1h0m0-2h0m0 2h0m0-3h0m-1-3h0m0 5h0m-2-5h0m0 7h0m-3 0h0m0-6h0m-1 1h0m0 5h0m0-6h0m-1 1h0m-1 2h0m-2-5h0m-3 1h0m-1 0h0m-2 3h0m-2 3h0m-11 9h0m2-1h0m1-4h0m2 3h0m10-2h0m3 0h0m1 3h0m2-5h0m4 3h0m0 2h0m1-4h0m0-2h0m1 1h0m0 5h0m1 0h0m0-4h0m0 1h0m1 1h0m0 0h0m0-4h0m1 4h0m0-1h0m0-3h0m1 1h0m0 5h0m2-7h0m0 6h0m0-2h0m0-3h0m1 7h0m1-4h0m0 1h0m0-1h0m0-4h0m1 3h0m1 5h0m0-7h0m1 4h0m0 0h0m0 3h0m1-5h0m0 2h0m1-4h0m0 2h0m1 1h0m0 3h0m1-4h0m0-2h0m0 2h0m1 5h0m1-6h0m0 3h0m0 1h0m0-5h0m0 1h0m1 5h0m0-3h0m1 1h0m1-3h0m0-2h0m1 1h0m0 1h0m1 4h0m0 1h0m0-5h0m1 0h0m0 3h0m0 3h0m0-3h0m1-4h0m1 1h0m0 4h0m0 1h0m0-2h0m1-2h0m0 1h0m1 3h0m0-7h0m1 4h0m1 2h0m1-5h0m1 6h0m3-3h0m0-3h0m2 0h0m0 4h0m1-4h0m1 5h0m2 1h0m0-1h0m0-5h0m1 1h0m2 1h0m0 1h0m1-4h0m2 4h0m6 1h0m0-3h0m4 0h0m-6 13h0m-4-2h0m0-1h0m0-3h0m-5 5h0m-1-6h0m0 2h0m0 3h0m0-4h0m0 2h0m-1 3h0m0 2h0m-1-8h0m0 7h0m0-4h0m-2 4h0m-1-2h0m-3-2h0m0 1h0m-2-1h0m-1-1h0m0 4h0m-1-6h0m0 6h0m0-3h0m-1 2h0m0-4h0m0 4h0m-1-4h0m0 2h0m-1-3h0m0 3h0m-2 3h0m-2-4h0m-1 5h0m0-1h0m0-4h0m0 0h0m-1 5h0m0-2h0m0 0h0m-1 2h0m0-5h0m0 4h0m-1-1h0m-1-4h0m-1 0h0m0 2h0m0 3h0m-2-4h0m-1 1h0m0 1h0m-1 0h0m0 0h0m0-1h0m0-3h0m-1 5h0m0 0h0m0 3h0m0-3h0m0 3h0m-1-4h0m-1-1h0m0 1h0m0-2h0m-2 1h0m-1-2h0m0 1h0m-1-2h0m0 5h0m-1 1h0m0-6h0m-3 7h0m0-4h0m-2 2h0m-1 2h0m0-1h0m-2 1h0m-2-3h0m0-3h0m-3 2h0m-1 0h0m0-1h0m-2 3h0m-6 0h0m-2-1h0m11 6h0m3 4h0m7-1h0m1-2h0m2 4h0m2 1h0m1-7h0m0-1h0m0 6h0m1 2h0m0-2h0m1-3h0m0 2h0m1 2h0m1-2h0m1-3h0m0 4h0m1 0h0m0-2h0m1 0h0m0-2h0m1 1h0m0-1h0m0 5h0m1-6h0m0 0h0m0 3h0m1-3h0m0 3h0m0 2h0m1 0h0m1 2h0m0 0h0m1-4h0m0 0h0m1-3h0m0 7h0m1-7h0m0 6h0m1-1h0m0-1h0m1-5h0m0 2h0m1 3h0m2-4h0m0 1h0m1 3h0m0 3h0m1-5h0m2 2h0m0 1h0m1-3h0m0 3h0m0-3h0m1 2h0m1 3h0m0-3h0m0-2h0m1-1h0m1 2h0m9 1h0m1-1h0m1-4h0m1 15h0m-7-7h0m0 5h0m-5-2h0m0 0h0m0 4h0m-2-3h0m0 4h0m0-2h0m-2-3h0m-1 3h0m0 1h0m-1 0h0m-2-4h0m0 0h0m-1-3h0m0 4h0m-3-4h0m-1 0h0m-1 3h0m-2 4h0m0-5h0m0 0h0m-1-2h0m-1 7h0m-3-3h0m-2 3h0m0-6h0m0 0h0m-1 2h0m0-1h0m0-1h0m0 7h0m-1-6h0m-2 2h0m-3-2h0m-2 4h0m0-5h0m-4 5h0m0-4h0m-1 2h0m0 1h0m-1 0h0m-1 0h0m-3 0h0m-31 8h0m45 2h0m2 0h0m3-6h0m4 7h0m8-1h0m4-3h0m2 4h0m6-5h0m0-2h0m4 1h0m1 3h0m14 3h0m-25 4h0m-1-4h0m-19 1h0m0 4h0m-1-3h0m-1 4h0m-6 1h0m2 4h0m26 1h0m16-1h0m-173 68h0m31-4h0m19 3h0m34 7h0m-24-2h0m-6 4h0m-3-5h0m-3 1h0m0 2h0m-2-4h0m0 7h0m0-7h0m0 2h0m-1 5h0m-1-2h0m-1-2h0m-1 0h0m-2-1h0m-8 4h0m-1 1h0m-1-2h0m-3 1h0m-3-6h0m0 0h0m-6 6h0m0 0h0m-1-2h0m0-2h0m-6 2h0m-1-1h0m-4 0h0m-3 0h0m-1 2h0m-9 0h0m-4 8h0m8-1h0m7 2h0m2-5h0m3 5h0m2-2h0m0 0h0m0 3h0m0 0h0m1-7h0m6 4h0m0-2h0m0 5h0m2-2h0m1-5h0m1 2h0m1 2h0m3-4h0m0 2h0m1-2h0m0 4h0m1-4h0m0 0h0m0 5h0m0-6h0m1 6h0m1-1h0m1 2h0m3-6h0m0 6h0m0-6h0m1 3h0m1 0h0m0-3h0m1-1h0m0 0h0m1 5h0m1 0h0m2-5h0m6 7h0m1-4h0m0 0h0m0 4h0m1 0h0m0 0h0m0-2h0m0-2h0m1 2h0m2 1h0m0-1h0m4-3h0m0 1h0m1-2h0m0-1h0m1 2h0m0 1h0m3 3h0m2-1h0m1-1h0m1 2h0m0-6h0m2 1h0m1 0h0m4 5h0m4-4h0m1 0h0m2 5h0m3 0h0m30 7h0m-22 2h0m-6-1h0m-5-6h0m-3 6h0m-4-6h0m-1 0h0m-2 6h0m0 1h0m-7-2h0m-1-5h0m0 6h0m-1-3h0m-3-2h0m0 2h0m-1 1h0m-1 1h0m-3 0h0m0-1h0m0-1h0m-1 3h0m-3-1h0m-3-6h0m-1 1h0m0 1h0m0 5h0m-1-6h0m0 1h0m-1 1h0m-1-1h0m0 2h0m0 4h0m0-7h0m-1 5h0m0-2h0m-1 4h0m0-6h0m0 2h0m-2-1h0m-1-2h0m-1 4h0m0-2h0m-1 4h0m0-4h0m-1 4h0m0-6h0m-1 5h0m-1-4h0m-1 5h0m-1-3h0m-3 0h0m0 0h0m-1 4h0m0-4h0m0-2h0m-2 6h0m0-7h0m-1 2h0m-3 3h0m0 1h0m-1 0h0m-1-4h0m0 4h0m-4-3h0m-1-3h0m-1 0h0m-1 4h0m-1-3h0m0 5h0m-1-2h0m-1 3h0m0-4h0m0-4h0m-1 0h0m0 1h0m0 6h0m-2 1h0m-1-7h0m0-1h0m-1 1h0m-1 4h0m0 0h0m-1-4h0m-1 3h0m-1-3h0m-1 7h0m-6-4h0m-3 0h0m-3 6h0m4-1h0m4 6h0m2-3h0m1 2h0m0 1h0m4-6h0m1 7h0m5-6h0m3 0h0m3 1h0m0 0h0m0 5h0m1-5h0m0 0h0m1 4h0m1-3h0m1 1h0m0-5h0m2 3h0m2-2h0m1 1h0m1 5h0m1-3h0m1-3h0m1 3h0m1-2h0m1-1h0m3 1h0m0 3h0m0-4h0m2 4h0m1 1h0m0-4h0m1 4h0m1-4h0m1 5h0m1-2h0m1-4h0m0 2h0m1-1h0m2 4h0m0 0h0m1-2h0m0-4h0m0 4h0m0-2h0m1 3h0m2-3h0m2 0h0m1 1h0m3 0h0m5-2h0m0 4h0m0-4h0m2 2h0m0 1h0m1-3h0m0 6h0m4 1h0m1-5h0m0 2h0m0-4h0m1 3h0m1-4h0m4 0h0m1 5h0m4-3h0m0 4h0m20-1h0m-15 6h0m-1-2h0m-1 2h0m-18-1h0m-1 1h0m-3-1h0m0 1h0m-1-2h0m-5 6h0m-2-5h0m-4-1h0m-5 6h0m-5-3h0m0 0h0m-2 2h0m-4-6h0m-3 1h0m-8 6h0m-1-4h0m-15 0h0m-6 1h0m0-1h0m-5 4h0m11 7h0m14-4h0m27-1h0m19 1h0m16 7h0" stroke="#000" stroke-opacity=".45" stroke-width="2.8" stroke-linecap="round" fill="none"/>
<path transform="scale(.25)" d="M1507 1072h0m-41 2h0m38-1h0m3 5h0m-7 2h0m-14 6h0m-66 7h0m42-3h0m95 10h0m-23 2h0m-5 0h0m-11 1h0m-3-6h0m-21 4h0m-1-1h0m-60 6h0m41 5h0m3-1h0m0 2h0m21-7h0m32 2h0m8 1h0m-38 5h0m-32 4h0m-10 9h0m28-4h0m4-1h0m4 6h0m0 1h0m1-3h0m0-3h0m5 1h0m5 0h0m3-2h0m6 2h0m4 1h0m7 3h0m1-1h0m1-5h0m11-1h0m4 7h0m14 1h0m-1 6h0m-10-6h0m-2 3h0m-5 2h0m-13-1h0m-2-3h0m-15 7h0m-4-1h0m-16-5h0m-6 5h0m-6-5h0m-12 6h0m-47-1h0m6 7h0m23 1h0m6-1h0m1-5h0m5 4h0m9-3h0m5-1h0m8 6h0m9-3h0m0 1h0m4-1h0m6-2h0m1 5h0m3-1h0m1-1h0m4-4h0m1 1h0m12 5h0m3-5h0m1 2h0m1 1h0m12-5h0m4 5h0m8 3h0m3 6h0m-13 1h0m-1-4h0m-2 1h0m0 3h0m-11 0h0m0-4h0m-10 3h0m-8 1h0m-6-3h0m-3 1h0m-4 2h0m-7-4h0m-11-2h0m-6 0h0m-4 6h0m-32-2h0m-6 9h0m11 1h0m4 1h0m0-1h0m10 0h0m4-3h0m5 1h0m2 2h0m2-2h0m2 0h0m1-2h0m0-2h0m2 7h0m2-4h0m5-1h0m1 5h0m0-2h0m1-1h0m5 0h0m0-3h0m1 1h0m1 4h0m3-3h0m2-4h0m1 2h0m2 1h0m1-1h0m0-1h0m1-1h0m4 4h0m5-2h0m1 5h0m2-4h0m0 4h0m0-2h0m4 2h0m6-2h0m3-1h0m0-2h0m1 2h0m4 0h0m4 4h0m2-2h0m6-4h0m2 2h0m3-3h0m3 0h0m1 3h0m2-2h0m37 8h0m-42 3h0m-4-1h0m-7-1h0m-3 2h0m-4-5h0m-4 7h0m-1 0h0m-8-3h0m-1-2h0m-4 1h0m-1-1h0m-3 2h0m-3-2h0m-2 5h0m-2-3h0m-2 0h0m-5-1h0m-4-1h0m-5-1h0m0 2h0m-1-1h0m0 5h0m0 1h0m-4-2h0m-4-6h0m-1 5h0m-2-1h0m-3-2h0m-3 0h0m-1 4h0m-5-4h0m-1 1h0m-6 0h0m0 4h0m0-4h0m-1 1h0m-7 1h0m0-4h0m-3 5h0m-2-1h0m-8-3h0m-12 11h0m0 1h0m2 1h0m23 1h0m3 0h0m8-2h0m4-4h0m1 3h0m5-4h0m0 1h0m2-1h0m2 5h0m4 0h0m2-3h0m1 4h0m5 0h0m0-2h0m6 2h0m8-2h0m1 3h0m7-5h0m6-2h0m2 4h0m1-2h0m4-3h0m4 1h0m8 3h0m9-4h0m8 2h0m6 0h0m1 3h0m7 2h0m2-5h0m9 14h0m-11-5h0m-5-2h0m-10 4h0m-1 0h0m-10 0h0m-13-4h0m0 3h0m-1-1h0m-2 0h0m0 5h0m-14-2h0m0-4h0m-4 5h0m-1-6h0m-1-1h0m0 3h0m-5 4h0m-3-5h0m-3 0h0m-2 3h0m-3 0h0m0 2h0m-2 1h0m-2-7h0m-1 1h0m-5 0h0m0 3h0m-1-4h0m-12 6h0m-2-6h0m-1 6h0m0-4h0m-15-1h0m-18-2h0m-15 7h0m-44-3h0m36 5h0m28 2h0m3-1h0m2 4h0m6 0h0m1-5h0m12 0h0m4 2h0m3 1h0m1 1h0m0-4h0m1 4h0m3-2h0m1 3h0m12-5h0m5 6h0m0 1h0m3-6h0m4 5h0m2-3h0m1 3h0m3-5h0m2 3h0m1 2h0m1 1h0m3 0h0m6-7h0m1 6h0m4-1h0m2-6h0m2 5h0m0 2h0m1 1h0m5-1h0m19-3h0m5-4h0m8 8h0m-4 7h0m-26-4h0m-2 3h0m-17 0h0m-4 0h0m0-1h0m-12-4h0m-4-1h0m-2 3h0m-1-2h0m-6 4h0m-7-3h0m-1-1h0m-1 5h0m-6 0h0m-1-2h0m-14 1h0m-12-3h0m-4 1h0m-2 0h0m-1 0h0m-5-1h0m-38 10h0m30 3h0m5-1h0m3-3h0m7 4h0m9-7h0m6 7h0m3-2h0m1-1h0m0 2h0m3-3h0m10 1h0m2-4h0m5 6h0m0-1h0m2-3h0m0 5h0m2-1h0m0-5h0m0-1h0m6 1h0m0 2h0m0-2h0m3 0h0m14 3h0m3-1h0m15 1h0m10 2h0m1 1h0m1-5h0m11 2h0m13 5h0m-22 2h0m-6 2h0m-5 2h0m-2 0h0m-11-3h0m-1 1h0m-1-5h0m-1 7h0m-5-1h0m-2-4h0m-2 0h0m-1 0h0m-10 4h0m-5-6h0m-4 1h0m-9-1h0m0 5h0m-3-3h0m-2-1h0m-7 3h0m-2 1h0m-17 0h0m-16-4h0m-19 2h0m7 9h0m6-2h0m3 5h0m37-6h0m0 4h0m11-4h0m3 4h0m2 0h0m4 2h0m2-1h0m4 0h0m8-1h0m10 3h0m7 0h0m5-8h0m5 5h0m0-4h0m5 0h0m4 5h0m40-2h0m3 2h0m19-2h0m-23 7h0m-60 2h0m-13 0h0m-15-3h0m0 1h0m-26 3h0m-2-4h0m-10-1h0m-3 3h0m-27 6h0m27-1h0m24 0h0m4 0h0m1 2h0m21 3h0m6-1h0m0 3h0m11 0h0m7-6h0m8-1h0m-1 7h0m-7 5h0m-1-4h0m-18 1h0m-21 3h0m-27-3h0m-15 3h0m-27 11h0m71 3h0m-47 2h0" stroke="#000" stroke-opacity=".3" stroke-width="2.8" stroke-linecap="round" fill="none"/>
</g>
<line x1="367.3" y1="263.8" x2="367.3" y2="328.4" stroke="#3a3a3a" stroke-width=".9"/>
<line x1="336.0" y1="307.3" x2="400.2" y2="307.3" stroke="#3a3a3a" stroke-width=".9"/>
<text x="337.5" y="271.40000000000003" font-size="5" fill="#222">4.91</text>
<text x="393.7" y="271.40000000000003" font-size="5" fill="#222" text-anchor="end">74.8</text>
<text x="337.5" y="324.59999999999997" font-size="5" fill="#222">20.2</text>
<text x="393.7" y="324.59999999999997" font-size="5" fill="#222" text-anchor="end">0.14</text>
<text x="369.8" y="336.1" font-size="6.6" fill="#222" text-anchor="middle" textLength="16.5" lengthAdjust="spacingAndGlyphs">SCD2</text>
<rect x="448.7" y="263.8" width="63.7" height="64.4" fill="#fff" stroke="#b0b0b0" stroke-width="1"/>
<clipPath id="c5"><rect x="449.2" y="264.3" width="62.7" height="63.4"/></clipPath>
<g clip-path="url(#c5)">
<ellipse cx="461" cy="315" rx="16.50" ry="5.72" transform="rotate(0 461 315)" fill="url(#g5_11)"/>
<path transform="scale(.25)" d="M1837 1226h0m-13 11h0m2-4h0m4 0h0m2 6h0m0-4h0m1 0h0m5 4h0m18-4h0m11-1h0m1 3h0m40 2h0m12 3h0m-6 2h0m-14 2h0m-3-1h0m-1-3h0m-2 6h0m-1-2h0m0-2h0m-10 2h0m-2 0h0m-8-1h0m0-4h0m-6 7h0m-1 0h0m-1 0h0m-2-1h0m-1 0h0m-2-3h0m-3 4h0m-1-6h0m0-1h0m-1 4h0m0 1h0m-1-2h0m-1 0h0m0-1h0m0 2h0m-1 3h0m-3-7h0m0-1h0m-2 8h0m0-7h0m0 2h0m-1 5h0m0-2h0m-1-4h0m0 0h0m0 2h0m0 2h0m-1-1h0m0 2h0m0 0h0m0 0h0m-1 0h0m-2-1h0m0 1h0m-1-3h0m0-2h0m-1 1h0m-1 4h0m-1-7h0m0 7h0m-1-5h0m0 4h0m-1-3h0m0 1h0m0-1h0m-2 3h0m-3-4h0m-1 5h0m-1-2h0m-3-3h0m-2 6h0m-1-1h0m-1-6h0m-3 3h0m-1 3h0m-1-2h0m0-1h0m-2 1h0m-3-4h0m-1 4h0m-5 3h0m-2-1h0m-2-1h0m-1 6h0m0-2h0m3 0h0m1 3h0m1 1h0m0-2h0m2 1h0m1-4h0m0 6h0m2-6h0m2 2h0m2 3h0m0 1h0m1-2h0m0 2h0m0-2h0m0 3h0m2-6h0m1 0h0m1 3h0m1-4h0m1 3h0m0 2h0m0 1h0m1-2h0m0-1h0m1 0h0m0-2h0m1 6h0m1-5h0m1-1h0m0 4h0m0-2h0m0-1h0m1 3h0m1-3h0m0 2h0m0-2h0m1 0h0m0 5h0m0-1h0m0 0h0m1-5h0m1 1h0m1 3h0m1-2h0m0 2h0m0-5h0m1 5h0m0 0h0m0-3h0m1 2h0m1 1h0m0 0h0m1-1h0m0-2h0m0 1h0m0 2h0m1-6h0m0 5h0m0-3h0m0 3h0m1-3h0m1 5h0m0-1h0m1-3h0m0 4h0m0 0h0m1-1h0m0-1h0m0-4h0m0 3h0m1-2h0m0 1h0m0 1h0m1-1h0m0 5h0m1-5h0m0 3h0m0-3h0m0-2h0m1 5h0m1-2h0m1 0h0m1-3h0m1 5h0m0-2h0m0-2h0m1 6h0m0-2h0m1-1h0m0 1h0m1 0h0m0 2h0m0-4h0m1-1h0m0 2h0m0 0h0m0-2h0m1-2h0m0 6h0m0-5h0m1 1h0m0 5h0m0 0h0m0-3h0m0-1h0m1-2h0m1 0h0m0 1h0m1 3h0m0 0h0m0-2h0m0 2h0m1 1h0m1-4h0m0 2h0m1 1h0m1 0h0m1-3h0m0-2h0m1 1h0m0 0h0m0 4h0m1-2h0m0 2h0m1-1h0m0 2h0m2-3h0m0 3h0m1-6h0m0 6h0m0-6h0m1 0h0m1-1h0m1 8h0m3 0h0m0-2h0m1 2h0m1-4h0m0 1h0m2-1h0m0-3h0m0 4h0m0-3h0m1 6h0m0-1h0m1-4h0m2-1h0m2 6h0m0-7h0m1 2h0m1 1h0m2 3h0m2-4h0m1 4h0m0 1h0m2-4h0m6 2h0m3-2h0m20-3h0m1 5h0m26 0h0m-17 5h0m-3-2h0m-17 3h0m0 0h0m-2-4h0m-8 4h0m-2-3h0m0 7h0m-1-1h0m0 1h0m-2-6h0m-1 1h0m-2 1h0m0-3h0m-2 1h0m0 4h0m-1 1h0m-1-2h0m0 1h0m-3 2h0m-1-1h0m-1-2h0m0-2h0m-1 0h0m0 4h0m0-4h0m-1-1h0m-1-1h0m0 0h0m-1 0h0m0 2h0m0-2h0m-1 6h0m-1-1h0m0-1h0m-3 1h0m0-2h0m0 4h0m0-7h0m-1 7h0m0-1h0m-1-4h0m-1 5h0m0 0h0m0-6h0m-1 5h0m-1-3h0m-1 3h0m0-2h0m-1-3h0m0-2h0m0 6h0m-1-1h0m0 0h0m0 1h0m-1-5h0m-1 5h0m0 2h0m-1-5h0m-1 3h0m0-2h0m0 3h0m-2-3h0m0-2h0m0 2h0m-1 1h0m0-2h0m0 0h0m0 3h0m0-3h0m0 0h0m0 1h0m-1 0h0m0 3h0m0-6h0m0 2h0m-1 1h0m0 4h0m0-5h0m0 1h0m0-4h0m-1 6h0m0-5h0m0 0h0m0 0h0m0 4h0m-1-3h0m0 2h0m-1-2h0m-1 0h0m0 0h0m0 4h0m-1-5h0m0 0h0m-1 2h0m-1 4h0m0 1h0m0-5h0m0 4h0m0-3h0m0 3h0m0-2h0m-1-4h0m0 5h0m0-3h0m-1-1h0m0 5h0m0-6h0m0 0h0m-1 5h0m0-1h0m-1 3h0m0-7h0m-2 0h0m0 5h0m0-2h0m-1 3h0m-1-4h0m0-1h0m-1 4h0m0 1h0m0-6h0m-1 2h0m0 1h0m0-2h0m0 4h0m-1-2h0m0 2h0m0-2h0m0-4h0m-1 4h0m0-3h0m0 0h0m0 3h0m0 3h0m0-1h0m0 0h0m-1-1h0m-1 2h0m0-2h0m0 0h0m0 2h0m0-2h0m0-4h0m-1 5h0m0-3h0m0 0h0m-1 0h0m0 1h0m-1-1h0m0-2h0m0 6h0m0-2h0m0 2h0m0 0h0m-1-3h0m-1-3h0m0 3h0m0-2h0m0 3h0m-1 0h0m0 1h0m-1 1h0m0-4h0m-1 1h0m0 3h0m0-3h0m-1-1h0m0-2h0m0 1h0m-1 4h0m0-3h0m-1 3h0m-1 1h0m0-4h0m0 3h0m0-3h0m-1-2h0m-1 2h0m0-1h0m-2-2h0m0 3h0m0-1h0m0 6h0m-1-7h0m-1 2h0m0 2h0m0 0h0m0-1h0m-1 3h0m0-3h0m-2-1h0m0-3h0m0 2h0m0 5h0m-1-6h0m-1 5h0m-1 1h0m0-5h0m-1 3h0m-2 1h0m0-3h0m-1 1h0m0 2h0m-1-5h0m-2 3h0m-1 0h0m-1 2h0m-2-2h0m0-4h0m0 8h0m-2-5h0m-1-1h0m0 3h0m0-2h0m0 1h0m-1 1h0m0-2h0m-1 3h0m-1 0h0m1 8h0m1-5h0m1 4h0m4 1h0m0-3h0m2 4h0m1-6h0m0 2h0m1 2h0m0 3h0m1-6h0m1 3h0m1 0h0m1-2h0m0 2h0m0 1h0m1-1h0m0-1h0m1 3h0m0 1h0m1-7h0m0-1h0m1 8h0m1-2h0m2-1h0m0-5h0m1 1h0m0 0h0m1 3h0m0-2h0m1 5h0m1-3h0m2-1h0m0 2h0m0 1h0m0 0h0m1-2h0m1 2h0m1-3h0m0 1h0m1 4h0m0-3h0m0-3h0m1 4h0m0-4h0m0 2h0m2 4h0m1-5h0m1 1h0m0-2h0m1 0h0m0 3h0m1 1h0m1-4h0m0 4h0m0-2h0m0-3h0m1 4h0m0-5h0m0 3h0m0 2h0m1-5h0m0 5h0m0-3h0m1 2h0m0 0h0m0 0h0m1 0h0m0 0h0m1 4h0m0-1h0m0-7h0m0 3h0m1-1h0m1 6h0m0-1h0m0 0h0m1 0h0m0-3h0m0-2h0m1 5h0m0-5h0m0-1h0m0 0h0m1 7h0m0-4h0m0-1h0m0 1h0m0 4h0m1-8h0m0 1h0m0 2h0m0 0h0m1-2h0m0 7h0m1-2h0m0-1h0m0-2h0m1 0h0m0 4h0m1 0h0m1-6h0m0 1h0m1 2h0m1 3h0m0 1h0m1-5h0m0 4h0m0-7h0m1 8h0m1-3h0m0-2h0m0 1h0m1-3h0m1 4h0m0-2h0m0 4h0m1-2h0m0-1h0m1-4h0m0 3h0m1 2h0m1 0h0m0-1h0m0 2h0m0 1h0m1-3h0m0 3h0m0 1h0m1-2h0m0-3h0m2 4h0m1-2h0m3 1h0m0 0h0m2-5h0m0 5h0m2-3h0m1 2h0m2 1h0m1-6h0m0 2h0m1 3h0m0-4h0m1 5h0m8-4h0m2-1h0m3 0h0m5 5h0m14 6h0m-22 3h0m-6-6h0m-4 6h0m0-5h0m-1-1h0m-1 2h0m-2-2h0m-1 2h0m0 0h0m-1 1h0m-3-3h0m-1-1h0m0 7h0m0-6h0m-5 1h0m-1-2h0m-1 0h0m-2 0h0m-2 3h0m-4 0h0m-1 2h0m0-2h0m-1-3h0m-1 3h0m-2 1h0m0 1h0m-1-4h0m0-1h0m-1 1h0m0 7h0m-3-6h0m-1 1h0m0-1h0m-1-1h0m-1 6h0m-1 0h0m-1-4h0m-1 1h0m0-1h0m-2 3h0m-3 2h0m0-5h0m-1 1h0m0-1h0m-1 0h0m-3 0h0m-1 3h0m0-4h0m-1 0h0m-2 2h0m-3 0h0m-1 3h0m0-3h0m-2 1h0m-1-3h0m-1 1h0m-1-2h0m-1 3h0m-1 2h0m0 0h0m-1-4h0m-2-1h0m-1-1h0m-4 0h0m-4 7h0m-2 0h0m-4 1h0m-1-2h0m2 8h0m27-5h0m1 1h0m7-1h0m7 1h0m5-2h0m4 1h0m4 0h0m1 0h0m11 2h0m8 0h0m1 2h0" stroke="#000" stroke-opacity=".45" stroke-width="2.8" stroke-linecap="round" fill="none"/>
<path transform="scale(.25)" d="M1969 1072h0m-39-1h0m-64-5h0m-27 8h0m7 4h0m8 1h0m7-4h0m96-1h0m3 1h0m19 6h0m-13 3h0m-7 2h0m-29-3h0m-49-1h0m-33 4h0m-17 5h0m20-2h0m21 5h0m22 0h0m1-3h0m10 4h0m6 1h0m9-3h0m16-1h0m7 3h0m12 1h0m2-2h0m0-3h0m3 2h0m5 0h0m1-2h0m0 4h0m7-6h0m5 2h0m9 0h0m17-1h0m-12 7h0m-4 7h0m-4 0h0m-2-5h0m-6 5h0m0-4h0m-5 1h0m0 0h0m-3-2h0m0 5h0m-3-3h0m-4-3h0m0 3h0m-3-2h0m0 0h0m-1 2h0m-1-2h0m-2-2h0m-9 6h0m-7-3h0m-1 1h0m-5-4h0m-31 1h0m-6 5h0m-5-6h0m-4 1h0m-2 1h0m-6 0h0m-19 1h0m-9-1h0m-6 3h0m-25 6h0m1-2h0m11-1h0m7 7h0m8-4h0m7 2h0m12 0h0m5-1h0m5-5h0m0 0h0m15 1h0m5 1h0m6 1h0m6 2h0m22-5h0m17 1h0m3 6h0m2-4h0m3 2h0m1-1h0m0 1h0m2-1h0m4 4h0m0-2h0m0 1h0m0-5h0m1-1h0m2 3h0m0-3h0m2 6h0m0 0h0m2-4h0m0 0h0m0 4h0m0 0h0m1-6h0m5 2h0m0 3h0m0-1h0m2-4h0m1 3h0m2 2h0m0 0h0m1-3h0m2-1h0m0 3h0m2 1h0m1 2h0m2-5h0m0 1h0m8-3h0m4 3h0m4-4h0m16 2h0m-7 12h0m-15 0h0m-1-3h0m-1-2h0m-4 5h0m-2-4h0m-5-1h0m0 7h0m-1-2h0m0 1h0m0 1h0m-1-5h0m0-2h0m-1 5h0m0 1h0m-1-6h0m-2 7h0m-4-7h0m0 3h0m-1-2h0m-1 3h0m0-2h0m0 2h0m-1 0h0m-1 0h0m0 2h0m-2-4h0m-3-1h0m0 1h0m-1 1h0m-3 0h0m0-2h0m-1-2h0m-1 5h0m-1-2h0m0 3h0m0 0h0m-1-4h0m0 3h0m-1 1h0m-2-5h0m0 4h0m0-1h0m0-3h0m-3 6h0m-3 0h0m-1 1h0m0-3h0m-1-2h0m-2 2h0m-3-4h0m-1 5h0m-9 1h0m-6-5h0m-5-1h0m-16 7h0m-9-7h0m-2 3h0m-2 3h0m-1-2h0m-6-3h0m-3 4h0m-1 1h0m0 0h0m-8-5h0m-6 5h0m0-2h0m-1-4h0m-7 1h0m-2 5h0m-6-1h0m-28 0h0m-1 8h0m1-1h0m4-2h0m19 1h0m3 3h0m8-4h0m3 1h0m1-3h0m0 0h0m2 4h0m1-3h0m3 5h0m2-5h0m2 0h0m6 6h0m4-5h0m5 1h0m15-3h0m18 3h0m12 2h0m8-1h0m2 1h0m3 0h0m1-3h0m2 2h0m1-2h0m0 3h0m1-5h0m1 7h0m2-6h0m0 2h0m1 4h0m1-8h0m0 6h0m0-6h0m2 2h0m0 6h0m1-3h0m2 3h0m0-2h0m1-2h0m0 4h0m2-5h0m0 4h0m0-7h0m1 5h0m4-4h0m1 0h0m0 6h0m1 0h0m0-1h0m1-4h0m0 4h0m1-5h0m0 7h0m1-4h0m1 2h0m0-2h0m0 3h0m0-6h0m1 1h0m0-1h0m1 3h0m3 0h0m2 0h0m2-3h0m1 3h0m2-2h0m3 4h0m5-3h0m1 0h0m0 3h0m1-2h0m2 11h0m-3-4h0m-5 4h0m-2-1h0m-2-2h0m-2 2h0m-2 0h0m-1-2h0m-3 2h0m-3-1h0m0-5h0m-2 7h0m0-1h0m0-3h0m-2 2h0m-3 0h0m-1-1h0m-1 2h0m-3-5h0m-2-1h0m0 5h0m-1 3h0m-1-8h0m-2 5h0m-1-4h0m-1 3h0m0-2h0m0 1h0m-2 1h0m-1-1h0m-3 1h0m-1 0h0m-2 2h0m-1-6h0m-2 2h0m-1 6h0m-37-1h0m0-1h0m-5-2h0m-9-2h0m-3 5h0m-1-3h0m-2-3h0m-1 3h0m-8-1h0m-5 0h0m-1 1h0m-1-2h0m-2 6h0m-2-8h0m0 3h0m-2 2h0m0-1h0m-5 4h0m-2-7h0m-1 5h0m0-5h0m-1 4h0m-2-4h0m-2 3h0m-2-4h0m-10 7h0m-7-4h0m-7 2h0m-5 11h0m4-1h0m13 0h0m1-2h0m0-2h0m3 3h0m9-1h0m0-3h0m3 2h0m18 4h0m1-7h0m2 0h0m2 7h0m0-1h0m3-6h0m2 4h0m1 1h0m1 0h0m1-3h0m1 5h0m6-5h0m2 3h0m5-1h0m6 3h0m21-7h0m13 0h0m6 1h0m0 0h0m1 3h0m0-3h0m1-1h0m0 0h0m3 7h0m9-5h0m0 4h0m1 1h0m1-2h0m3-4h0m2-1h0m3 0h0m0 4h0m1 2h0m2-7h0m1 3h0m0 4h0m0 0h0m5-4h0m0 5h0m3-2h0m1-5h0m4 3h0m0 1h0m1 2h0m2 0h0m3-5h0m10 5h0m0-5h0m2 3h0m4-3h0m-13 7h0m-6 1h0m-8 1h0m-1 0h0m-4-2h0m-3 1h0m-2 0h0m-2 0h0m0-1h0m-13 4h0m-3 0h0m-4-5h0m-2 0h0m-1 5h0m-35 3h0m-10-8h0m-1 3h0m-4 4h0m-8 1h0m-15-2h0m-6 2h0m-6-7h0m-2 6h0m-1-2h0m0-4h0m-13 3h0m0 0h0m-5 3h0m-9 0h0m-11 3h0m8 5h0m1-6h0m4-1h0m4 6h0m3-3h0m0 0h0m2 0h0m2 4h0m0-6h0m2 5h0m1 1h0m3-1h0m1-4h0m0 4h0m2-4h0m2 6h0m1 0h0m0-4h0m4 1h0m4-4h0m1 4h0m7 2h0m1-4h0m3 2h0m1-4h0m1 4h0m3 1h0m4-5h0m6 2h0m3-2h0m6 0h0m1 0h0m21 5h0m2-5h0m17 0h0m15 3h0m13-3h0m6 3h0m1-2h0m7-1h0m23 1h0m-15 8h0m-12 0h0m-21 3h0m-2 1h0m-1-1h0m-32 0h0m-15-2h0m-5-1h0m-7 4h0m-1-1h0m-5 0h0m-4 0h0m-2-3h0m0 5h0m0-1h0m-2-3h0m-2 3h0m0-1h0m-1 1h0m-1-3h0m-1 1h0m0 0h0m0-1h0m-3-1h0m0 2h0m-5 0h0m-2-3h0m0 6h0m-1-3h0m-5 1h0m-2-2h0m-4-2h0m0 6h0m-5-4h0m0-3h0m-5 0h0m-2 5h0m-3 0h0m0-1h0m-5 3h0m-4-4h0m-2-2h0m-5 1h0m-6 1h0m-3-2h0m-12 1h0m20 11h0m9-1h0m3 0h0m4 2h0m6-4h0m2 2h0m1 3h0m4-6h0m4 4h0m0-1h0m0-2h0m0 4h0m2-3h0m1-2h0m3 5h0m1-4h0m0 4h0m2-1h0m3-5h0m1 4h0m3-2h0m3 0h0m4 6h0m1-3h0m0 2h0m11 0h0m4-2h0m10-4h0m12 12h0m-15-3h0m-26 2h0m0 1h0m0-3h0m-2 3h0m-4 0h0m-14-2h0m-7-1h0m0-1h0m-1 0h0m-2 6h0m0-2h0m-2-4h0m0 1h0m-2 3h0m0-2h0m-2-1h0m-2-1h0m-2 2h0m-2 4h0m-3-1h0m-9-1h0m-7 1h0m-9 9h0m11-4h0m21 4h0m2 1h0m8-5h0m3 2h0m9 2h0m1-2h0m1-3h0m1 3h0m6 3h0m3-6h0m0-2h0m13 6h0m3-2h0m1-4h0m32 12h0m-18 1h0m-11-1h0m-3 0h0m0 0h0m-5 1h0m-2-2h0m-10-1h0m0 4h0m-2-6h0m-2 4h0m-1 2h0m-4-5h0m-5 4h0m-5 0h0m-4 2h0m-5-3h0m-2 1h0m-2 1h0m-2-1h0m-21-3h0m-2 1h0m8 12h0m15-2h0m3-5h0m4 4h0m4-3h0m3 5h0m1 1h0m8-1h0m1-3h0m4-3h0m6 6h0m0-5h0m11 3h0m0 0h0m41 10h0m-32-2h0m-3 3h0m-18-3h0m-2 3h0m-13-2h0m-1 0h0m-7 0h0m-4-5h0m-1 4h0m-5-1h0m-4-1h0m-10 5h0m-4-3h0m-1 11h0m1-3h0m9 3h0m0-3h0m9-4h0m16 2h0m2 4h0m1 1h0m7-4h0m1 3h0m3-1h0m2 0h0m4-4h0m27 13h0m-16 2h0m-20-5h0m-1 2h0m-6 0h0m-2-1h0m-14 1h0m-9 3h0m0-1h0m-4-4h0m-6 4h0m-3-5h0m23 10h0m4-4h0m20 4h0m7 0h0m-12 9h0m-38 0h0m-1-2h0m-13 21h0m50 12h0" stroke="#000" stroke-opacity=".3" stroke-width="2.8" stroke-linecap="round" fill="none"/>
</g>
<line x1="479.5" y1="263.8" x2="479.5" y2="328.2" stroke="#3a3a3a" stroke-width=".9"/>
<line x1="448.7" y1="307.3" x2="512.4" y2="307.3" stroke="#3a3a3a" stroke-width=".9"/>
<text x="450.2" y="271.40000000000003" font-size="5" fill="#222">3.77</text>
<text x="505.9" y="271.40000000000003" font-size="5" fill="#222" text-anchor="end">6.96</text>
<text x="450.2" y="324.4" font-size="5" fill="#222">89.2</text>
<text x="505.9" y="324.4" font-size="5" fill="#222" text-anchor="end">0.10</text>
<text x="477.9" y="335.9" font-size="6.6" fill="#222" text-anchor="middle" textLength="21.9" lengthAdjust="spacingAndGlyphs">Control</text>
<rect x="214.9" y="344.2" width="64.2" height="64.4" fill="#fff" stroke="#b0b0b0" stroke-width="1"/>
<clipPath id="c6"><rect x="215.4" y="344.7" width="63.2" height="63.4"/></clipPath>
<g clip-path="url(#c6)">
<ellipse cx="244" cy="357.5" rx="14.30" ry="8.36" transform="rotate(0 244 357.5)" fill="url(#g6_12)"/>
<ellipse cx="229.5" cy="394.8" rx="16.50" ry="5.94" transform="rotate(0 229.5 394.8)" fill="url(#g6_13)"/>
<path transform="scale(.25)" d="M985 1390h0m-57-5h0m3 14h0m18-3h0m16 3h0m19-4h0m1 1h0m2-2h0m0-1h0m10 4h0m5 2h0m9 8h0m-13-4h0m-1 2h0m-2 1h0m-5 1h0m-4-5h0m-1 0h0m-2 3h0m-2-1h0m-1-1h0m-2 2h0m-3-1h0m-9-2h0m-1-1h0m0 4h0m0 1h0m-2-5h0m-12 5h0m0 2h0m-2-3h0m-48 9h0m8-5h0m8 2h0m19-1h0m5 4h0m7 0h0m2-2h0m0-3h0m1 3h0m5 1h0m1-4h0m2 2h0m1 3h0m1-4h0m6 4h0m0-5h0m3 7h0m1-5h0m3-2h0m0 7h0m3-4h0m1 2h0m0-5h0m0 6h0m1-2h0m1-1h0m0 2h0m3 1h0m0 0h0m1-4h0m0 3h0m1 2h0m1-6h0m2 3h0m0 1h0m5 0h0m1-1h0m2 0h0m2-3h0m1 5h0m12-4h0m2 1h0m19 4h0m3 6h0m-5 1h0m-7-7h0m-1 4h0m-1 2h0m-6-1h0m-2-1h0m-6 0h0m-3-2h0m-1 3h0m-1 1h0m0-1h0m-1-2h0m-1-1h0m-2 3h0m-1 1h0m-1 2h0m-1-6h0m-6 3h0m-1 0h0m0 0h0m-1-3h0m0 3h0m0 1h0m-1-1h0m-3-1h0m-1 2h0m-1-5h0m-2 4h0m-1 1h0m-3-4h0m-1 5h0m0-3h0m-1-1h0m0 4h0m-2-7h0m-1 6h0m0 0h0m-1-1h0m-1-5h0m-1 2h0m0 6h0m-1-1h0m-2-1h0m-1-3h0m-3 2h0m0-1h0m-1 1h0m0 1h0m0-1h0m-2-1h0m-3 2h0m0-2h0m-3 3h0m-1-2h0m-1 1h0m0-6h0m0 3h0m-1 5h0m-1-3h0m-1-1h0m-1-1h0m-1 1h0m0-2h0m-7 0h0m-2 3h0m-3 2h0m-16-3h0m0 9h0m1 1h0m1 2h0m1-1h0m2-7h0m1 1h0m7 3h0m0-2h0m3 3h0m8 0h0m0-4h0m6 4h0m1-4h0m1 1h0m0 1h0m1 2h0m3-1h0m3-2h0m0 0h0m3 2h0m0 1h0m0-2h0m1-1h0m2 3h0m1-4h0m1 5h0m2-3h0m0-2h0m0 2h0m3 2h0m1 0h0m0 0h0m1-1h0m1-2h0m0 3h0m0-1h0m1 3h0m1-3h0m4 1h0m0 2h0m0-7h0m2 1h0m2 7h0m0 0h0m1-1h0m1-5h0m1 3h0m0-3h0m0-1h0m4 4h0m1-2h0m2-1h0m1 0h0m0 2h0m1 2h0m0 0h0m1-2h0m2-3h0m0 5h0m1 1h0m0-6h0m2 5h0m0-1h0m1 1h0m0-2h0m2 0h0m0 4h0m1 0h0m2-3h0m1 1h0m0-4h0m1-1h0m0 1h0m3 2h0m1 3h0m2-2h0m0-2h0m5-1h0m9 0h0m3 3h0m2 0h0m0 1h0m4-2h0m4-3h0m7 1h0m12 0h0m-29 8h0m-9-1h0m-2 3h0m-12 1h0m-2-3h0m-1 4h0m0 2h0m-1-1h0m0-2h0m-1-4h0m-1 7h0m-2-1h0m-3-1h0m-1-3h0m-2-1h0m-1-2h0m0 8h0m-2-5h0m0-1h0m-2 4h0m0-2h0m0 3h0m-2-4h0m0 2h0m0-5h0m-1 0h0m-1 3h0m-1 4h0m-1-3h0m0 2h0m-2-6h0m-2 4h0m0-3h0m0 0h0m-2 2h0m-2 1h0m0 0h0m-3 0h0m-1 0h0m-1 1h0m-2 1h0m-1-5h0m0 6h0m-1-4h0m-2 0h0m-1-1h0m-2-1h0m-1 2h0m0 0h0m-1-2h0m-3 1h0m0-2h0m-1 5h0m-1-4h0m-2 4h0m-2-1h0m-1 1h0m0-5h0m-4 1h0m-1 6h0m0-6h0m-3 6h0m-2-1h0m-2-2h0m-12-2h0m-20 3h0m1 10h0m10-7h0m11 8h0m3-1h0m13-1h0m6-1h0m5-4h0m3 3h0m1-1h0m2 5h0m2-1h0m0-4h0m1-1h0m2 2h0m2-2h0m1 2h0m1-3h0m0 6h0m0 0h0m1-2h0m1-3h0m1-1h0m0 4h0m3-2h0m1 0h0m1 4h0m1-4h0m2-2h0m4 3h0m2 0h0m5 3h0m3-1h0m2-3h0m0-2h0m0-1h0m1 2h0m3-2h0m2 4h0m3 4h0m0-3h0m1-1h0m0 4h0m10-2h0m49-3h0m-43 6h0m-2 2h0m-2-3h0m-5 7h0m-3-6h0m-8 0h0m-5 2h0m-1-3h0m-1 6h0m-5 2h0m-1-4h0m-10 0h0m0-3h0m0 3h0m-1 4h0m-7-3h0m-5-4h0m-2 1h0m-1-1h0m-2 7h0m-2-4h0m-2-3h0m-7 1h0m-7 6h0m-3-6h0m-11 0h0m-5 4h0m-2-3h0m-26 1h0m21 12h0m8-6h0m37 0h0m15 0h0m2 0h0m8 0h0m1 3h0m51 5h0m-51 5h0m-7-7h0m-4 8h0m-12 1h0m-61 60h0m30 16h0m-7-1h0m-15 3h0m-4 0h0m-16-4h0m-21 13h0m1-4h0m16 4h0m1 0h0m4-7h0m6 4h0m2-1h0m1 3h0m0 0h0m2 1h0m4-2h0m4-1h0m3 1h0m4-3h0m0-3h0m10 6h0m5 1h0m0-3h0m0 3h0m2-3h0m3 0h0m29-1h0m17-1h0m-6 14h0m-8-6h0m-6-1h0m-2 0h0m-3 7h0m-1-6h0m0-1h0m-2 2h0m-4 4h0m0-2h0m-2 1h0m-1 2h0m-2-3h0m-1 0h0m-3 1h0m0-3h0m-2-1h0m-2 4h0m0 2h0m0-7h0m0 1h0m-3 3h0m-1-4h0m-1 1h0m0 2h0m-2-1h0m0 1h0m-3-1h0m-1 4h0m-2-1h0m0-1h0m-2 0h0m-1-1h0m-1 3h0m-1 0h0m-1-5h0m0-2h0m-1 3h0m0 2h0m-1-3h0m0 1h0m0-2h0m-2 6h0m-1 0h0m-1-1h0m-3-5h0m-1 5h0m-1 1h0m-1 1h0m-1-4h0m-2 3h0m0-3h0m-1 2h0m-1 0h0m-2 2h0m0-4h0m-1 3h0m0-2h0m-2 2h0m0-1h0m-1 0h0m-3-1h0m-1-1h0m-1-2h0m-1 4h0m-6-1h0m0 0h0m0-2h0m0-1h0m-1 4h0m-1 0h0m-9 1h0m-2-5h0m-2 0h0m-2 10h0m2 1h0m1 0h0m1 1h0m0-3h0m1-3h0m0 7h0m3 0h0m2-5h0m1 3h0m1-3h0m0 2h0m1 0h0m1 1h0m1-1h0m1 3h0m0-1h0m1-1h0m1-4h0m0 3h0m2-2h0m0 1h0m0 3h0m1 1h0m0-2h0m1-1h0m0 3h0m0-1h0m1-2h0m0 1h0m1 1h0m0 2h0m0-2h0m2 2h0m0-4h0m1 2h0m0 1h0m1-7h0m1 6h0m0-5h0m0 7h0m0-2h0m2 0h0m0-1h0m0 3h0m1-1h0m0-4h0m1 1h0m0 1h0m0 1h0m1-6h0m0 7h0m0-1h0m2-2h0m0 1h0m0 3h0m0-1h0m0-3h0m1-1h0m0-2h0m1 1h0m0 6h0m0-7h0m1 5h0m1 1h0m0 0h0m0-1h0m1-4h0m1 6h0m1-5h0m0-1h0m0 5h0m1-1h0m0 2h0m1 0h0m0-2h0m0-1h0m1 2h0m0-6h0m1 3h0m0-3h0m0 0h0m1 3h0m0-3h0m0 2h0m0 3h0m1-3h0m1-2h0m1 3h0m0-2h0m0 3h0m1-4h0m0 1h0m0 1h0m1 5h0m0-4h0m0 3h0m1 1h0m0 0h0m1-3h0m0-3h0m0 2h0m1 3h0m0 0h0m0-4h0m0-1h0m1-2h0m0 4h0m0 0h0m1 1h0m1-1h0m0 3h0m3-3h0m1-3h0m1 3h0m0-2h0m0 3h0m0 0h0m2 2h0m1 0h0m2-1h0m1-1h0m1 3h0m0-2h0m0-1h0m1 2h0m0-1h0m0 1h0m0 0h0m0-7h0m1 7h0m0-1h0m0-5h0m0 5h0m0-2h0m1 1h0m0-5h0m0 5h0m3-3h0m0 0h0m2 0h0m1 4h0m2-1h0m0-4h0m0 3h0m1 2h0m1 0h0m4-4h0m0 4h0m0 0h0m1-1h0m5-4h0m0 5h0m0-1h0m4 1h0m0-5h0m0 6h0m0-2h0m2 0h0m0-3h0m1-2h0m8 2h0m0 4h0m2 2h0m3-6h0m1-1h0m12 2h0m2 12h0m-5 1h0m0-7h0m-3 3h0m-6 0h0m-1 1h0m-5 0h0m-3 3h0m-7-3h0m-1 0h0m-1 2h0m-1-2h0m0 2h0m-2 0h0m0-5h0m-1 3h0m-1-3h0m0-2h0m0 8h0m-1-3h0m0 1h0m-1-1h0m-1-2h0m-1 5h0m0-2h0m-1-3h0m-1-2h0m0 1h0m0 5h0m0-3h0m-1-1h0m-1 3h0m0-1h0m0 2h0m0 0h0m-1 0h0m-1-7h0m0 8h0m0-8h0m-1 7h0m0-6h0m0 7h0m-1-5h0m0 0h0m0 1h0m-1-1h0m0 0h0m-2 1h0m0 1h0m-1-2h0m-1-2h0m0 2h0m-1 4h0m0-5h0m0-1h0m0 0h0m0 6h0m-1-4h0m0 5h0m0-6h0m0 3h0m-1 1h0m0-6h0m-1 5h0m0-5h0m0 3h0m-1-2h0m0 5h0m0-5h0m-1-1h0m-1 4h0m-1 3h0m-1-5h0m-1 3h0m0 0h0m-1-4h0m0 3h0m0 1h0m0 1h0m-1 0h0m-1-3h0m0 4h0m-1-2h0m0 0h0m-1-2h0m0 1h0m0-2h0m0 5h0m0-6h0m-1 2h0m0-2h0m0 1h0m-1 3h0m0-3h0m0 4h0m-2-2h0m0-1h0m-1 1h0m0 0h0m0-2h0m-1-2h0m-1 2h0m0 0h0m0 3h0m0 2h0m0-5h0m0 1h0m-1 0h0m0 4h0m0 0h0m-1-1h0m-1-1h0m0-2h0m-1 2h0m0-5h0m0 5h0m0 2h0m0-7h0m-1 8h0m0-1h0m0-1h0m0-4h0m-1 2h0m0 1h0m0 1h0m0 1h0m0-5h0m0 2h0m0 3h0m-1-5h0m0 0h0m0 3h0m0 0h0m-1-2h0m0 4h0m0-7h0m0 2h0m0 6h0m0-2h0m-1-3h0m0 3h0m0 0h0m0 0h0m-1-1h0m0-5h0m0 6h0m0 1h0m0-5h0m0 2h0m-1 0h0m-1-1h0m0-1h0m0-1h0m-1 4h0m0-3h0m0 5h0m0 0h0m-1-5h0m0 4h0m0-1h0m0 1h0m0 0h0m-1-5h0m0 6h0m0-6h0m-1 1h0m0 2h0m0-2h0m0 3h0m-1-1h0m0-1h0m0 3h0m0-4h0m-1-2h0m0 4h0m0 0h0m0-3h0m-1 4h0m0-2h0m0-1h0m0 4h0m0-2h0m-1 3h0m-1 0h0m0-3h0m0 3h0m-1-3h0m0 4h0m-1-5h0m0-2h0m0-1h0m-1 6h0m0-5h0m-1 2h0m0 2h0m0 0h0m0-2h0m-1 1h0m0-2h0m0 1h0m0 4h0m-1 0h0m0-1h0m0 2h0m-1-3h0m0-4h0m0 3h0m0 3h0m-1-3h0m-1 3h0m-1-5h0m0 4h0m-1 0h0m-1-5h0m0 3h0m-1-1h0m-1 4h0m0-1h0m-2-3h0m0 2h0m0-2h0m-1 0h0m-1-2h0m-1 2h0m-1 3h0m0 0h0m0-1h0m0-1h0m-2 0h0m-1 0h0m-2 1h0m-2-1h0m0 3h0m-4-5h0m-1 4h0m-1-2h0m-1-3h0m-1 1h0m0 0h0m3 13h0m0-2h0m0-2h0m0 0h0m1 0h0m0 4h0m1-2h0m3 3h0m0-8h0m1 5h0m5-5h0m0 4h0m2 3h0m1-7h0m1 0h0m1 2h0m0 1h0m2-1h0m1 3h0m0 1h0m1-2h0m0-1h0m3 1h0m1-3h0m0-1h0m1 7h0m1-1h0m0 1h0m0 1h0m1-2h0m1-4h0m0-2h0m0 5h0m1-4h0m0 7h0m1-2h0m0-6h0m0 7h0m1-6h0m0 2h0m0 2h0m0 0h0m0-2h0m1 4h0m0-5h0m1 4h0m0-4h0m1 0h0m0 1h0m1 2h0m0 0h0m4 3h0m0-6h0m1 4h0m0-2h0m0-1h0m1-1h0m1 4h0m0-2h0m1-3h0m0 1h0m1 2h0m0 1h0m1 0h0m1 3h0m0-3h0m0-2h0m1 3h0m0-1h0m1-5h0m0 0h0m0 1h0m0 1h0m1 6h0m0-2h0m0-5h0m1-1h0m0 1h0m0 1h0m0 0h0m1-1h0m0 5h0m0-2h0m2-1h0m0-3h0m0 0h0m1 0h0m0 1h0m1 6h0m0-1h0m0-3h0m1 2h0m0-4h0m1 1h0m0 2h0m2-3h0m1 0h0m0 6h0m1-1h0m0-1h0m1-5h0m3 3h0m0-2h0m1 0h0m0 1h0m1-1h0m1 1h0m1-1h0m0 3h0m1 1h0m1 1h0m1 0h0m3-5h0m1 1h0m0 0h0m3-1h0m0 2h0m0 4h0m1-2h0m1-5h0m0 1h0m1 0h0m1 5h0m1 1h0m1-1h0m0 1h0m1-2h0m1-5h0m2 7h0m1-5h0m1 0h0m0 5h0m3-5h0m1 6h0m2-8h0m4 5h0m1 3h0m2-7h0m6 6h0m1 1h0m5-6h0m-2 10h0m-8 1h0m-7-5h0m-2 0h0m-1 1h0m0-1h0m-1 0h0m-4 2h0m-2 1h0m-1-1h0m-2 2h0m-2-3h0m-4 4h0m-5-1h0m-1-2h0m-2-1h0m0 2h0m-2 2h0m-1-2h0m0-1h0m0 5h0m-2 1h0m-1-2h0m-3-6h0m-2 3h0m0 2h0m-2-1h0m-4-2h0m-1-1h0m-1 2h0m-1-2h0m-1 2h0m0 3h0m-2-3h0m-2 3h0m-3 0h0m-5 2h0m-3-1h0m-1-5h0m0 4h0m0-5h0m0 2h0m-2 3h0m0-5h0m-1 6h0m0-6h0m-1 3h0m-2 2h0m0-3h0m0 2h0m-1-3h0m-1 0h0m-3 2h0m-2 3h0m-2-3h0m-2 1h0m-8-2h0m0 0h0m-1 1h0m-2 0h0m-1 2h0m-1 0h0m-6 0h0m-1 9h0m38 1h0m1-5h0m6 0h0m1-2h0m6 3h0m1-3h0m6 0h0m1 1h0m0-1h0m2 5h0m20-4h0m24 1h0m-1 8h0m-34-3h0m-42 1h0" stroke="#000" stroke-opacity=".45" stroke-width="2.8" stroke-linecap="round" fill="none"/>
<path transform="scale(.25)" d="M983 1383h0m35 0h0m-18 5h0m-11 3h0m-8 5h0m6-2h0m48 11h0m-17 0h0m-37-1h0m-20 3h0m-9 1h0m-10-3h0m-7 0h0m-31 0h0m12 11h0m32-3h0m0 1h0m24-3h0m1 4h0m16-6h0m2 3h0m7 1h0m3 1h0m10 9h0m-11-6h0m-10 3h0m-3-3h0m-1 0h0m-5 6h0m-7-3h0m-9-2h0m-19 3h0m-6 1h0m-1-1h0m-5 1h0m-1 1h0m-10-4h0m-37-1h0m24 12h0m20-5h0m4 2h0m4-1h0m2-1h0m5 2h0m7-2h0m1 5h0m4-3h0m0-2h0m4 6h0m18-1h0m6 1h0m1-3h0m2-3h0m5 0h0m2-1h0m2 6h0m1-4h0m4 4h0m4-2h0m9 1h0m-2 10h0m-7-2h0m-8 0h0m-6 0h0m-8 2h0m-2-4h0m-4 3h0m-2 0h0m-6-3h0m-4-1h0m-4 2h0m-3 1h0m-3 0h0m-5-1h0m-4-4h0m0 1h0m-9 3h0m-6-1h0m-14 3h0m-5-4h0m-10 12h0m4-4h0m8 0h0m7 4h0m9 0h0m2 1h0m2 1h0m1-8h0m2 6h0m5-4h0m1 3h0m2 0h0m2-4h0m0 4h0m1-4h0m0 2h0m2 4h0m0 0h0m0-5h0m4 0h0m2-1h0m8 1h0m1 2h0m1 1h0m7-2h0m0-1h0m4 3h0m0 1h0m2-4h0m2 4h0m2-2h0m0-4h0m5 7h0m2-1h0m35-5h0m-11 12h0m-1-5h0m-15 3h0m-4-2h0m-6 6h0m-1-7h0m-1 3h0m-6 1h0m-9 3h0m-1-4h0m-2 3h0m-3 1h0m-3 0h0m-2-1h0m0 1h0m0-6h0m-2 2h0m0-1h0m0 1h0m-1 4h0m-4 0h0m-4-2h0m-1 3h0m-2-2h0m0 1h0m-1-3h0m-2-3h0m-1 3h0m-3 4h0m-2-6h0m-5 5h0m-1-3h0m-5-1h0m-1 0h0m-2-1h0m-3 1h0m0 0h0m-3 1h0m-4-3h0m-5 5h0m-1-5h0m-4 1h0m0 0h0m-3 3h0m-6-5h0m-18 3h0m1 11h0m8-4h0m11 4h0m9-1h0m2-3h0m4 3h0m2-4h0m4 4h0m3-1h0m1-2h0m4-2h0m0 3h0m4 4h0m8-4h0m0 0h0m1-1h0m1-1h0m1 4h0m1-3h0m1-1h0m6 4h0m2 3h0m14-3h0m0 1h0m1-1h0m1-3h0m9-1h0m3 1h0m2 6h0m1 0h0m4-7h0m1 4h0m1-2h0m2 4h0m3-1h0m3-5h0m0 6h0m2-2h0m0-1h0m24-3h0m7 1h0m-30 9h0m-14 3h0m-8-2h0m-1-3h0m0 6h0m-4 0h0m-2-7h0m-3 7h0m-6-5h0m-1 4h0m0-5h0m-1 1h0m-1-1h0m-2 3h0m-2-4h0m-6 1h0m-3 0h0m0 1h0m0-2h0m-2 8h0m-1-6h0m-4 5h0m0 0h0m-1 1h0m-1-6h0m-1-2h0m-2 3h0m-2 2h0m-1-4h0m-1 4h0m-2-5h0m-3 3h0m-5 3h0m-2-4h0m-3 4h0m-1 2h0m0-1h0m-3-7h0m-7 7h0m-8 0h0m-16 0h0m5 2h0m15 1h0m1 2h0m0 3h0m0 1h0m5-2h0m1-3h0m2-1h0m1 4h0m4-5h0m1 0h0m2-1h0m1 4h0m0-1h0m2 5h0m3-6h0m1 5h0m0 0h0m2-6h0m1 4h0m1 1h0m1-6h0m1 1h0m5 2h0m3-2h0m3 1h0m1 2h0m1 1h0m1 1h0m0 1h0m1-3h0m1-1h0m0 3h0m1-3h0m1-1h0m4 1h0m1 4h0m0-3h0m1 3h0m1-5h0m2 4h0m1 0h0m1-4h0m2 1h0m0 3h0m2 2h0m0-5h0m4 0h0m1 4h0m7-2h0m3 2h0m1-1h0m2-4h0m5-2h0m1 3h0m7 1h0m13 12h0m-5 0h0m-2-1h0m-7-3h0m-1 2h0m-3 0h0m-8-5h0m0 3h0m-5 1h0m-3-2h0m-4 0h0m-3-3h0m0 4h0m-4-3h0m-3 2h0m-4-1h0m-1 0h0m-6-2h0m0 3h0m-1 2h0m0 3h0m0-7h0m-2 0h0m0 5h0m-3-2h0m-2-3h0m-2 0h0m0 4h0m-1 2h0m0-6h0m0 4h0m-1-1h0m0-1h0m-3 1h0m0-2h0m-2 2h0m0-3h0m-5-1h0m-1 2h0m-3 1h0m0-1h0m-1 2h0m-1 2h0m0-3h0m-3-2h0m0 0h0m-1 4h0m-3-3h0m-1 3h0m-2-4h0m-1 3h0m-1 2h0m-2 1h0m-1-6h0m-2 2h0m0 1h0m-1 2h0m-1 1h0m-1-1h0m-4-2h0m-1 2h0m-8-2h0m-17 1h0m-1-1h0m3 7h0m5 5h0m3-4h0m10-2h0m1-2h0m1 2h0m2 2h0m0 2h0m1 1h0m2-2h0m1 2h0m6-1h0m3 0h0m0-2h0m0 1h0m2-3h0m0 0h0m2 6h0m4-7h0m10 1h0m1-1h0m1 5h0m1-2h0m1-2h0m1 2h0m0 3h0m3-6h0m2 0h0m1 4h0m0 0h0m1-5h0m2 1h0m1 1h0m2 1h0m3-1h0m0 1h0m2 3h0m2 1h0m4-6h0m3 6h0m1-5h0m0 1h0m2 0h0m4-1h0m3 5h0m0-1h0m3 0h0m6-3h0m2 4h0m5 1h0m3-8h0m9 7h0m1-3h0m0 2h0m2 0h0m2-5h0m11 7h0m-17 3h0m-17 4h0m0-6h0m-7 6h0m-6-2h0m-8 2h0m-3 0h0m-2-7h0m-1 1h0m-1 6h0m0-1h0m0 1h0m-1 1h0m-1-7h0m-2 3h0m0 1h0m-2-3h0m-5-1h0m-1 4h0m-1-2h0m-5 0h0m-1 1h0m-1 0h0m-4-3h0m-2 0h0m-1 0h0m-1-1h0m-2 5h0m-2 3h0m-1-7h0m-1 3h0m0 4h0m-2-3h0m-7-4h0m-1 2h0m-1-1h0m-3 2h0m-3 3h0m-2-6h0m-6 6h0m-3-5h0m-2 2h0m-9-3h0m0 0h0m-7 3h0m-3 0h0m12 9h0m4-3h0m1-1h0m7 1h0m6 2h0m0-1h0m1 2h0m1 0h0m2-5h0m0 1h0m0 0h0m2 2h0m1 4h0m2 0h0m2-1h0m1 0h0m7 1h0m1 0h0m2-5h0m1 3h0m3 2h0m1-6h0m1 3h0m3-2h0m1-2h0m1 8h0m0-4h0m5 3h0m1-6h0m1 5h0m1-5h0m6 0h0m4 4h0m1 2h0m3 0h0m12-5h0m3 1h0m2 2h0m2-4h0m4 5h0m2-2h0m5 0h0m8-1h0m26-3h0m-44 13h0m-2-5h0m-2 6h0m-5-3h0m-2-1h0m-2 5h0m-10-5h0m-2 3h0m-1 3h0m-5-5h0m0 5h0m-2-2h0m-2-1h0m-2-4h0m0 0h0m0-1h0m-2 0h0m-3 4h0m-1 2h0m0-3h0m-4-2h0m0 6h0m-1-6h0m-3 4h0m-1 2h0m-2-4h0m-2 4h0m-2-6h0m-3 3h0m0 1h0m-3 1h0m0-6h0m-13 7h0m-2-4h0m-5 3h0m-1 1h0m-4-4h0m-2 4h0m-1-1h0m-1-2h0m0 3h0m0-3h0m-2-2h0m-3 5h0m-4 2h0m8 7h0m0-5h0m2-1h0m1 5h0m11-4h0m0 0h0m2 2h0m0-3h0m1 3h0m2-1h0m5 0h0m2-2h0m2 4h0m2 1h0m4-4h0m1-1h0m1 1h0m5-2h0m0 6h0m4-6h0m1 4h0m4-2h0m1 1h0m1-2h0m2 2h0m3 3h0m2-5h0m4 4h0m0-5h0m3 4h0m1-3h0m3-2h0m3 0h0m13 3h0m3 3h0m16-6h0m16 8h0m-27 3h0m-10 0h0m-2-1h0m-3 0h0m-4 2h0m-10 1h0m-1-5h0m-7 3h0m-2 0h0m-1-3h0m-3 3h0m-6 3h0m-1-2h0m-2-1h0m-1-1h0m-2-1h0m-3 1h0m-6 2h0m-3-2h0m-3 4h0m-8 0h0m-17-1h0m-8 10h0m13-7h0m5 8h0m14-7h0m2-1h0m2 4h0m2-3h0m4 6h0m2-3h0m1 1h0m5 0h0m2-2h0m5-2h0m0 1h0m1 4h0m2-2h0m4-2h0m12 2h0m2-1h0m12 4h0m-5 9h0m-6-7h0m-10 5h0m-10-3h0m-1-3h0m-2 1h0m-1 4h0m-1 2h0m-9-2h0m-16 0h0m-3-4h0m0 6h0m-1-3h0m-2 3h0m-4-2h0m-2 3h0m-7-2h0m-8-5h0m-1 7h0m-3-5h0m9 8h0m3 4h0m15-3h0m0 3h0m3-2h0m0-5h0m11 1h0m2 2h0m12-1h0m1 2h0m6 1h0m0 4h0m-11 3h0m-2-2h0m-2 0h0m-3 2h0m-1 1h0m-2-3h0m-2 2h0m-12 2h0m-16-6h0m-10 1h0m-1 0h0m25 8h0m9 4h0m44-4h0m30 2h0m-58 7h0m-36-2h0m11 15h0m1-1h0m2-5h0" stroke="#000" stroke-opacity=".3" stroke-width="2.8" stroke-linecap="round" fill="none"/>
</g>
<line x1="246.3" y1="344.2" x2="246.3" y2="408.6" stroke="#3a3a3a" stroke-width=".9"/>
<line x1="214.9" y1="388.3" x2="279.1" y2="388.3" stroke="#3a3a3a" stroke-width=".9"/>
<text x="216.4" y="351.8" font-size="5" fill="#222">18.2</text>
<text x="272.6" y="351.8" font-size="5" fill="#222" text-anchor="end">7.13</text>
<text x="216.4" y="404.8" font-size="5" fill="#222">74.6</text>
<text x="272.6" y="404.8" font-size="5" fill="#222" text-anchor="end">0.11</text>
<text x="248.8" y="416.3" font-size="6.6" fill="#222" text-anchor="middle" textLength="16.5" lengthAdjust="spacingAndGlyphs">SCD3</text>
<rect x="295.4" y="344.4" width="64.0" height="64.3" fill="#fff" stroke="#b0b0b0" stroke-width="1"/>
<clipPath id="c7"><rect x="295.9" y="344.9" width="63.0" height="63.3"/></clipPath>
<g clip-path="url(#c7)">
<ellipse cx="329.5" cy="360.5" rx="15.40" ry="9.90" transform="rotate(10 329.5 360.5)" fill="url(#g7_14)"/>
<ellipse cx="309.5" cy="395.4" rx="15.40" ry="5.94" transform="rotate(0 309.5 395.4)" fill="url(#g7_15)"/>
<path transform="scale(.25)" d="M1314 1388h0m-13 1h0m-31-3h0m29 13h0m6-4h0m1 2h0m3 3h0m2-7h0m0 3h0m42 8h0m-19 2h0m-11-5h0m-5 5h0m-6 2h0m-3-2h0m-3-2h0m-14-4h0m-2 8h0m-9-6h0m-34 4h0m15 9h0m6-1h0m7-1h0m0 1h0m9 1h0m0-4h0m3 3h0m5-4h0m6 1h0m3 3h0m4 2h0m4-7h0m0 7h0m0-7h0m5 4h0m2 3h0m0-3h0m2-3h0m1 1h0m2 3h0m5 0h0m0-3h0m6-2h0m7 5h0m1-2h0m17 0h0m16 2h0m-11 7h0m-2 1h0m-2-6h0m-10 4h0m-4 4h0m-1-6h0m0 0h0m-2-1h0m0 4h0m-6-2h0m-10 4h0m-1-3h0m-1 0h0m-2-3h0m0 0h0m-1 4h0m-4-3h0m-1 4h0m-2-3h0m-2-2h0m-2 3h0m-3 0h0m-5 0h0m-1-1h0m-1 4h0m-2 0h0m-2-1h0m-5-1h0m0 0h0m-6-1h0m-10-1h0m-25 1h0m17 7h0m6-2h0m2 4h0m5-3h0m1 6h0m1-2h0m0-3h0m2 5h0m1-5h0m2-1h0m1-2h0m1 1h0m1 6h0m0-2h0m3-3h0m0-1h0m3 0h0m2 2h0m2-2h0m0 0h0m1 5h0m2 2h0m1-1h0m0-2h0m3 3h0m1-4h0m1-1h0m7 2h0m0-1h0m2-2h0m3 2h0m1-1h0m1 2h0m0-2h0m1 3h0m0-5h0m0 0h0m1 5h0m1-6h0m1 2h0m1 0h0m1 3h0m0 2h0m2 0h0m1 1h0m1-1h0m0-6h0m1 6h0m0 0h0m2-3h0m2-4h0m1 2h0m10-1h0m2 2h0m2-1h0m1 1h0m8 4h0m15-7h0m26 14h0m-16 2h0m-18-7h0m0 2h0m-1 0h0m-9 1h0m-2 2h0m-2-2h0m-2 1h0m-3-2h0m0 3h0m-2-3h0m-1 0h0m-1 1h0m0 3h0m0-7h0m-1 3h0m-5 3h0m-2-4h0m0 1h0m-2 5h0m0-3h0m-1 1h0m0 1h0m-1 0h0m0-2h0m0-2h0m0-3h0m-1 0h0m-3 8h0m-1-3h0m-1 0h0m0-1h0m0 0h0m-1 3h0m0-6h0m0 5h0m0-2h0m-1-3h0m-2 2h0m0-3h0m-2 5h0m0 0h0m-1-2h0m0-1h0m0 1h0m-1-1h0m0 5h0m-2-4h0m0 5h0m0-1h0m-2-3h0m-1-1h0m-1-3h0m-1 4h0m-1 1h0m0 1h0m-1-1h0m0 2h0m-5-3h0m-1 1h0m-1-4h0m0 5h0m-2 1h0m-1 0h0m-1-3h0m-1-1h0m0 0h0m0 1h0m0-3h0m-1 6h0m0-3h0m-1-2h0m0 4h0m-2-3h0m-4 2h0m-4-3h0m-2 1h0m-1 3h0m-2-2h0m-2-4h0m-3 2h0m-1-2h0m-2 3h0m-3 1h0m-2 3h0m-5 0h0m-6-5h0m-2 2h0m1 4h0m1 2h0m1 0h0m2 0h0m5 3h0m10-3h0m1 3h0m0 1h0m2-2h0m2 0h0m2-1h0m1-1h0m0 5h0m1 1h0m1-5h0m3-2h0m1 3h0m1-2h0m0-2h0m3 1h0m2 7h0m1-3h0m2 0h0m0-5h0m1 2h0m1 5h0m0-5h0m2 2h0m0-3h0m5 4h0m1 0h0m3 2h0m1 1h0m1-2h0m0-3h0m1 4h0m0-5h0m0-2h0m1 3h0m1-2h0m0 1h0m1 4h0m0 1h0m2-3h0m0 2h0m0 0h0m1-2h0m0 2h0m1 1h0m0-6h0m0-1h0m1 6h0m1-1h0m0-2h0m0 1h0m3-1h0m1-1h0m1 5h0m1-5h0m0-2h0m1 4h0m1 2h0m1-4h0m1 4h0m2 1h0m1 1h0m0-5h0m1 4h0m0 0h0m1-1h0m0-5h0m1 7h0m0-6h0m0 4h0m0-4h0m1-1h0m1 6h0m0-4h0m0-3h0m0 2h0m1 3h0m0-2h0m0-1h0m2 0h0m0 4h0m1 0h0m4 0h0m3 1h0m0-2h0m1 1h0m5-3h0m5 3h0m0-5h0m1 6h0m1-2h0m2-2h0m1 1h0m1 3h0m1 0h0m2-3h0m5 0h0m5 3h0m9 1h0m5-6h0m20 10h0m-23-1h0m-3 1h0m-5-1h0m-8-1h0m-11-2h0m-3 3h0m0-1h0m-9 1h0m0 3h0m-2-5h0m0-1h0m-1 6h0m0 2h0m-2-6h0m-1-1h0m-6 1h0m-1 6h0m-1-7h0m-1-1h0m0 6h0m-2 1h0m-1-6h0m-1 7h0m0-6h0m-1 6h0m0-5h0m-1 1h0m0 3h0m-2-2h0m-1 0h0m-3-5h0m0 5h0m0-4h0m-1 1h0m-1-1h0m-1 2h0m0-2h0m-1 3h0m-1 2h0m0 0h0m-1 0h0m-1 1h0m-1 1h0m0-6h0m-2 0h0m-1-2h0m0 1h0m-1 4h0m0-2h0m0-2h0m0 5h0m-1-5h0m-3-1h0m-3 3h0m0 1h0m-2-1h0m-1-2h0m0 0h0m-1 5h0m-2-1h0m-1-3h0m-1 1h0m0 2h0m-1-1h0m0-4h0m-1 6h0m0 0h0m0-3h0m-1 0h0m-2 0h0m-2 4h0m-4 1h0m-1-2h0m-2 2h0m-1-3h0m0-4h0m-1 4h0m-13-3h0m-6 5h0m-1-4h0m-3-1h0m-12-1h0m-10 13h0m16 1h0m17-5h0m7 4h0m1-4h0m3-2h0m0 5h0m5-3h0m2 5h0m1-6h0m5 7h0m0-7h0m1 3h0m1 3h0m1 0h0m1-1h0m1-2h0m0-1h0m1 0h0m1 1h0m0 1h0m2 1h0m0-3h0m2 0h0m1 3h0m3-4h0m0-1h0m1 1h0m1 1h0m0-2h0m1 2h0m0-1h0m1 0h0m1 0h0m2 1h0m0 5h0m0-8h0m3 6h0m0-1h0m1-5h0m2 7h0m2-5h0m2 1h0m0 1h0m1-3h0m3 5h0m1-3h0m5 0h0m0-1h0m1 0h0m1 3h0m3 2h0m0-1h0m3-4h0m2 1h0m0 4h0m1-1h0m2 2h0m0-6h0m2 5h0m8-1h0m13-4h0m13 4h0m6 8h0m-9-2h0m-4-3h0m0 1h0m-10 3h0m-13 1h0m-2 1h0m-1-7h0m0 0h0m0 1h0m-3-1h0m-2 7h0m-4-7h0m0 2h0m-1 0h0m0 0h0m-1 1h0m-3-3h0m0 1h0m-1 0h0m-1 2h0m-2-1h0m0-1h0m-1 2h0m-1 4h0m-7 1h0m-2-6h0m0 0h0m-1 2h0m-1 1h0m-1 3h0m0-7h0m0 5h0m-1-3h0m-1 1h0m-1-1h0m-14-2h0m-3 4h0m-2-2h0m0-2h0m-2 0h0m-1 3h0m-5-1h0m-8 4h0m-3-1h0m-15-3h0m-10-2h0m6 14h0m17-4h0m5-2h0m3 6h0m4-6h0m1 1h0m1 0h0m2-1h0m8 4h0m16 2h0m0-3h0m5-3h0m6 5h0m4-4h0m17 1h0m16 1h0m8-2h0m35 4h0m-51 4h0m-8 2h0m-8 3h0m-9-7h0m-46 2h0m-14 7h0m22 7h0m44-2h0m16-5h0m-162 51h0m45 9h0m-7 1h0m-19-1h0m-2 2h0m-8 8h0m5-3h0m0-1h0m1-1h0m23 5h0m4 1h0m6 0h0m3-5h0m4 3h0m19 0h0m27 8h0m-11 2h0m-8-5h0m-6 2h0m-2-1h0m0 1h0m-2 0h0m0 1h0m-3 0h0m-2 0h0m-5-2h0m-2-4h0m-10 7h0m0-5h0m-1-1h0m-1 3h0m-1 2h0m0-3h0m0-2h0m-2 5h0m-3 1h0m0-2h0m-1-1h0m0-3h0m-2 2h0m0 5h0m-1-8h0m-3 7h0m0-3h0m-2 3h0m-1-2h0m-1 1h0m-1-4h0m0 1h0m-1 5h0m0-7h0m-5 6h0m0-4h0m-1-3h0m-2 8h0m-3 0h0m-2-3h0m0 2h0m-3 0h0m-2-2h0m-2-4h0m-2 6h0m-3-3h0m-4 10h0m2 2h0m2-2h0m2 0h0m3 2h0m0-2h0m2-5h0m6 5h0m0 0h0m1-4h0m3 6h0m1-2h0m0-1h0m1 1h0m1 1h0m1 0h0m0-1h0m0-3h0m0 4h0m2 0h0m0-6h0m0 3h0m1 1h0m1-4h0m2 6h0m0-4h0m1 3h0m1 1h0m1-3h0m1 3h0m0-1h0m1-3h0m0-1h0m1 4h0m0-6h0m0 7h0m1-5h0m0-2h0m3 7h0m0 1h0m0-3h0m3-2h0m1-1h0m1 6h0m1-6h0m0 5h0m1-5h0m1 1h0m0-1h0m0 4h0m1 0h0m0 0h0m1 0h0m0-6h0m2 3h0m2 2h0m0-2h0m1 2h0m0 2h0m0-4h0m0 1h0m5 3h0m2-6h0m0 7h0m0-8h0m1 6h0m1-3h0m0 2h0m1 3h0m1-3h0m0 0h0m1-2h0m2 0h0m0 3h0m0 2h0m3-2h0m1 2h0m0-6h0m2 3h0m1 1h0m1 0h0m0-5h0m1 5h0m0 0h0m2 0h0m1 0h0m1-4h0m0 5h0m2-1h0m5 0h0m5-3h0m0 3h0m8-4h0m1 2h0m6 0h0m11 4h0m-11 4h0m-5 4h0m0-7h0m-1 2h0m0 0h0m-3 3h0m-3-1h0m-2-3h0m-3 5h0m-2-3h0m-1-3h0m0 0h0m-2 7h0m-2-1h0m-1-6h0m-4 6h0m0-4h0m-1 1h0m0-3h0m-1 1h0m-1 2h0m0-3h0m-3 3h0m-1-1h0m0 4h0m-1-4h0m-1 0h0m0 3h0m0-1h0m0-3h0m-1 2h0m-1-1h0m-1 4h0m-1-6h0m0 4h0m0-4h0m0 4h0m-1 0h0m0-1h0m-1 2h0m0-1h0m0-4h0m0 4h0m0-2h0m0 4h0m0-1h0m-2 0h0m-1-5h0m-1 4h0m-2-2h0m0-1h0m0 2h0m0 0h0m-1 1h0m0-3h0m-1 4h0m-1-5h0m0 5h0m0-1h0m0-1h0m0 1h0m-1-4h0m-2 2h0m0 2h0m-1 2h0m0-7h0m0 3h0m-2 3h0m0 2h0m-1-4h0m0 0h0m-1 3h0m0-2h0m-1-2h0m0 0h0m-3 1h0m-1 4h0m0 0h0m-1-3h0m-1 0h0m0 3h0m-1-5h0m0 4h0m0-7h0m-2 4h0m0 2h0m0 1h0m0-2h0m0-2h0m-1 2h0m0 0h0m-1 0h0m-1-5h0m0 0h0m0 1h0m-1 4h0m0-1h0m-1 1h0m0 3h0m0-6h0m-1 5h0m-1-7h0m0 6h0m-1-1h0m0 1h0m-2 1h0m-1-5h0m0-1h0m-1 1h0m0 0h0m-2 0h0m-1 3h0m0 3h0m-1-3h0m0 2h0m0-2h0m0 1h0m-1-1h0m0 1h0m0 0h0m-1-2h0m0 0h0m0 0h0m-2 1h0m0 2h0m-1 0h0m0-5h0m0 3h0m0-4h0m0-1h0m-3 1h0m-2 2h0m-1 3h0m-1 0h0m-1-2h0m-1 0h0m-1 0h0m-2 3h0m0-2h0m0 2h0m0-4h0m-2 0h0m0 2h0m-1-2h0m0 3h0m0-6h0m0 5h0m0 1h0m0-3h0m-1 2h0m-1 0h0m-6-2h0m-2 11h0m3 1h0m1 0h0m1-3h0m1-1h0m2 4h0m5-7h0m0 1h0m2 1h0m1 3h0m1-4h0m1 1h0m0 1h0m1-3h0m0 4h0m1 2h0m1 1h0m1-6h0m3 5h0m1-5h0m1 5h0m1-1h0m0 0h0m0 2h0m2-3h0m0-1h0m0 5h0m0-6h0m0-1h0m0-1h0m1 0h0m0 0h0m0 1h0m1 4h0m1-2h0m0-2h0m0 6h0m0-5h0m0 1h0m1 1h0m1 0h0m0 3h0m1-3h0m0 0h0m1-2h0m0 0h0m0-1h0m1 0h0m0 2h0m1 5h0m0-3h0m0-4h0m1 6h0m0-5h0m0 2h0m1-1h0m0-3h0m0 2h0m1 1h0m0 2h0m1 3h0m0-7h0m1 6h0m0-5h0m0-2h0m0 1h0m0 5h0m1-3h0m1 2h0m0 1h0m1-2h0m1 2h0m0-3h0m1 3h0m0-3h0m0-2h0m0 2h0m1 1h0m1-4h0m0 2h0m0 0h0m1 1h0m0 0h0m0 1h0m0-3h0m0 1h0m1 1h0m0-1h0m1 3h0m0 3h0m1 0h0m1-3h0m0 0h0m1 2h0m0-5h0m1 4h0m1-3h0m0-1h0m0 3h0m0-4h0m1 1h0m0-1h0m0 2h0m0 1h0m1 3h0m0-3h0m1 3h0m0-5h0m1 0h0m2 3h0m0 0h0m0 0h0m0-4h0m1 4h0m0 0h0m1-1h0m0 0h0m1 1h0m0 2h0m0 0h0m0-6h0m1 2h0m0 3h0m1-4h0m0 6h0m0-1h0m1-4h0m0 4h0m0-2h0m1 1h0m2-2h0m0 2h0m0-6h0m2 2h0m1 1h0m0-1h0m1 6h0m1-4h0m0-2h0m1 5h0m1 0h0m1-4h0m0 2h0m1 2h0m1-2h0m0 0h0m1 1h0m4 1h0m0-7h0m1 1h0m4 2h0m0 3h0m2-1h0m2-4h0m1 5h0m4-5h0m2 4h0m1-5h0m0 1h0m1-1h0m1 7h0m4-5h0m16-1h0m-24 9h0m-2 4h0m0-2h0m-8 4h0m-1-7h0m-1 5h0m-2-5h0m-2 1h0m-1 0h0m-5 0h0m-1 0h0m-2 1h0m-5-1h0m0 1h0m-1-3h0m0 2h0m-2-1h0m-1 0h0m0 2h0m0 2h0m-2-4h0m0 1h0m0 2h0m-2-1h0m0-2h0m-1 1h0m0 6h0m-1-3h0m0-2h0m-1 0h0m-1-2h0m-1 3h0m0 4h0m-1-7h0m0 6h0m-1-6h0m0 7h0m-2-4h0m0-3h0m-1 1h0m-1 1h0m-5 5h0m-1-4h0m0 2h0m0-4h0m-1 2h0m0 2h0m0-6h0m-1 1h0m0 0h0m0 1h0m-1 0h0m-1-2h0m0 3h0m-1 4h0m0-5h0m-1 3h0m-1-5h0m0 5h0m-1 0h0m-1-1h0m-1-3h0m-1 4h0m0-4h0m-1 2h0m-2-2h0m0 5h0m0-2h0m-4-2h0m-1-1h0m-1 5h0m-3-4h0m0 4h0m-3-6h0m-4 8h0m-2-6h0m-6-2h0m-3 3h0m0 2h0m-2 0h0m-3-3h0m-2 9h0m23 1h0m1-3h0m2 0h0m2 6h0m10-4h0m8 4h0m0-1h0m1-2h0m3-1h0m0-3h0m0 7h0m1-1h0m2 2h0m2-6h0m4-2h0m1 3h0m6 2h0m9 2h0m1-2h0m3-5h0m8 2h0m10 6h0m1-3h0m-6 3h0m-19 3h0m-16 0h0m-6 2h0m-1 0h0m-37-4h0" stroke="#000" stroke-opacity=".45" stroke-width="2.8" stroke-linecap="round" fill="none"/>
<path transform="scale(.25)" d="M1271 1382h0m4 1h0m77 4h0m-55 3h0m-13-6h0m-1 2h0m-23 5h0m16 8h0m27 0h0m44-1h0m3-1h0m4-4h0m3 11h0m-23 2h0m-11-2h0m-1 2h0m-3-4h0m-11 2h0m-71 10h0m26-2h0m7-3h0m14 4h0m11 2h0m14-2h0m7-4h0m1 6h0m31 1h0m-19 8h0m-1-1h0m-12-4h0m-9 3h0m-4-4h0m-6 3h0m-3-4h0m-1 2h0m-17 3h0m-2-3h0m-6 3h0m-1-1h0m-6-1h0m-8-3h0m0 0h0m-31 11h0m7 1h0m24 0h0m2-2h0m1 1h0m6 0h0m3 3h0m6-1h0m9-4h0m2-2h0m1 3h0m13 0h0m5-2h0m2 2h0m3 5h0m8-2h0m1-4h0m5 4h0m15 0h0m4 1h0m44-7h0m-36 12h0m-8 2h0m-5-2h0m0 1h0m-6 2h0m-22-4h0m-5 2h0m-1 2h0m0-5h0m-6 4h0m-2 0h0m-2-5h0m-1 3h0m0-1h0m-1-2h0m-1 7h0m0-5h0m-2 1h0m-1 1h0m-6-2h0m-2 2h0m-7-2h0m-1 3h0m-8-6h0m-1 2h0m-7 6h0m-6-5h0m-2-3h0m-10 8h0m0-2h0m-1-2h0m-8 2h0m-16 2h0m-3-3h0m-12 6h0m12 4h0m33-3h0m9 3h0m5 0h0m2-7h0m1 1h0m0 1h0m0 1h0m1 3h0m2-2h0m6 0h0m1 2h0m1-5h0m12 1h0m2 5h0m0-1h0m3-4h0m1 2h0m0 1h0m2-1h0m1-2h0m0 3h0m2-1h0m0-3h0m3 6h0m6-7h0m1 8h0m2-1h0m7 0h0m7-4h0m10 3h0m3-1h0m2-1h0m0 3h0m1-3h0m8-2h0m4 1h0m1 0h0m21 8h0m-22 0h0m-29 0h0m0-1h0m-5 4h0m-2 0h0m-2-1h0m-3-2h0m-2 4h0m0-6h0m-5 6h0m-2-1h0m-2-1h0m-1 1h0m0-1h0m-1 0h0m0-2h0m-2 2h0m0 1h0m-1-6h0m-1 2h0m-1 2h0m-1 1h0m-1 0h0m0 2h0m-3-3h0m-4 3h0m0-4h0m-4 3h0m0 1h0m-2-7h0m-3 7h0m-1-4h0m-3 2h0m-4 2h0m-2 0h0m0-3h0m0 1h0m-2-2h0m-1-2h0m-1 3h0m-6 1h0m-1 0h0m-16-4h0m-7 5h0m-3-1h0m-16 2h0m-14-1h0m13 5h0m15 2h0m10-1h0m3 3h0m3-1h0m6 0h0m0-1h0m6-5h0m2 7h0m2-6h0m0 1h0m1 0h0m5 2h0m3-3h0m0 2h0m0 3h0m1 0h0m1 2h0m1-3h0m0 0h0m1 1h0m4-6h0m2 7h0m0 0h0m1-7h0m2 7h0m0-2h0m0-4h0m1-1h0m3 7h0m0-6h0m1 3h0m0 2h0m0-4h0m2-2h0m1 4h0m0 2h0m1-6h0m3 8h0m3-7h0m3 7h0m2-4h0m3-2h0m1 3h0m4 2h0m5 1h0m1-2h0m0-5h0m2 1h0m2 5h0m0-3h0m12 2h0m8-4h0m2 0h0m26 0h0m0 11h0m-19 2h0m-13-4h0m-8 2h0m-2-1h0m-3-2h0m0 4h0m-4-4h0m-2 4h0m-2 1h0m-2-4h0m-5-3h0m-1 5h0m-3 0h0m-1 2h0m-1-5h0m-1 1h0m-2 3h0m0-1h0m-3-4h0m-2 5h0m0 0h0m-2-2h0m-1 0h0m-1-3h0m-3 1h0m-1 2h0m-1 1h0m-1 1h0m-1-5h0m0 2h0m0-2h0m-1-1h0m-1 4h0m0-1h0m0 2h0m-1-4h0m-7 3h0m-3 0h0m-1 0h0m0-1h0m-1 1h0m0-4h0m-1 3h0m-1 5h0m-9-5h0m-1 1h0m-1 3h0m0-4h0m-2 1h0m-1 2h0m0-5h0m-2 4h0m-6 1h0m-3-5h0m-1 3h0m0-3h0m-1 3h0m-2 2h0m-2 0h0m-3 1h0m-13-2h0m-1 3h0m-6-4h0m-12 9h0m4 1h0m5-2h0m0-1h0m4 5h0m9-1h0m0-3h0m1 3h0m11-6h0m7 5h0m1-2h0m1-3h0m1-1h0m0 6h0m2 1h0m5-5h0m3 6h0m2-8h0m0 0h0m7 6h0m0-2h0m1 2h0m1 0h0m6-1h0m1-2h0m1 3h0m5-3h0m2 3h0m2-3h0m2 3h0m2-2h0m1 0h0m3 3h0m3-1h0m2 1h0m1-2h0m1-3h0m1-1h0m0 3h0m2 1h0m1-3h0m7 0h0m0 0h0m3 0h0m6 6h0m3-8h0m0 0h0m7 1h0m1 1h0m3 2h0m11 0h0m32 6h0m-37 6h0m-7-3h0m-6-1h0m-4 4h0m-1-1h0m-2 0h0m-1 0h0m0-4h0m0 5h0m-13-1h0m-1-4h0m-2 3h0m0-3h0m-4-1h0m-1 4h0m-2 0h0m-1-6h0m-2 3h0m0-2h0m-3 4h0m0 0h0m-1 2h0m-1-1h0m-1 1h0m-2 1h0m-5-5h0m0-2h0m-3 4h0m-3-4h0m0 1h0m0-1h0m0 4h0m-1 2h0m-1-7h0m0 2h0m-1 0h0m0 3h0m-4 2h0m-2-1h0m-1-6h0m0 1h0m-2 4h0m0 0h0m0-4h0m0 7h0m0 0h0m-1-7h0m0 0h0m-3-1h0m0 5h0m-9-3h0m0-1h0m-1-1h0m-1 7h0m-1-2h0m-2 0h0m0-4h0m0 7h0m-2 0h0m-2-3h0m-4 1h0m0-1h0m-9-2h0m-2 2h0m-1-2h0m0 5h0m-2-2h0m-9 0h0m-6 0h0m-1 2h0m10 7h0m1-1h0m4-4h0m1-1h0m2 3h0m3 0h0m0 2h0m1 0h0m0 2h0m0-3h0m4-3h0m0 2h0m0 0h0m2 4h0m3-8h0m1 4h0m0 1h0m2-5h0m1 3h0m1-3h0m0 5h0m3-2h0m1-1h0m1 3h0m0 1h0m1-1h0m3-4h0m1 4h0m3 3h0m1-4h0m0-1h0m1 1h0m2-2h0m0-1h0m0 5h0m3 0h0m1-3h0m1 0h0m0 2h0m1-5h0m1 2h0m1 3h0m0 0h0m1 2h0m1-6h0m0 1h0m0-1h0m3 1h0m1 0h0m2-1h0m3 4h0m1-2h0m1 0h0m2-3h0m1 1h0m2 6h0m0 1h0m2-7h0m1 0h0m1 1h0m1 5h0m1-4h0m2 3h0m1-5h0m4 4h0m4-4h0m1 0h0m7 6h0m2-4h0m22-1h0m11 2h0m-34 11h0m0-7h0m-3 4h0m-9 2h0m-1 0h0m-2-2h0m-5-3h0m-10 2h0m-2 0h0m-2 1h0m-1-3h0m-1 1h0m-2 3h0m0 3h0m-2-2h0m-1-4h0m0-2h0m0 1h0m-2 7h0m0-1h0m-1-3h0m0-2h0m0 5h0m-3 0h0m0-1h0m-1 0h0m-1-5h0m-2 1h0m0 2h0m-2-3h0m0 5h0m-2-4h0m0 1h0m-1 0h0m-1 3h0m-2-6h0m-3 2h0m0 0h0m-1 4h0m-1-3h0m-1 2h0m-4-2h0m-4-1h0m-1 2h0m-1-2h0m-3 3h0m-2-2h0m-1 3h0m-1 0h0m-1 0h0m0-1h0m-1-5h0m-1 2h0m-4 1h0m-2 0h0m0-1h0m-1-2h0m-7 4h0m-7 1h0m-5 2h0m-1 8h0m6-3h0m1-1h0m2 3h0m2 0h0m2 1h0m5-1h0m4-4h0m1 3h0m0 1h0m6-1h0m0 2h0m1-4h0m2 0h0m6 3h0m1 0h0m1-2h0m3 1h0m1-2h0m5-3h0m1 5h0m10 0h0m0-1h0m3 3h0m1 1h0m2-4h0m0 3h0m0 0h0m1 0h0m1 1h0m0 0h0m3-7h0m4 0h0m0 6h0m4-6h0m1 4h0m2 2h0m3-4h0m3 4h0m0-4h0m1 0h0m2 0h0m1-2h0m2-1h0m0 3h0m7 4h0m3-4h0m4 4h0m1 0h0m2-1h0m1-2h0m0 0h0m7-3h0m10 3h0m4 7h0m-13 0h0m-1 0h0m-12 0h0m0-1h0m-5-1h0m-1 4h0m0-4h0m-11 2h0m0 0h0m0 3h0m-2-3h0m-1-2h0m-2 1h0m0-1h0m-7 3h0m-1 1h0m-3-1h0m-4 1h0m-1-1h0m-3 3h0m-3-6h0m-4 2h0m0-2h0m-3 2h0m0 5h0m-4-6h0m0 4h0m-4-1h0m0-3h0m-4 4h0m-2 1h0m0-4h0m-1 3h0m-1-5h0m-1 4h0m0 2h0m-1-6h0m0 2h0m-5-2h0m-1 6h0m-2-1h0m-1-3h0m-3 5h0m-1-1h0m-1 0h0m-2-3h0m-2-2h0m-1 4h0m-3-2h0m-1-4h0m-2 3h0m-4 2h0m-1 1h0m-1-1h0m-1 2h0m-3-1h0m-2 9h0m0-2h0m3 2h0m3-7h0m4 7h0m3 1h0m3 0h0m2-7h0m2 4h0m2 1h0m1-6h0m3 6h0m6 0h0m3 0h0m5 0h0m4 1h0m3-1h0m2-1h0m0 0h0m1-5h0m3 4h0m8-2h0m1 3h0m0-4h0m1 1h0m2-1h0m4 0h0m4 6h0m1-2h0m8-4h0m2 2h0m0 3h0m1 0h0m1-2h0m0 3h0m13-3h0m4 2h0m3 2h0m0 2h0m-8-1h0m-2 3h0m-1 2h0m-4-2h0m-2 3h0m0-4h0m-6-1h0m-1 3h0m0-5h0m0 2h0m-7 5h0m-9 0h0m-2-6h0m0 0h0m-1 2h0m-2 1h0m-1-4h0m-3 7h0m-3-3h0m-4 1h0m-1 1h0m-1-4h0m-1-1h0m-2 4h0m-6-2h0m-2 3h0m0-5h0m-4-1h0m-2 4h0m0-2h0m-3 1h0m0 1h0m-9 0h0m-4 0h0m-1-3h0m-4 5h0m-2 2h0m-1-6h0m-6 7h0m1 4h0m3-5h0m3 2h0m6 4h0m5-5h0m3 2h0m3 0h0m7 1h0m5-3h0m1 2h0m1-2h0m2 2h0m2 4h0m3-5h0m1-1h0m1 2h0m3 0h0m9-2h0m8 6h0m0-6h0m5 7h0m7-3h0m3 0h0m5 0h0m1-4h0m-4 7h0m-9 3h0m-15-3h0m-1 4h0m0-2h0m-6 4h0m-5 1h0m-1-5h0m-3 2h0m-4 3h0m-2-4h0m-6 1h0m-12 4h0m-9 0h0m-5 0h0m-2-3h0m-5 2h0m14 9h0m16-2h0m1-5h0m10 1h0m7 2h0m2-2h0m0-1h0m27 1h0m10 6h0m-18 5h0m-5-4h0m-2 0h0m-6 0h0m-5 2h0m-1 3h0m-15 2h0m-4-4h0m0-4h0m-32 2h0m13 14h0m27-6h0m7-2h0m2 6h0m6-6h0m6 4h0m-22 7h0m-26-1h0m48 31h0" stroke="#000" stroke-opacity=".3" stroke-width="2.8" stroke-linecap="round" fill="none"/>
</g>
<line x1="326.8" y1="344.4" x2="326.8" y2="408.7" stroke="#3a3a3a" stroke-width=".9"/>
<line x1="295.4" y1="388.5" x2="359.4" y2="388.5" stroke="#3a3a3a" stroke-width=".9"/>
<text x="296.9" y="352.0" font-size="5" fill="#222">22.3</text>
<text x="352.9" y="352.0" font-size="5" fill="#222" text-anchor="end">28.5</text>
<text x="296.9" y="404.9" font-size="5" fill="#222">49.0</text>
<text x="352.9" y="404.9" font-size="5" fill="#222" text-anchor="end">0.19</text>
<text x="330.5" y="416.4" font-size="6.6" fill="#222" text-anchor="middle" textLength="16.5" lengthAdjust="spacingAndGlyphs">SCD4</text>
<rect x="376.9" y="344.2" width="64.5" height="64.5" fill="#fff" stroke="#b0b0b0" stroke-width="1"/>
<clipPath id="c8"><rect x="377.4" y="344.7" width="63.5" height="63.5"/></clipPath>
<g clip-path="url(#c8)">
<ellipse cx="414" cy="366" rx="15.40" ry="14.30" transform="rotate(10 414 366)" fill="url(#g8_16)"/>
<ellipse cx="390.5" cy="395.5" rx="15.40" ry="5.94" transform="rotate(0 390.5 395.5)" fill="url(#g8_17)"/>
<path transform="scale(.25)" d="M1663 1390h0m-22-3h0m-4 9h0m9-2h0m61 2h0m-26 6h0m-34-1h0m-7 2h0m-10 1h0m-13 12h0m16-3h0m9-5h0m13 5h0m0 3h0m1-2h0m8-6h0m2 7h0m1 1h0m8-7h0m20 14h0m-6-6h0m-3 6h0m-7 0h0m-4-5h0m-7 4h0m-2-3h0m-3 2h0m-8-5h0m0 3h0m-5 1h0m-4-2h0m0 3h0m-1 1h0m-1 0h0m-2 1h0m-3-2h0m-5 1h0m-1 1h0m-22-2h0m-6 3h0m4 1h0m7 3h0m5 4h0m5 0h0m4-1h0m21-4h0m0-1h0m0 1h0m7-1h0m2 1h0m2 4h0m0 1h0m10-6h0m2 5h0m15 0h0m49-5h0m-13 8h0m-19 3h0m-2 0h0m-5-2h0m-14-1h0m-1 4h0m0-4h0m-4 2h0m-5-2h0m-3-2h0m-1 0h0m0 4h0m-2-2h0m-1-1h0m0 7h0m-1-5h0m-2 2h0m-1 3h0m-1-4h0m0-3h0m-1 2h0m-1 2h0m-1 1h0m0 0h0m-3-3h0m0 1h0m-2 3h0m-2-7h0m-3 1h0m0 1h0m-3 5h0m-1-3h0m-5 0h0m0-3h0m-2 5h0m-7 2h0m-6-1h0m-3 0h0m-1-2h0m-5-1h0m-1 2h0m-1-6h0m-6 5h0m-10 1h0m-7-5h0m0 5h0m-18 10h0m35-4h0m2 3h0m1-4h0m6 4h0m4-6h0m0 1h0m1 5h0m1 0h0m0-1h0m3-1h0m2 2h0m0-2h0m3 0h0m2-3h0m4 3h0m1-1h0m0 1h0m1 2h0m0 1h0m2-6h0m2 5h0m8-6h0m1 4h0m2 2h0m2 1h0m0-4h0m1 1h0m0 2h0m1-4h0m0 4h0m0-3h0m2 0h0m1 3h0m2 0h0m0 0h0m0-2h0m2 2h0m3-2h0m2-2h0m5-1h0m2 5h0m1-1h0m6-5h0m2-1h0m7 6h0m4 0h0m7-2h0m5 3h0m1 5h0m-6 2h0m-2-1h0m-2 1h0m-2-4h0m-4 2h0m-5 1h0m-6-2h0m-1 0h0m-4 1h0m0 0h0m-1 1h0m-1 0h0m-1 2h0m-1-3h0m-1 3h0m-2-4h0m0 3h0m-8-3h0m-1-3h0m-1 6h0m-2-5h0m-2 2h0m-1 4h0m0-5h0m-1 3h0m-1 0h0m-1-4h0m-1 0h0m-2 5h0m-1-4h0m-2 1h0m-1 3h0m-4 1h0m0-4h0m-1 1h0m-2-2h0m-2 0h0m-1 0h0m0-1h0m-2 5h0m0-3h0m0-2h0m-4 1h0m0 5h0m-2-5h0m-4 5h0m-4-3h0m-1-1h0m-5 4h0m-6 1h0m-4-4h0m-7 1h0m-10-1h0m17 6h0m2 3h0m0 1h0m1-5h0m2 3h0m7-3h0m4 2h0m1 4h0m3-2h0m1-2h0m0 1h0m1-2h0m0-1h0m2 2h0m1-2h0m1 1h0m1 3h0m1 0h0m0 1h0m2-2h0m1-2h0m2 2h0m7-2h0m1 1h0m3-2h0m3 4h0m0-4h0m0 6h0m1-6h0m0-1h0m2 0h0m0 2h0m1 5h0m0 1h0m1-7h0m1 2h0m1 3h0m1-5h0m5 0h0m2 5h0m4-4h0m2-1h0m1 0h0m0 3h0m1-4h0m0 5h0m1-3h0m3 0h0m4 3h0m1 2h0m1-2h0m2 3h0m2-1h0m3 1h0m6-3h0m7-5h0m14 8h0m-13 1h0m-8 2h0m-4 1h0m-1-3h0m-2 0h0m0 5h0m-2-2h0m-1-4h0m-1 0h0m-11 8h0m-4-7h0m-1 2h0m0-2h0m-1 0h0m-1 5h0m-1 2h0m-1-2h0m0-1h0m0-3h0m-1 1h0m-1 0h0m0-3h0m-1 2h0m-2-2h0m-2 1h0m-5 3h0m0 4h0m-1-5h0m0 2h0m-1-3h0m-6 2h0m0-1h0m-1 0h0m-3 1h0m-2-2h0m-2 4h0m-1-4h0m-2 0h0m0 4h0m-1-6h0m-2 0h0m-3 3h0m-1 4h0m-2-7h0m-3 5h0m-4-3h0m0 3h0m-4 3h0m-10-6h0m-19 0h0m-11 2h0m-6 10h0m25-4h0m1 2h0m4 2h0m1-5h0m5 2h0m12 5h0m2-1h0m1-6h0m2 1h0m0 2h0m2-1h0m0 0h0m1-2h0m6 5h0m1 0h0m3-1h0m1-3h0m2 5h0m0-6h0m1 6h0m1-2h0m3 2h0m2-6h0m0 6h0m0-1h0m1-1h0m2 1h0m1 0h0m1-1h0m1-3h0m0-2h0m1 8h0m1-5h0m1-1h0m1 1h0m1 2h0m2-2h0m0 1h0m2-1h0m0 4h0m1-7h0m2 0h0m2 6h0m1-2h0m1 0h0m3 2h0m2 1h0m22-1h0m1-1h0m1-3h0m0 5h0m1-1h0m1-3h0m1 4h0m17-3h0m8 6h0m-3 5h0m-16-4h0m-5-2h0m-4 1h0m0-1h0m-5 5h0m-1-5h0m-5 6h0m-1 0h0m-6-7h0m0 4h0m-1 2h0m0-2h0m-1 3h0m-4-1h0m-3 1h0m-1-6h0m-1 2h0m-2 4h0m-5-1h0m-7 2h0m-3-7h0m-1 3h0m-1-3h0m-1 6h0m0 0h0m-1-6h0m-2 1h0m0-2h0m-3 3h0m-2-3h0m0 2h0m-1-2h0m-2 6h0m-1 0h0m0 1h0m-2 1h0m-2-7h0m-1-1h0m0 5h0m-3-1h0m0-4h0m-1 8h0m-2-3h0m-4 3h0m-3-5h0m-2 3h0m-13-3h0m2 13h0m5-7h0m7 0h0m2 2h0m15 2h0m5 1h0m4-4h0m1 6h0m1-5h0m2 0h0m10 3h0m3 2h0m1-2h0m0 2h0m1-6h0m2 1h0m0 4h0m0-4h0m0 3h0m2-5h0m5 2h0m0 0h0m1 2h0m1-5h0m0 0h0m0 1h0m2 4h0m9 0h0m13-4h0m19 1h0m8 3h0m2 2h0m17 1h0m-45 0h0m-11 2h0m-14-1h0m-8 7h0m-5-7h0m-4 7h0m-9-2h0m-2-6h0m-3 3h0m0 2h0m-3-5h0m-2 2h0m-9 5h0m-13-3h0m0 2h0m-1-4h0m-8 6h0m2 1h0m17 4h0m9 2h0m3-6h0m9 1h0m3 4h0m1-4h0m5 1h0m12 2h0m30 2h0m7-5h0m21 7h0m-46 1h0m-1 4h0m-13 0h0m-6-4h0m-7 5h0m-4-4h0m-3 5h0m-1-4h0m-4-4h0m-35 1h0m12 8h0m6 5h0m9-6h0m11 7h0m2-3h0m10 7h0m-49 5h0m18 3h0m42 2h0m-90 11h0m-45 7h0m13 0h0m16 0h0m12 0h0m26-1h0m41-3h0m-2 12h0m-16-7h0m-3 5h0m-3-1h0m-1 4h0m-8-4h0m-1 0h0m-3 2h0m-3 0h0m-1-3h0m0 2h0m-6-3h0m0 5h0m-3-3h0m-3 1h0m-2-1h0m-2 2h0m-4-5h0m-2 5h0m-1-5h0m-1 3h0m0-3h0m0 6h0m0 0h0m-1-1h0m0 2h0m-5-1h0m-2-6h0m-4 6h0m-1 0h0m0 0h0m-1 1h0m0-4h0m-1-3h0m-1 1h0m0 3h0m-2-4h0m0 5h0m-2-2h0m-2 4h0m-2-2h0m-2 1h0m0 1h0m-1-2h0m-1 2h0m0-1h0m-8-6h0m-1-1h0m-3 7h0m0-2h0m-6-4h0m0 0h0m-3 3h0m-1 4h0m-1-1h0m-4 1h0m0-6h0m-4 13h0m1 1h0m5-1h0m0 0h0m0-2h0m1-3h0m0 1h0m2 2h0m0 1h0m2 2h0m1-4h0m1 2h0m1-5h0m0 3h0m3 2h0m1 1h0m0-2h0m3 0h0m0-1h0m0 1h0m1-1h0m1 2h0m0 1h0m1-6h0m1 5h0m2-1h0m2-4h0m0 2h0m1 1h0m1-2h0m1 1h0m0-3h0m1 4h0m0-1h0m1 0h0m0 3h0m1 1h0m1 0h0m1 0h0m0-5h0m1 5h0m0 0h0m1 0h0m0-6h0m1 0h0m0 6h0m1 1h0m0-5h0m1 1h0m0-3h0m2 2h0m0 1h0m0 2h0m0-6h0m1 7h0m0-3h0m0-2h0m0 6h0m1-2h0m1-2h0m0-4h0m1 4h0m0 2h0m1-4h0m0 5h0m0-6h0m1 4h0m0-4h0m1 3h0m1-3h0m0 5h0m2-1h0m0-2h0m1-1h0m1 2h0m0 1h0m0-2h0m0 4h0m0-6h0m0 7h0m0-1h0m1 1h0m1-7h0m0 0h0m1 1h0m0 3h0m0 1h0m0 0h0m1-5h0m0 3h0m1 1h0m0-1h0m0 2h0m1-3h0m0 3h0m2 0h0m1 1h0m0-4h0m0 1h0m1-4h0m0 5h0m0-1h0m1 2h0m0-5h0m2-1h0m0 0h0m0 5h0m1-2h0m0-2h0m0 2h0m1 4h0m0-1h0m1-1h0m0-4h0m0-1h0m2 4h0m0 2h0m2-1h0m0 2h0m1-7h0m0 0h0m1 5h0m0 1h0m1-3h0m0 1h0m4 4h0m2-6h0m1 0h0m0 0h0m5-1h0m4 1h0m7 2h0m21 0h0m9-2h0m-7 13h0m-5-2h0m-2-4h0m-1 6h0m-8-4h0m0-1h0m-1 5h0m-5-1h0m-9-1h0m-1 2h0m0-3h0m0-2h0m-1 3h0m-2 1h0m0 1h0m0 0h0m-1 0h0m0-5h0m-2 4h0m-1 1h0m-1 0h0m0-2h0m-1-1h0m-1-3h0m0 4h0m-1 0h0m0 2h0m0-3h0m0 2h0m-1-5h0m-1 0h0m-1 3h0m0 3h0m-1-5h0m-2 0h0m-1 2h0m0-1h0m0 0h0m0 4h0m-2-7h0m-1 3h0m0 1h0m0 3h0m-1-2h0m0 0h0m-1-4h0m0-1h0m0 2h0m0-1h0m-1 4h0m0 0h0m-1-3h0m0 2h0m-1 0h0m0-4h0m-2 3h0m0-1h0m0-2h0m-1 6h0m0 0h0m0 1h0m0-2h0m0 1h0m-1 1h0m0-4h0m0 1h0m0 3h0m0-5h0m0 5h0m-3-2h0m-1-2h0m0 3h0m-1-3h0m0 0h0m-2 0h0m0 0h0m-1 2h0m0-4h0m0 4h0m0-2h0m0 3h0m0 0h0m0 0h0m0-1h0m0-4h0m-1 4h0m0 2h0m-1-6h0m0 1h0m-1 1h0m0 2h0m0 3h0m-1-1h0m0-4h0m-1 1h0m0 1h0m0-3h0m0 4h0m0 0h0m-1 0h0m0 1h0m0-2h0m-2-5h0m-2 7h0m-1-7h0m0 4h0m-1 3h0m0-3h0m0 3h0m0-5h0m0 5h0m0-2h0m0-4h0m0 6h0m0-6h0m-1 6h0m0-5h0m0 1h0m-1 5h0m0-2h0m0 0h0m0-5h0m0 0h0m0 0h0m-1 6h0m0-2h0m0-1h0m0-2h0m0 5h0m-1 0h0m-1 1h0m0-7h0m-1 0h0m0-1h0m0 5h0m0-5h0m0 7h0m-1-6h0m-1-1h0m0 5h0m-1-3h0m0 3h0m0 0h0m-1-2h0m0 0h0m0 0h0m-1-3h0m0 2h0m0 1h0m-1-1h0m0 1h0m0 0h0m0 4h0m-1 1h0m0-7h0m-2 6h0m-1-4h0m0 3h0m-1-4h0m-1 0h0m0 1h0m0 3h0m0 1h0m0-1h0m0-5h0m0 0h0m-1 4h0m-1-2h0m-1-1h0m0 4h0m0 0h0m-1-3h0m-1 3h0m0-4h0m0-1h0m0 3h0m-2 2h0m0-3h0m-1-1h0m-1 2h0m-3 2h0m0 1h0m-5-6h0m-1 6h0m-2-4h0m-3 4h0m-1-7h0m-1 1h0m0 5h0m-1-6h0m0 1h0m0 2h0m-1 5h0m0-7h0m0 4h0m-1-4h0m1 11h0m4 1h0m1-2h0m1 0h0m3 0h0m0 3h0m1 0h0m1 1h0m0-7h0m1 1h0m0 3h0m1 2h0m0-3h0m1 4h0m0-4h0m1-3h0m2 7h0m1-3h0m0-3h0m1 7h0m1-8h0m0 3h0m0 2h0m1-1h0m1 2h0m1-4h0m2 5h0m0-4h0m0-3h0m0 5h0m0-4h0m1 6h0m0 1h0m1-6h0m1 5h0m0-5h0m0 3h0m1 2h0m0-3h0m0-4h0m0 5h0m2-4h0m0 3h0m1-2h0m1 1h0m0-2h0m0 4h0m0-4h0m1 3h0m0-2h0m0 3h0m2-1h0m0-1h0m1-2h0m0 6h0m1-5h0m0 3h0m0 1h0m1-3h0m0 1h0m0-2h0m1 5h0m0-1h0m1 0h0m0-3h0m0-1h0m3 3h0m0-4h0m0 4h0m0 0h0m0 1h0m1-1h0m0 1h0m0-5h0m0 3h0m3-1h0m0 0h0m1-2h0m0 6h0m0 0h0m0-5h0m0 5h0m1-7h0m0 2h0m1 1h0m0-2h0m0 1h0m2 2h0m0-2h0m0 0h0m1-1h0m1 5h0m1-3h0m1-3h0m0 4h0m0-3h0m0 4h0m1 1h0m0-4h0m1 4h0m0-3h0m0 1h0m0 2h0m0-5h0m0 4h0m1 1h0m0-1h0m0-4h0m2 1h0m0 1h0m1 5h0m0-7h0m0 4h0m1 0h0m1 1h0m1-2h0m1 0h0m1-2h0m0 0h0m0 6h0m0-6h0m1 4h0m1-2h0m0-1h0m0 0h0m0 1h0m1-1h0m0 1h0m1-1h0m0 3h0m0-1h0m0 0h0m0-2h0m1 2h0m0-5h0m0 4h0m1 3h0m1-4h0m0 1h0m0-3h0m1 0h0m0 1h0m2 1h0m0 0h0m0 5h0m1-7h0m0 0h0m2 0h0m0 1h0m2 0h0m1 2h0m1 2h0m0-4h0m0 5h0m1 1h0m0-6h0m1 3h0m1 0h0m2 1h0m1-3h0m3-3h0m3 7h0m20 0h0m9-5h0m-3 7h0m-12 2h0m-7-2h0m-7 1h0m0 5h0m-1-6h0m-4 4h0m0 3h0m-3-2h0m0-5h0m-2 7h0m-4-3h0m-1-4h0m-1 3h0m-1-3h0m0 3h0m-1-3h0m-2 1h0m-5 0h0m-2-1h0m0 2h0m-3-2h0m-1 2h0m-1 2h0m-2-3h0m-1-2h0m0 0h0m-1 1h0m-2-1h0m-1 5h0m0-4h0m0 2h0m-1 2h0m0 1h0m0-3h0m-2 2h0m-1-2h0m-1 0h0m0 2h0m0-4h0m-2 6h0m-2-6h0m-2 2h0m0-2h0m-1-1h0m0 2h0m-2 1h0m0-1h0m-1 3h0m-2 0h0m0 1h0m-1 0h0m-1 2h0m-3-7h0m-1 6h0m0 0h0m-1-3h0m0 0h0m-2 3h0m0-1h0m0 0h0m-1 1h0m-1-6h0m-1 2h0m0 5h0m-4-3h0m-1-4h0m-1 1h0m-1-2h0m0 3h0m-4-2h0m-1 5h0m-2-6h0m-2 1h0m-4 1h0m-1 2h0m-1-3h0m-1 0h0m-2 6h0m-1-4h0m7 7h0m7 4h0m2-3h0m0-1h0m0-2h0m5 6h0m3 0h0m2-4h0m1 1h0m2-3h0m2 7h0m1-7h0m0 0h0m1 4h0m6-2h0m4 0h0m0 5h0m0-6h0m1-1h0m1 1h0m0 6h0m4-2h0m4-3h0m4 4h0m1-1h0m1-4h0m1 6h0m0-4h0m1-1h0m3-1h0m2 2h0m6 2h0m13 3h0m-63 1h0" stroke="#000" stroke-opacity=".45" stroke-width="2.8" stroke-linecap="round" fill="none"/>
<path transform="scale(.25)" d="M1575 1383h0m52 6h0m-18 0h0m51 6h0m31 5h0m6 8h0m-83 4h0m2 1h0m12-1h0m15-3h0m-3 10h0m-9-2h0m-10 1h0m0 6h0m-73-8h0m15 15h0m7-6h0m20 5h0m12 1h0m15-1h0m1-6h0m3 6h0m8-4h0m1 2h0m1 4h0m12-5h0m15 0h0m36 1h0m19 0h0m-50 10h0m-14-3h0m-12 3h0m-1 1h0m-9 0h0m-11 0h0m-8-1h0m-2-5h0m-4 5h0m-7 1h0m-1-2h0m-48 0h0m20 9h0m3 2h0m11-3h0m6-4h0m6 3h0m0-3h0m0 3h0m2 1h0m3 2h0m6-2h0m5-3h0m1 5h0m3-6h0m0 5h0m5 2h0m0-4h0m1-3h0m2 1h0m1 5h0m2-1h0m4-4h0m2 3h0m5-2h0m0-3h0m2 0h0m3 7h0m20-2h0m1 1h0m2-5h0m25 2h0m3 1h0m-7 11h0m-9-2h0m-8-4h0m-1 7h0m0-6h0m-2 5h0m-3 0h0m-4 0h0m-2-1h0m-8-3h0m-3 4h0m-4-1h0m-18-1h0m-1 2h0m-1-5h0m-6 3h0m-3 2h0m-8 0h0m-6 0h0m0-6h0m-14 2h0m-7 4h0m-19-2h0m-24 0h0m-5-4h0m-15 11h0m36 2h0m1-4h0m3-1h0m6 6h0m11-5h0m9-2h0m7 1h0m1 6h0m3 1h0m0-8h0m2 1h0m1 7h0m0-3h0m3-1h0m1-1h0m3 1h0m2 3h0m20-4h0m9 4h0m1-5h0m2 0h0m8 0h0m0 3h0m1 0h0m1-1h0m5 2h0m8 1h0m12 0h0m25 0h0m6-2h0m3 0h0m6 8h0m-10-4h0m-13 2h0m-1 5h0m-8-7h0m-9 5h0m-1-2h0m-21 0h0m-2-4h0m-6 7h0m-1-7h0m-2 1h0m0 3h0m-1 0h0m-1-1h0m-2-3h0m-1 3h0m-5-2h0m-3 6h0m-3-5h0m0 6h0m-3-1h0m0-7h0m-1 7h0m0-4h0m-1 3h0m-1 1h0m0-1h0m-9 1h0m-1-6h0m-2 1h0m-1 0h0m-1-2h0m0 2h0m0-1h0m-2-1h0m0 2h0m-1 2h0m-3 2h0m-3-1h0m0 2h0m-1-3h0m0 3h0m0-3h0m-1-1h0m0 2h0m-2 0h0m-1 1h0m-6-3h0m-1 4h0m-1-2h0m-5-4h0m-5 1h0m-8 2h0m-7 3h0m-12 0h0m-14 4h0m22 1h0m1 0h0m14-3h0m4 2h0m1 0h0m0 0h0m2-2h0m2 1h0m1-1h0m2 1h0m0 0h0m2-2h0m0 2h0m2 3h0m1-2h0m0 0h0m6-2h0m0 0h0m0 5h0m3 1h0m2-2h0m3 2h0m0-7h0m1 4h0m5 2h0m0-3h0m1-1h0m2-1h0m1 3h0m1-1h0m3 5h0m6-3h0m4 1h0m1-1h0m2-1h0m1-3h0m1 5h0m4-2h0m2 2h0m1-1h0m0 3h0m2-2h0m1 0h0m0 2h0m4-5h0m0 0h0m1 2h0m0-1h0m2 1h0m2-1h0m3 2h0m2-6h0m1 3h0m2-1h0m6 6h0m16-4h0m0-2h0m26 13h0m-17-1h0m-15 0h0m-6-2h0m-3 2h0m-5-1h0m-6-4h0m0 0h0m0 2h0m-7-3h0m-1 6h0m0-4h0m-3 3h0m-3-4h0m-3 5h0m-1-3h0m-3 2h0m-2 2h0m0-7h0m-1 5h0m-1-4h0m-2 1h0m-4 3h0m0-1h0m-1 1h0m-2-1h0m-1-1h0m-2 4h0m-11-6h0m-1 3h0m0 2h0m-4-1h0m0-2h0m-3 3h0m-2-3h0m0 5h0m-2-2h0m-3 0h0m-6-5h0m0 2h0m-7 4h0m-1-2h0m-5 1h0m-1-4h0m-2-1h0m-1 7h0m-1 0h0m-1 0h0m-6-2h0m-2 1h0m-2-3h0m-1-2h0m-1-1h0m-23 12h0m19-4h0m20 3h0m2-4h0m1 2h0m0 0h0m2-2h0m3 4h0m1-1h0m5 4h0m2-6h0m4 1h0m4 3h0m1-3h0m1-1h0m1 6h0m4-6h0m0 4h0m0-2h0m1-2h0m1 4h0m0-4h0m1 6h0m0-4h0m1 3h0m1-2h0m1 1h0m0 2h0m3-1h0m0-4h0m2 0h0m0 3h0m1 1h0m3-5h0m1 3h0m5-1h0m0-2h0m0 0h0m1 2h0m5 2h0m1 2h0m2-3h0m2 3h0m2-1h0m0-6h0m1 1h0m1 3h0m2-3h0m8 3h0m1 1h0m6 2h0m12-5h0m17-2h0m10 4h0m-21 8h0m0 2h0m-11-2h0m-2 1h0m-6-1h0m0 1h0m-1-4h0m-6 0h0m-2 3h0m0 0h0m-5-2h0m-3 4h0m-3-4h0m-6-1h0m-2 4h0m-1-1h0m-3 1h0m0-2h0m-3 2h0m0-5h0m0 1h0m-3 5h0m0-3h0m-3 1h0m-2 0h0m-6 2h0m-6 0h0m0-4h0m-2 5h0m0-4h0m-1 4h0m-2 0h0m-2-2h0m-2 2h0m-1-1h0m-1-3h0m-7 2h0m-5 2h0m0-5h0m-1-1h0m-2-1h0m-1 3h0m-5 4h0m-2-3h0m0 0h0m-1 4h0m-1-8h0m0 2h0m-2 4h0m-9-4h0m-2 5h0m-25 2h0m15 6h0m4-1h0m3-5h0m1 4h0m9-2h0m7 4h0m0-3h0m1 2h0m1-4h0m1 1h0m2 2h0m2 2h0m1-4h0m1 1h0m3-3h0m3 4h0m1-3h0m1 4h0m1 2h0m1-1h0m2-4h0m1-3h0m1 0h0m2 1h0m0 4h0m1-1h0m1-4h0m0 2h0m1 2h0m2 3h0m3-2h0m0 3h0m1-4h0m3-4h0m1 0h0m0 3h0m1-2h0m1 3h0m1 2h0m0-2h0m2 3h0m0 1h0m2-5h0m2-1h0m1 4h0m1-4h0m0-2h0m0 0h0m2 4h0m3-2h0m1 4h0m1 1h0m1-2h0m0-3h0m2 3h0m1 1h0m4-3h0m3 1h0m1 1h0m0 0h0m2 0h0m5-2h0m2 2h0m3-3h0m5 4h0m14-3h0m4 4h0m2 0h0m2-3h0m18-3h0m1 13h0m-14-2h0m-7-4h0m-2 6h0m-3-1h0m-1 1h0m-2-1h0m-1-2h0m-10-3h0m-3 3h0m0 4h0m-5-1h0m-2 1h0m-6-5h0m-1 3h0m-6-3h0m0 5h0m-3-5h0m-1 6h0m0-2h0m0-1h0m-1 0h0m-2-5h0m0 3h0m0 5h0m-7-1h0m-1-7h0m-5 3h0m-1 4h0m-3-1h0m-1 2h0m-1-3h0m-1-5h0m-5 6h0m0-1h0m0 3h0m-4-6h0m0 0h0m-2 1h0m-1 1h0m0 3h0m-3-4h0m-3-2h0m-1 2h0m-1-3h0m-1 6h0m0-3h0m-4 0h0m0 0h0m-2 0h0m-2-2h0m-1-1h0m-2 0h0m-2 5h0m0 1h0m-1-3h0m0 4h0m-2-5h0m-4 1h0m-2 5h0m-1-3h0m0-4h0m-2 4h0m-2 0h0m-12-2h0m-1 1h0m-14-2h0m-3 14h0m9-2h0m0-5h0m3 1h0m1 6h0m3-2h0m3-5h0m2 4h0m0 1h0m5-1h0m2-1h0m7 2h0m0 1h0m0 1h0m7-4h0m4 3h0m1 0h0m4 0h0m3-7h0m1 7h0m2-7h0m0 6h0m1-4h0m1 3h0m1-1h0m0-2h0m0 4h0m3-5h0m2 0h0m1 1h0m2 1h0m0 1h0m0-1h0m1 0h0m6 2h0m0-1h0m0 0h0m4 2h0m0-5h0m2 5h0m1-5h0m0-1h0m0 6h0m2-2h0m0 3h0m6 1h0m3-6h0m1 1h0m0-1h0m0 4h0m5-1h0m0 0h0m4 1h0m0-4h0m1 4h0m2-2h0m0-2h0m0 1h0m2 3h0m1-2h0m5 1h0m1 1h0m2-3h0m0 0h0m4-1h0m3 3h0m0-1h0m4-1h0m4-2h0m6 0h0m15 1h0m-9 9h0m-24-2h0m-4 6h0m-4-7h0m-4 7h0m-6 1h0m-1-4h0m-1-2h0m-2 5h0m-1-7h0m-5 2h0m-2 6h0m-1-2h0m0 0h0m-1 0h0m-14-4h0m-1 5h0m-2-3h0m-1 4h0m-2-3h0m-1 0h0m-4-2h0m-2-2h0m-3 6h0m-3-2h0m-6-4h0m-7 4h0m-1-4h0m-4 5h0m-11-6h0m0 1h0m-1 4h0m-7 0h0m-6-5h0m-7 3h0m-3 5h0m15 8h0m3-1h0m5-7h0m13 6h0m10-4h0m5 2h0m0 2h0m5-5h0m1 2h0m3 3h0m1-3h0m1-1h0m0-2h0m8 5h0m2 0h0m12-2h0m3 0h0m0 3h0m1-6h0m1 2h0m3 5h0m2-4h0m1 3h0m4-2h0m3-1h0m0-2h0m2 0h0m4 1h0m4 1h0m0 2h0m5-1h0m1-3h0m4 5h0m2 0h0m0-1h0m5-3h0m24 5h0m31 2h0m-31 3h0m-32 0h0m-13 1h0m-2-5h0m-3 3h0m-6 2h0m-4-2h0m-6 4h0m0 1h0m-1-3h0m-5-4h0m-1 5h0m-1 0h0m-1-6h0m-4 0h0m-6 8h0m-1-5h0m-3-3h0m-5 4h0m-10 0h0m-24-1h0m-14 5h0m5 3h0m22 1h0m2-3h0m9 5h0m7 0h0m0-1h0m3-5h0m3 6h0m1-3h0m4 3h0m4 0h0m8-3h0m1-1h0m1 0h0m15-1h0m6 6h0m10-4h0m6 0h0m-12 11h0m-3 0h0m-1 1h0m-17 1h0m-13-6h0m-7 1h0m-6 3h0m-3-5h0m-6 7h0m-10-7h0m-7 6h0m-9-2h0m-18-3h0m6 8h0m15 4h0m10-5h0m12 7h0m16 0h0m12-7h0m7 0h0m-19 10h0m-4 3h0m-23-5h0m-3 5h0m-24-2h0m-6 7h0m28 0h0m14 1h0m11 1h0m8 9h0m-44 2h0" stroke="#000" stroke-opacity=".3" stroke-width="2.8" stroke-linecap="round" fill="none"/>
</g>
<line x1="408.5" y1="344.2" x2="408.5" y2="408.7" stroke="#3a3a3a" stroke-width=".9"/>
<line x1="376.9" y1="388.5" x2="441.4" y2="388.5" stroke="#3a3a3a" stroke-width=".9"/>
<text x="378.4" y="351.8" font-size="5" fill="#222">12.4</text>
<text x="434.9" y="351.8" font-size="5" fill="#222" text-anchor="end">15.2</text>
<text x="378.4" y="404.9" font-size="5" fill="#222">71.7</text>
<text x="434.9" y="404.9" font-size="5" fill="#222" text-anchor="end">0.65</text>
<text x="410.4" y="416.4" font-size="6.6" fill="#222" text-anchor="middle" textLength="16.5" lengthAdjust="spacingAndGlyphs">SCD5</text>
<rect x="0.5" y="0.5" width="519" height="438" fill="none" stroke="#000" stroke-width="1"/>
</svg>
</body></html>
